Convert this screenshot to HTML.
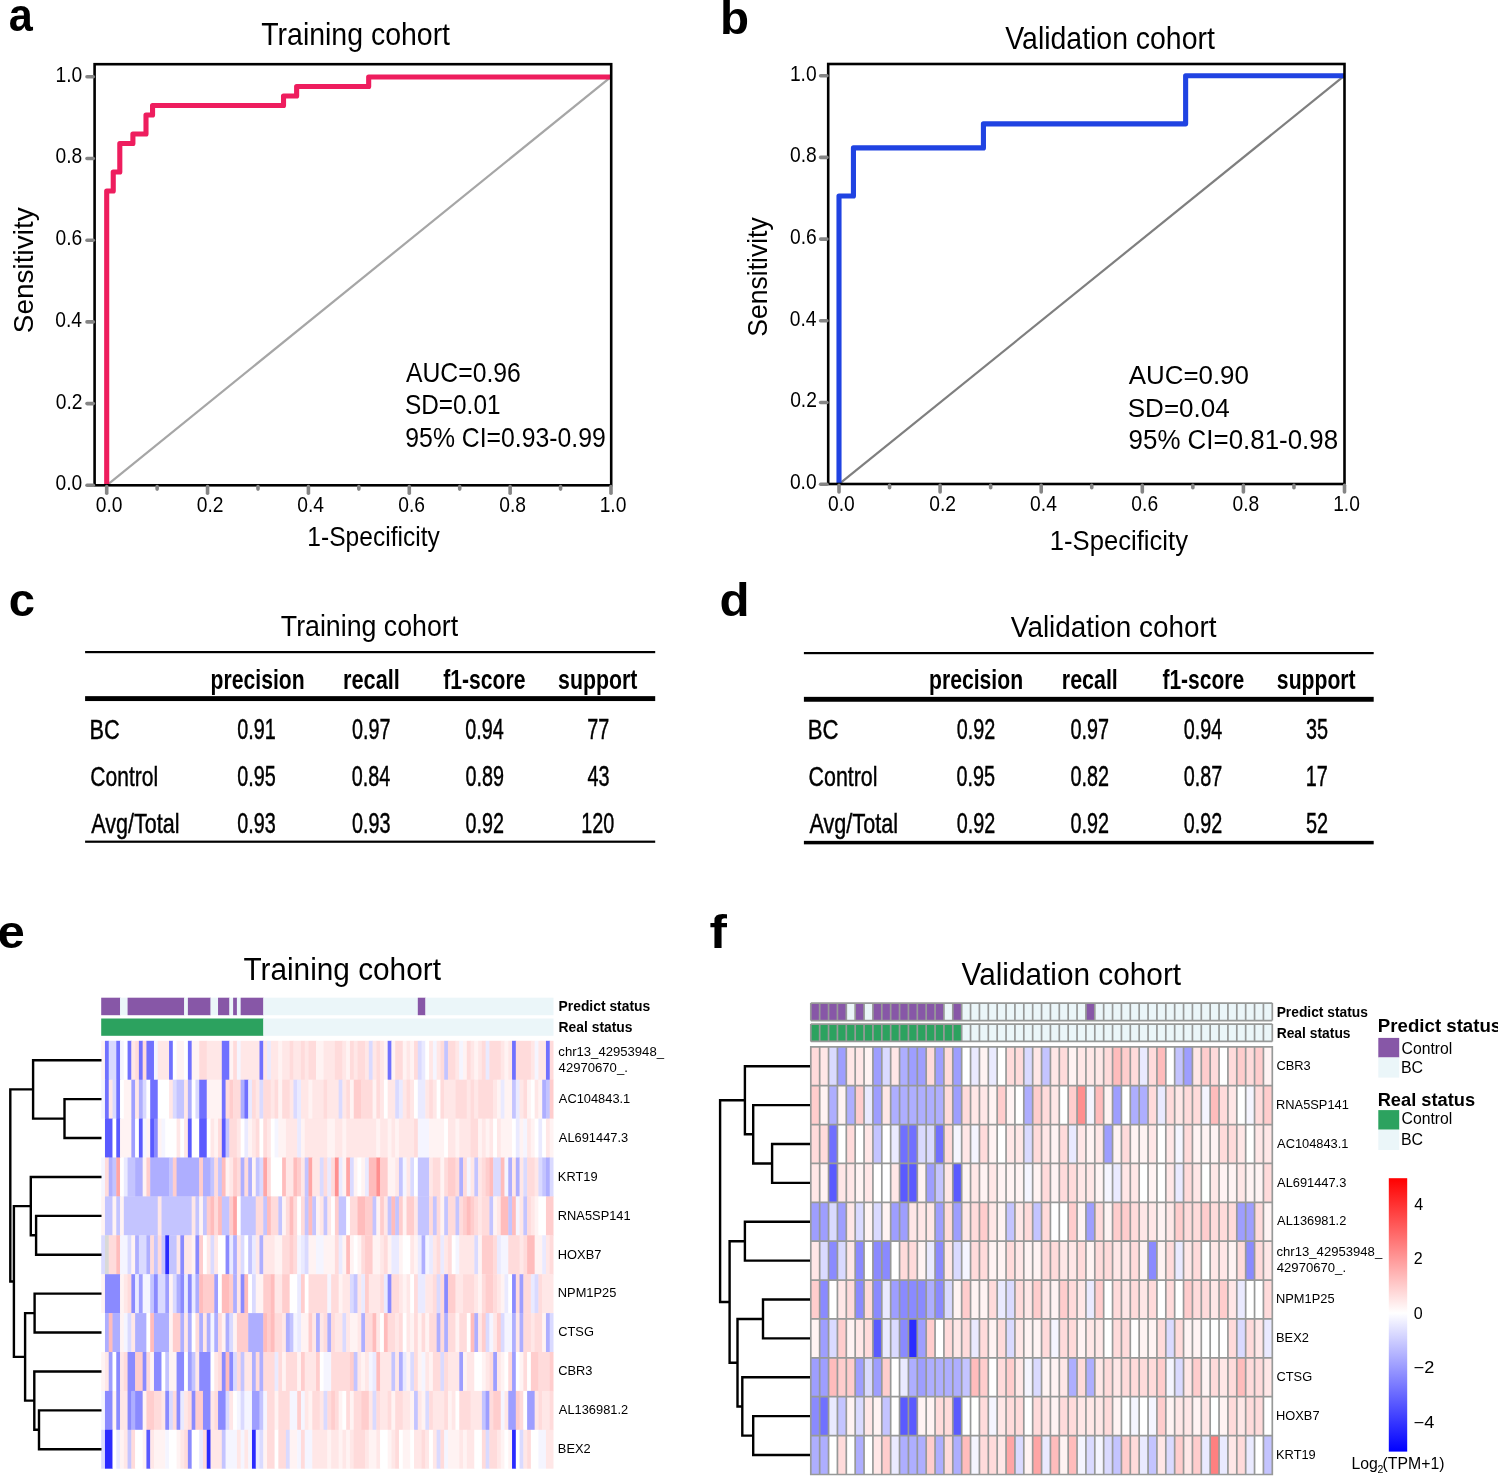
<!DOCTYPE html>
<html><head><meta charset="utf-8"><title>Figure</title>
<style>
html,body{margin:0;padding:0;background:#fff;}
body{width:1498px;height:1476px;overflow:hidden;}
svg{display:block;will-change:transform;}
text{font-family:"Liberation Sans",sans-serif;}
</style></head><body>
<svg width="1498" height="1476" viewBox="0 0 1498 1476">
<rect width="1498" height="1476" fill="#fff"/>
<text x="8.70" y="31.30" style="font-size:46.70px;font-weight:bold;" textLength="24.02" lengthAdjust="spacingAndGlyphs" fill="#000" >a</text>
<text x="719.91" y="33.60" style="font-size:45.79px;font-weight:bold;" textLength="29.03" lengthAdjust="spacingAndGlyphs" fill="#000" >b</text>
<text x="8.71" y="615.70" style="font-size:46.33px;font-weight:bold;" textLength="26.24" lengthAdjust="spacingAndGlyphs" fill="#000" >c</text>
<text x="719.63" y="615.90" style="font-size:46.34px;font-weight:bold;" textLength="30.12" lengthAdjust="spacingAndGlyphs" fill="#000" >d</text>
<text x="-2.46" y="947.50" style="font-size:46.51px;font-weight:bold;" textLength="27.32" lengthAdjust="spacingAndGlyphs" fill="#000" >e</text>
<text x="709.49" y="947.70" style="font-size:46.90px;font-weight:bold;" textLength="17.41" lengthAdjust="spacingAndGlyphs" fill="#000" >f</text>
<text x="261.26" y="44.60" style="font-size:31.56px;" textLength="188.77" lengthAdjust="spacingAndGlyphs" fill="#000" >Training cohort</text>
<line x1="106.70" y1="485.30" x2="611.00" y2="76.80" stroke="#A6A6A6" stroke-width="2.2" />
<polyline points="106.70,485.50 106.70,485.50 106.70,191.00 113.25,191.00 113.25,172.00 119.80,172.00 119.80,143.50 132.90,143.50 132.90,134.00 146.00,134.00 146.00,115.00 152.55,115.00 152.55,105.50 283.53,105.50 283.53,96.00 296.63,96.00 296.63,86.50 368.67,86.50 368.67,77.00 611.00,77.00" fill="none" stroke="#EE1D5E" stroke-width="5.1" stroke-linejoin="round" stroke-linecap="butt"/>
<rect x="94.60" y="64.20" width="516.60" height="421.10" fill="none" stroke="#000" stroke-width="2.6"/>
<line x1="87.00" y1="485.30" x2="93.30" y2="485.30" stroke="#858585" stroke-width="3.6" stroke-linecap="round"/>
<text x="55.50" y="490.20" style="font-size:21.36px;" textLength="26.73" lengthAdjust="spacingAndGlyphs" fill="#000" >0.0</text>
<line x1="87.00" y1="403.60" x2="93.30" y2="403.60" stroke="#858585" stroke-width="3.6" stroke-linecap="round"/>
<text x="55.74" y="408.50" style="font-size:21.36px;" textLength="26.73" lengthAdjust="spacingAndGlyphs" fill="#000" >0.2</text>
<line x1="87.00" y1="321.90" x2="93.30" y2="321.90" stroke="#858585" stroke-width="3.6" stroke-linecap="round"/>
<text x="55.30" y="326.80" style="font-size:21.36px;" textLength="26.73" lengthAdjust="spacingAndGlyphs" fill="#000" >0.4</text>
<line x1="87.00" y1="240.20" x2="93.30" y2="240.20" stroke="#858585" stroke-width="3.6" stroke-linecap="round"/>
<text x="55.59" y="245.10" style="font-size:21.36px;" textLength="26.73" lengthAdjust="spacingAndGlyphs" fill="#000" >0.6</text>
<line x1="87.00" y1="158.50" x2="93.30" y2="158.50" stroke="#858585" stroke-width="3.6" stroke-linecap="round"/>
<text x="55.59" y="163.40" style="font-size:21.36px;" textLength="26.73" lengthAdjust="spacingAndGlyphs" fill="#000" >0.8</text>
<line x1="87.00" y1="76.80" x2="93.30" y2="76.80" stroke="#858585" stroke-width="3.6" stroke-linecap="round"/>
<text x="55.50" y="81.70" style="font-size:21.36px;" textLength="26.73" lengthAdjust="spacingAndGlyphs" fill="#000" >1.0</text>
<line x1="106.70" y1="486.60" x2="106.70" y2="493.20" stroke="#858585" stroke-width="3.6" stroke-linecap="round"/>
<text x="95.71" y="512.20" style="font-size:21.36px;" textLength="26.73" lengthAdjust="spacingAndGlyphs" fill="#000" >0.0</text>
<line x1="157.13" y1="486.60" x2="157.13" y2="489.10" stroke="#858585" stroke-width="3.6" stroke-linecap="round"/>
<line x1="207.56" y1="486.60" x2="207.56" y2="493.20" stroke="#858585" stroke-width="3.6" stroke-linecap="round"/>
<text x="196.69" y="512.20" style="font-size:21.36px;" textLength="26.73" lengthAdjust="spacingAndGlyphs" fill="#000" >0.2</text>
<line x1="257.99" y1="486.60" x2="257.99" y2="489.10" stroke="#858585" stroke-width="3.6" stroke-linecap="round"/>
<line x1="308.42" y1="486.60" x2="308.42" y2="493.20" stroke="#858585" stroke-width="3.6" stroke-linecap="round"/>
<text x="297.34" y="512.20" style="font-size:21.36px;" textLength="26.73" lengthAdjust="spacingAndGlyphs" fill="#000" >0.4</text>
<line x1="358.85" y1="486.60" x2="358.85" y2="489.10" stroke="#858585" stroke-width="3.6" stroke-linecap="round"/>
<line x1="409.28" y1="486.60" x2="409.28" y2="493.20" stroke="#858585" stroke-width="3.6" stroke-linecap="round"/>
<text x="398.34" y="512.20" style="font-size:21.36px;" textLength="26.73" lengthAdjust="spacingAndGlyphs" fill="#000" >0.6</text>
<line x1="459.71" y1="486.60" x2="459.71" y2="489.10" stroke="#858585" stroke-width="3.6" stroke-linecap="round"/>
<line x1="510.14" y1="486.60" x2="510.14" y2="493.20" stroke="#858585" stroke-width="3.6" stroke-linecap="round"/>
<text x="499.20" y="512.20" style="font-size:21.36px;" textLength="26.73" lengthAdjust="spacingAndGlyphs" fill="#000" >0.8</text>
<line x1="560.57" y1="486.60" x2="560.57" y2="489.10" stroke="#858585" stroke-width="3.6" stroke-linecap="round"/>
<line x1="611.00" y1="486.60" x2="611.00" y2="493.20" stroke="#858585" stroke-width="3.6" stroke-linecap="round"/>
<text x="599.68" y="512.20" style="font-size:21.36px;" textLength="26.73" lengthAdjust="spacingAndGlyphs" fill="#000" >1.0</text>
<text x="-1.26" y="0.00" style="font-size:27.20px;" textLength="125.80" lengthAdjust="spacingAndGlyphs" fill="#000" transform="translate(33.20,331.90) rotate(-90)">Sensitivity</text>
<text x="307.36" y="545.50" style="font-size:28.07px;" textLength="132.42" lengthAdjust="spacingAndGlyphs" fill="#000" >1-Specificity</text>
<text x="406.04" y="381.80" style="font-size:26.95px;" textLength="114.76" lengthAdjust="spacingAndGlyphs" fill="#000" >AUC=0.96</text>
<text x="405.00" y="413.70" style="font-size:26.95px;" textLength="95.50" lengthAdjust="spacingAndGlyphs" fill="#000" >SD=0.01</text>
<text x="405.32" y="446.70" style="font-size:27.81px;" textLength="200.53" lengthAdjust="spacingAndGlyphs" fill="#000" >95% CI=0.93-0.99</text>
<text x="1005.26" y="48.60" style="font-size:31.13px;" textLength="209.56" lengthAdjust="spacingAndGlyphs" fill="#000" >Validation cohort</text>
<line x1="839.00" y1="484.20" x2="1344.50" y2="75.70" stroke="#7F7F7F" stroke-width="2.2" />
<polyline points="839.00,484.30 839.00,484.30 839.00,195.95 853.44,195.95 853.44,147.89 983.43,147.89 983.43,123.86 1185.63,123.86 1185.63,75.80 1344.50,75.80" fill="none" stroke="#2043E2" stroke-width="5.1" stroke-linejoin="round" stroke-linecap="butt"/>
<rect x="828.20" y="64.00" width="516.30" height="420.00" fill="none" stroke="#000" stroke-width="2.6"/>
<line x1="820.60" y1="484.20" x2="826.90" y2="484.20" stroke="#858585" stroke-width="3.6" stroke-linecap="round"/>
<text x="789.90" y="489.10" style="font-size:21.36px;" textLength="26.73" lengthAdjust="spacingAndGlyphs" fill="#000" >0.0</text>
<line x1="820.60" y1="402.50" x2="826.90" y2="402.50" stroke="#858585" stroke-width="3.6" stroke-linecap="round"/>
<text x="790.14" y="407.40" style="font-size:21.36px;" textLength="26.73" lengthAdjust="spacingAndGlyphs" fill="#000" >0.2</text>
<line x1="820.60" y1="320.80" x2="826.90" y2="320.80" stroke="#858585" stroke-width="3.6" stroke-linecap="round"/>
<text x="789.70" y="325.70" style="font-size:21.36px;" textLength="26.73" lengthAdjust="spacingAndGlyphs" fill="#000" >0.4</text>
<line x1="820.60" y1="239.10" x2="826.90" y2="239.10" stroke="#858585" stroke-width="3.6" stroke-linecap="round"/>
<text x="789.99" y="244.00" style="font-size:21.36px;" textLength="26.73" lengthAdjust="spacingAndGlyphs" fill="#000" >0.6</text>
<line x1="820.60" y1="157.40" x2="826.90" y2="157.40" stroke="#858585" stroke-width="3.6" stroke-linecap="round"/>
<text x="789.99" y="162.30" style="font-size:21.36px;" textLength="26.73" lengthAdjust="spacingAndGlyphs" fill="#000" >0.8</text>
<line x1="820.60" y1="75.70" x2="826.90" y2="75.70" stroke="#858585" stroke-width="3.6" stroke-linecap="round"/>
<text x="789.90" y="80.60" style="font-size:21.36px;" textLength="26.73" lengthAdjust="spacingAndGlyphs" fill="#000" >1.0</text>
<line x1="839.00" y1="485.30" x2="839.00" y2="491.90" stroke="#858585" stroke-width="3.6" stroke-linecap="round"/>
<text x="828.01" y="510.70" style="font-size:21.36px;" textLength="26.73" lengthAdjust="spacingAndGlyphs" fill="#000" >0.0</text>
<line x1="889.55" y1="485.30" x2="889.55" y2="487.80" stroke="#858585" stroke-width="3.6" stroke-linecap="round"/>
<line x1="940.10" y1="485.30" x2="940.10" y2="491.90" stroke="#858585" stroke-width="3.6" stroke-linecap="round"/>
<text x="929.23" y="510.70" style="font-size:21.36px;" textLength="26.73" lengthAdjust="spacingAndGlyphs" fill="#000" >0.2</text>
<line x1="990.65" y1="485.30" x2="990.65" y2="487.80" stroke="#858585" stroke-width="3.6" stroke-linecap="round"/>
<line x1="1041.20" y1="485.30" x2="1041.20" y2="491.90" stroke="#858585" stroke-width="3.6" stroke-linecap="round"/>
<text x="1030.12" y="510.70" style="font-size:21.36px;" textLength="26.73" lengthAdjust="spacingAndGlyphs" fill="#000" >0.4</text>
<line x1="1091.75" y1="485.30" x2="1091.75" y2="487.80" stroke="#858585" stroke-width="3.6" stroke-linecap="round"/>
<line x1="1142.30" y1="485.30" x2="1142.30" y2="491.90" stroke="#858585" stroke-width="3.6" stroke-linecap="round"/>
<text x="1131.36" y="510.70" style="font-size:21.36px;" textLength="26.73" lengthAdjust="spacingAndGlyphs" fill="#000" >0.6</text>
<line x1="1192.85" y1="485.30" x2="1192.85" y2="487.80" stroke="#858585" stroke-width="3.6" stroke-linecap="round"/>
<line x1="1243.40" y1="485.30" x2="1243.40" y2="491.90" stroke="#858585" stroke-width="3.6" stroke-linecap="round"/>
<text x="1232.46" y="510.70" style="font-size:21.36px;" textLength="26.73" lengthAdjust="spacingAndGlyphs" fill="#000" >0.8</text>
<line x1="1293.95" y1="485.30" x2="1293.95" y2="487.80" stroke="#858585" stroke-width="3.6" stroke-linecap="round"/>
<line x1="1344.50" y1="485.30" x2="1344.50" y2="491.90" stroke="#858585" stroke-width="3.6" stroke-linecap="round"/>
<text x="1333.18" y="510.70" style="font-size:21.36px;" textLength="26.73" lengthAdjust="spacingAndGlyphs" fill="#000" >1.0</text>
<text x="-1.19" y="0.00" style="font-size:27.64px;" textLength="119.44" lengthAdjust="spacingAndGlyphs" fill="#000" transform="translate(766.60,335.50) rotate(-90)">Sensitivity</text>
<text x="1049.78" y="549.50" style="font-size:27.93px;" textLength="138.21" lengthAdjust="spacingAndGlyphs" fill="#000" >1-Specificity</text>
<text x="1128.84" y="384.20" style="font-size:26.24px;" textLength="120.08" lengthAdjust="spacingAndGlyphs" fill="#000" >AUC=0.90</text>
<text x="1127.73" y="416.70" style="font-size:26.24px;" textLength="102.04" lengthAdjust="spacingAndGlyphs" fill="#000" >SD=0.04</text>
<text x="1128.57" y="449.30" style="font-size:27.38px;" textLength="209.57" lengthAdjust="spacingAndGlyphs" fill="#000" >95% CI=0.81-0.98</text>
<text x="280.80" y="635.60" style="font-size:29.67px;" textLength="177.42" lengthAdjust="spacingAndGlyphs" fill="#000" >Training cohort</text>
<rect x="85.10" y="651.00" width="570.10" height="2.20" fill="#000" />
<rect x="85.10" y="696.15" width="570.10" height="4.90" fill="#000" />
<rect x="85.10" y="840.60" width="570.10" height="2.20" fill="#000" />
<text x="210.62" y="688.80" style="font-size:28.06px;font-weight:bold;" textLength="94.07" lengthAdjust="spacingAndGlyphs" fill="#000" >precision</text>
<text x="343.09" y="688.80" style="font-size:28.06px;font-weight:bold;" textLength="56.75" lengthAdjust="spacingAndGlyphs" fill="#000" >recall</text>
<text x="443.33" y="688.80" style="font-size:28.06px;font-weight:bold;" textLength="82.07" lengthAdjust="spacingAndGlyphs" fill="#000" >f1-score</text>
<text x="558.05" y="688.80" style="font-size:28.06px;font-weight:bold;" textLength="79.30" lengthAdjust="spacingAndGlyphs" fill="#000" >support</text>
<text x="89.61" y="739.00" style="font-size:28.51px;" textLength="30.19" lengthAdjust="spacingAndGlyphs" fill="#000" stroke="#000" stroke-width="0.45">BC</text>
<text x="90.35" y="786.00" style="font-size:28.51px;" textLength="67.74" lengthAdjust="spacingAndGlyphs" fill="#000" stroke="#000" stroke-width="0.45">Control</text>
<text x="91.35" y="833.00" style="font-size:28.51px;" textLength="88.22" lengthAdjust="spacingAndGlyphs" fill="#000" stroke="#000" stroke-width="0.45">Avg/Total</text>
<text x="237.33" y="739.00" style="font-size:28.67px;" textLength="38.51" lengthAdjust="spacingAndGlyphs" fill="#000" stroke="#000" stroke-width="0.45">0.91</text>
<text x="352.06" y="739.00" style="font-size:28.67px;" textLength="38.51" lengthAdjust="spacingAndGlyphs" fill="#000" stroke="#000" stroke-width="0.45">0.97</text>
<text x="465.34" y="739.00" style="font-size:28.67px;" textLength="38.51" lengthAdjust="spacingAndGlyphs" fill="#000" stroke="#000" stroke-width="0.45">0.94</text>
<text x="587.22" y="739.00" style="font-size:28.67px;" textLength="22.01" lengthAdjust="spacingAndGlyphs" fill="#000" stroke="#000" stroke-width="0.45">77</text>
<text x="237.26" y="786.00" style="font-size:28.67px;" textLength="38.51" lengthAdjust="spacingAndGlyphs" fill="#000" stroke="#000" stroke-width="0.45">0.95</text>
<text x="351.84" y="786.00" style="font-size:28.67px;" textLength="38.51" lengthAdjust="spacingAndGlyphs" fill="#000" stroke="#000" stroke-width="0.45">0.84</text>
<text x="465.51" y="786.00" style="font-size:28.67px;" textLength="38.51" lengthAdjust="spacingAndGlyphs" fill="#000" stroke="#000" stroke-width="0.45">0.89</text>
<text x="587.42" y="786.00" style="font-size:28.67px;" textLength="22.01" lengthAdjust="spacingAndGlyphs" fill="#000" stroke="#000" stroke-width="0.45">43</text>
<text x="237.28" y="833.00" style="font-size:28.67px;" textLength="38.51" lengthAdjust="spacingAndGlyphs" fill="#000" stroke="#000" stroke-width="0.45">0.93</text>
<text x="351.98" y="833.00" style="font-size:28.67px;" textLength="38.51" lengthAdjust="spacingAndGlyphs" fill="#000" stroke="#000" stroke-width="0.45">0.93</text>
<text x="465.56" y="833.00" style="font-size:28.67px;" textLength="38.51" lengthAdjust="spacingAndGlyphs" fill="#000" stroke="#000" stroke-width="0.45">0.92</text>
<text x="581.33" y="833.00" style="font-size:28.67px;" textLength="33.01" lengthAdjust="spacingAndGlyphs" fill="#000" stroke="#000" stroke-width="0.45">120</text>
<text x="1010.86" y="636.70" style="font-size:29.67px;" textLength="205.66" lengthAdjust="spacingAndGlyphs" fill="#000" >Validation cohort</text>
<rect x="803.90" y="652.00" width="569.80" height="2.20" fill="#000" />
<rect x="803.90" y="696.85" width="569.80" height="4.90" fill="#000" />
<rect x="803.90" y="840.85" width="569.80" height="3.50" fill="#000" />
<text x="929.02" y="688.80" style="font-size:28.06px;font-weight:bold;" textLength="94.07" lengthAdjust="spacingAndGlyphs" fill="#000" >precision</text>
<text x="1061.81" y="688.80" style="font-size:28.06px;font-weight:bold;" textLength="56.01" lengthAdjust="spacingAndGlyphs" fill="#000" >recall</text>
<text x="1162.43" y="688.80" style="font-size:28.06px;font-weight:bold;" textLength="81.77" lengthAdjust="spacingAndGlyphs" fill="#000" >f1-score</text>
<text x="1276.86" y="688.80" style="font-size:28.06px;font-weight:bold;" textLength="78.79" lengthAdjust="spacingAndGlyphs" fill="#000" >support</text>
<text x="807.77" y="739.00" style="font-size:28.51px;" textLength="30.74" lengthAdjust="spacingAndGlyphs" fill="#000" stroke="#000" stroke-width="0.45">BC</text>
<text x="808.53" y="785.50" style="font-size:28.51px;" textLength="68.99" lengthAdjust="spacingAndGlyphs" fill="#000" stroke="#000" stroke-width="0.45">Control</text>
<text x="809.55" y="833.00" style="font-size:28.51px;" textLength="88.42" lengthAdjust="spacingAndGlyphs" fill="#000" stroke="#000" stroke-width="0.45">Avg/Total</text>
<text x="956.66" y="739.00" style="font-size:28.67px;" textLength="38.51" lengthAdjust="spacingAndGlyphs" fill="#000" stroke="#000" stroke-width="0.45">0.92</text>
<text x="1070.56" y="739.00" style="font-size:28.67px;" textLength="38.51" lengthAdjust="spacingAndGlyphs" fill="#000" stroke="#000" stroke-width="0.45">0.97</text>
<text x="1183.64" y="739.00" style="font-size:28.67px;" textLength="38.51" lengthAdjust="spacingAndGlyphs" fill="#000" stroke="#000" stroke-width="0.45">0.94</text>
<text x="1305.94" y="739.00" style="font-size:28.67px;" textLength="22.01" lengthAdjust="spacingAndGlyphs" fill="#000" stroke="#000" stroke-width="0.45">35</text>
<text x="956.56" y="785.50" style="font-size:28.67px;" textLength="38.51" lengthAdjust="spacingAndGlyphs" fill="#000" stroke="#000" stroke-width="0.45">0.95</text>
<text x="1070.56" y="785.50" style="font-size:28.67px;" textLength="38.51" lengthAdjust="spacingAndGlyphs" fill="#000" stroke="#000" stroke-width="0.45">0.82</text>
<text x="1183.86" y="785.50" style="font-size:28.67px;" textLength="38.51" lengthAdjust="spacingAndGlyphs" fill="#000" stroke="#000" stroke-width="0.45">0.87</text>
<text x="1305.67" y="785.50" style="font-size:28.67px;" textLength="22.01" lengthAdjust="spacingAndGlyphs" fill="#000" stroke="#000" stroke-width="0.45">17</text>
<text x="956.66" y="833.00" style="font-size:28.67px;" textLength="38.51" lengthAdjust="spacingAndGlyphs" fill="#000" stroke="#000" stroke-width="0.45">0.92</text>
<text x="1070.56" y="833.00" style="font-size:28.67px;" textLength="38.51" lengthAdjust="spacingAndGlyphs" fill="#000" stroke="#000" stroke-width="0.45">0.92</text>
<text x="1183.86" y="833.00" style="font-size:28.67px;" textLength="38.51" lengthAdjust="spacingAndGlyphs" fill="#000" stroke="#000" stroke-width="0.45">0.92</text>
<text x="1306.02" y="833.00" style="font-size:28.67px;" textLength="22.01" lengthAdjust="spacingAndGlyphs" fill="#000" stroke="#000" stroke-width="0.45">52</text>
<rect x="101.20" y="1040.80" width="4.17" height="39.30" fill="#fff3f3" />
<rect x="104.97" y="1040.80" width="4.17" height="39.30" fill="#7070ff" />
<rect x="108.74" y="1040.80" width="7.94" height="39.30" fill="#dadaff" />
<rect x="116.28" y="1040.80" width="4.17" height="39.30" fill="#7070ff" />
<rect x="120.05" y="1040.80" width="4.17" height="39.30" fill="#f5f5ff" />
<rect x="123.81" y="1040.80" width="4.17" height="39.30" fill="#ffffff" />
<rect x="127.58" y="1040.80" width="4.17" height="39.30" fill="#7070ff" />
<rect x="131.35" y="1040.80" width="4.17" height="39.30" fill="#ffe7e7" />
<rect x="135.12" y="1040.80" width="4.17" height="39.30" fill="#ffdbdb" />
<rect x="138.89" y="1040.80" width="4.17" height="39.30" fill="#7070ff" />
<rect x="142.66" y="1040.80" width="4.17" height="39.30" fill="#ffdbdb" />
<rect x="146.43" y="1040.80" width="7.94" height="39.30" fill="#7070ff" />
<rect x="153.97" y="1040.80" width="4.17" height="39.30" fill="#f5f5ff" />
<rect x="157.74" y="1040.80" width="11.71" height="39.30" fill="#ffe7e7" />
<rect x="169.05" y="1040.80" width="4.17" height="39.30" fill="#7070ff" />
<rect x="172.81" y="1040.80" width="4.17" height="39.30" fill="#ffffff" />
<rect x="176.58" y="1040.80" width="7.94" height="39.30" fill="#fff3f3" />
<rect x="184.12" y="1040.80" width="4.17" height="39.30" fill="#ffffff" />
<rect x="187.89" y="1040.80" width="4.17" height="39.30" fill="#7070ff" />
<rect x="191.66" y="1040.80" width="7.94" height="39.30" fill="#fff3f3" />
<rect x="199.20" y="1040.80" width="7.94" height="39.30" fill="#ffdbdb" />
<rect x="206.74" y="1040.80" width="15.48" height="39.30" fill="#ffe7e7" />
<rect x="221.81" y="1040.80" width="7.94" height="39.30" fill="#7070ff" />
<rect x="229.35" y="1040.80" width="4.17" height="39.30" fill="#fff3f3" />
<rect x="233.12" y="1040.80" width="4.17" height="39.30" fill="#ffdbdb" />
<rect x="236.89" y="1040.80" width="4.17" height="39.30" fill="#f5f5ff" />
<rect x="240.66" y="1040.80" width="19.25" height="39.30" fill="#ffe7e7" />
<rect x="259.50" y="1040.80" width="4.17" height="39.30" fill="#7070ff" />
<rect x="263.27" y="1040.80" width="4.17" height="39.30" fill="#ffe7e7" />
<rect x="267.04" y="1040.80" width="4.17" height="39.30" fill="#eaeaff" />
<rect x="270.81" y="1040.80" width="7.94" height="39.30" fill="#ffe7e7" />
<rect x="278.35" y="1040.80" width="4.17" height="39.30" fill="#fff3f3" />
<rect x="282.12" y="1040.80" width="7.94" height="39.30" fill="#ffe7e7" />
<rect x="289.66" y="1040.80" width="4.17" height="39.30" fill="#ffdbdb" />
<rect x="293.43" y="1040.80" width="7.94" height="39.30" fill="#ffe7e7" />
<rect x="300.97" y="1040.80" width="4.17" height="39.30" fill="#ffdbdb" />
<rect x="304.74" y="1040.80" width="4.17" height="39.30" fill="#ffe7e7" />
<rect x="308.50" y="1040.80" width="7.94" height="39.30" fill="#ffdbdb" />
<rect x="316.04" y="1040.80" width="7.94" height="39.30" fill="#fff3f3" />
<rect x="323.58" y="1040.80" width="11.71" height="39.30" fill="#ffe7e7" />
<rect x="334.89" y="1040.80" width="7.94" height="39.30" fill="#ffdbdb" />
<rect x="342.43" y="1040.80" width="4.17" height="39.30" fill="#ffe7e7" />
<rect x="346.20" y="1040.80" width="4.17" height="39.30" fill="#fff3f3" />
<rect x="349.96" y="1040.80" width="4.17" height="39.30" fill="#ffdbdb" />
<rect x="353.73" y="1040.80" width="4.17" height="39.30" fill="#ffe7e7" />
<rect x="357.50" y="1040.80" width="7.94" height="39.30" fill="#ffdbdb" />
<rect x="365.04" y="1040.80" width="4.17" height="39.30" fill="#ffe7e7" />
<rect x="368.81" y="1040.80" width="4.17" height="39.30" fill="#dadaff" />
<rect x="372.58" y="1040.80" width="4.17" height="39.30" fill="#ffe7e7" />
<rect x="376.35" y="1040.80" width="4.17" height="39.30" fill="#ffdbdb" />
<rect x="380.12" y="1040.80" width="4.17" height="39.30" fill="#ffe7e7" />
<rect x="383.89" y="1040.80" width="4.17" height="39.30" fill="#fff3f3" />
<rect x="387.66" y="1040.80" width="4.17" height="39.30" fill="#7070ff" />
<rect x="391.43" y="1040.80" width="4.17" height="39.30" fill="#fff3f3" />
<rect x="395.19" y="1040.80" width="7.94" height="39.30" fill="#ffdbdb" />
<rect x="402.73" y="1040.80" width="4.17" height="39.30" fill="#fff3f3" />
<rect x="406.50" y="1040.80" width="4.17" height="39.30" fill="#ffe7e7" />
<rect x="410.27" y="1040.80" width="4.17" height="39.30" fill="#fff3f3" />
<rect x="414.04" y="1040.80" width="4.17" height="39.30" fill="#ffdbdb" />
<rect x="417.81" y="1040.80" width="4.17" height="39.30" fill="#dadaff" />
<rect x="421.58" y="1040.80" width="4.17" height="39.30" fill="#eaeaff" />
<rect x="425.35" y="1040.80" width="4.17" height="39.30" fill="#ffffff" />
<rect x="429.12" y="1040.80" width="4.17" height="39.30" fill="#ffe7e7" />
<rect x="432.89" y="1040.80" width="4.17" height="39.30" fill="#f5f5ff" />
<rect x="436.66" y="1040.80" width="4.17" height="39.30" fill="#ffe7e7" />
<rect x="440.42" y="1040.80" width="4.17" height="39.30" fill="#ffdbdb" />
<rect x="444.19" y="1040.80" width="4.17" height="39.30" fill="#c4c4ff" />
<rect x="447.96" y="1040.80" width="7.94" height="39.30" fill="#ffdbdb" />
<rect x="455.50" y="1040.80" width="4.17" height="39.30" fill="#ffe7e7" />
<rect x="459.27" y="1040.80" width="4.17" height="39.30" fill="#f5f5ff" />
<rect x="463.04" y="1040.80" width="4.17" height="39.30" fill="#fff3f3" />
<rect x="466.81" y="1040.80" width="4.17" height="39.30" fill="#ffdbdb" />
<rect x="470.58" y="1040.80" width="4.17" height="39.30" fill="#ffe7e7" />
<rect x="474.35" y="1040.80" width="4.17" height="39.30" fill="#fff3f3" />
<rect x="478.12" y="1040.80" width="4.17" height="39.30" fill="#ffe7e7" />
<rect x="481.89" y="1040.80" width="4.17" height="39.30" fill="#ffdbdb" />
<rect x="485.65" y="1040.80" width="4.17" height="39.30" fill="#eaeaff" />
<rect x="489.42" y="1040.80" width="11.71" height="39.30" fill="#ffdbdb" />
<rect x="500.73" y="1040.80" width="4.17" height="39.30" fill="#ffe7e7" />
<rect x="504.50" y="1040.80" width="4.17" height="39.30" fill="#fff3f3" />
<rect x="508.27" y="1040.80" width="4.17" height="39.30" fill="#ffe7e7" />
<rect x="512.04" y="1040.80" width="4.17" height="39.30" fill="#7070ff" />
<rect x="515.81" y="1040.80" width="15.48" height="39.30" fill="#ffdbdb" />
<rect x="530.88" y="1040.80" width="4.17" height="39.30" fill="#ffe7e7" />
<rect x="534.65" y="1040.80" width="4.17" height="39.30" fill="#f5f5ff" />
<rect x="538.42" y="1040.80" width="7.94" height="39.30" fill="#ffe7e7" />
<rect x="545.96" y="1040.80" width="4.17" height="39.30" fill="#7070ff" />
<rect x="549.73" y="1040.80" width="3.77" height="39.30" fill="#ffdbdb" />
<rect x="101.20" y="1079.70" width="4.17" height="39.30" fill="#f5f5ff" />
<rect x="104.97" y="1079.70" width="4.17" height="39.30" fill="#7070ff" />
<rect x="108.74" y="1079.70" width="4.17" height="39.30" fill="#ffe7e7" />
<rect x="112.51" y="1079.70" width="4.17" height="39.30" fill="#dadaff" />
<rect x="116.28" y="1079.70" width="4.17" height="39.30" fill="#7070ff" />
<rect x="120.05" y="1079.70" width="4.17" height="39.30" fill="#ffffff" />
<rect x="123.81" y="1079.70" width="7.94" height="39.30" fill="#fff3f3" />
<rect x="131.35" y="1079.70" width="4.17" height="39.30" fill="#9e9eff" />
<rect x="135.12" y="1079.70" width="4.17" height="39.30" fill="#ffe7e7" />
<rect x="138.89" y="1079.70" width="4.17" height="39.30" fill="#aeaeff" />
<rect x="142.66" y="1079.70" width="4.17" height="39.30" fill="#dadaff" />
<rect x="146.43" y="1079.70" width="4.17" height="39.30" fill="#ffffff" />
<rect x="150.20" y="1079.70" width="7.94" height="39.30" fill="#7070ff" />
<rect x="157.74" y="1079.70" width="11.71" height="39.30" fill="#ffffff" />
<rect x="169.05" y="1079.70" width="4.17" height="39.30" fill="#ffe7e7" />
<rect x="172.81" y="1079.70" width="4.17" height="39.30" fill="#dadaff" />
<rect x="176.58" y="1079.70" width="7.94" height="39.30" fill="#c4c4ff" />
<rect x="184.12" y="1079.70" width="4.17" height="39.30" fill="#ffe7e7" />
<rect x="187.89" y="1079.70" width="4.17" height="39.30" fill="#aeaeff" />
<rect x="191.66" y="1079.70" width="4.17" height="39.30" fill="#ffffff" />
<rect x="195.43" y="1079.70" width="4.17" height="39.30" fill="#dadaff" />
<rect x="199.20" y="1079.70" width="7.94" height="39.30" fill="#7070ff" />
<rect x="206.74" y="1079.70" width="15.48" height="39.30" fill="#fff3f3" />
<rect x="221.81" y="1079.70" width="4.17" height="39.30" fill="#7070ff" />
<rect x="225.58" y="1079.70" width="4.17" height="39.30" fill="#ffdbdb" />
<rect x="229.35" y="1079.70" width="4.17" height="39.30" fill="#ffcdcd" />
<rect x="233.12" y="1079.70" width="7.94" height="39.30" fill="#ffdbdb" />
<rect x="240.66" y="1079.70" width="4.17" height="39.30" fill="#aeaeff" />
<rect x="244.43" y="1079.70" width="4.17" height="39.30" fill="#7070ff" />
<rect x="248.20" y="1079.70" width="4.17" height="39.30" fill="#eaeaff" />
<rect x="251.97" y="1079.70" width="4.17" height="39.30" fill="#ffdbdb" />
<rect x="255.74" y="1079.70" width="4.17" height="39.30" fill="#ffe7e7" />
<rect x="259.50" y="1079.70" width="4.17" height="39.30" fill="#dadaff" />
<rect x="263.27" y="1079.70" width="7.94" height="39.30" fill="#ffdbdb" />
<rect x="270.81" y="1079.70" width="4.17" height="39.30" fill="#ffe7e7" />
<rect x="274.58" y="1079.70" width="4.17" height="39.30" fill="#ffdbdb" />
<rect x="278.35" y="1079.70" width="4.17" height="39.30" fill="#fff3f3" />
<rect x="282.12" y="1079.70" width="7.94" height="39.30" fill="#ffdbdb" />
<rect x="289.66" y="1079.70" width="4.17" height="39.30" fill="#ffe7e7" />
<rect x="293.43" y="1079.70" width="4.17" height="39.30" fill="#dadaff" />
<rect x="297.20" y="1079.70" width="4.17" height="39.30" fill="#eaeaff" />
<rect x="300.97" y="1079.70" width="7.94" height="39.30" fill="#ffe7e7" />
<rect x="308.50" y="1079.70" width="4.17" height="39.30" fill="#fff3f3" />
<rect x="312.27" y="1079.70" width="11.71" height="39.30" fill="#ffe7e7" />
<rect x="323.58" y="1079.70" width="4.17" height="39.30" fill="#ffdbdb" />
<rect x="327.35" y="1079.70" width="11.71" height="39.30" fill="#ffe7e7" />
<rect x="338.66" y="1079.70" width="4.17" height="39.30" fill="#dadaff" />
<rect x="342.43" y="1079.70" width="4.17" height="39.30" fill="#ffe7e7" />
<rect x="346.20" y="1079.70" width="4.17" height="39.30" fill="#ffdbdb" />
<rect x="349.96" y="1079.70" width="4.17" height="39.30" fill="#fff3f3" />
<rect x="353.73" y="1079.70" width="7.94" height="39.30" fill="#ffcdcd" />
<rect x="361.27" y="1079.70" width="11.71" height="39.30" fill="#ffdbdb" />
<rect x="372.58" y="1079.70" width="4.17" height="39.30" fill="#fff3f3" />
<rect x="376.35" y="1079.70" width="4.17" height="39.30" fill="#ffdbdb" />
<rect x="380.12" y="1079.70" width="4.17" height="39.30" fill="#ffe7e7" />
<rect x="383.89" y="1079.70" width="4.17" height="39.30" fill="#ffffff" />
<rect x="387.66" y="1079.70" width="7.94" height="39.30" fill="#ffe7e7" />
<rect x="395.19" y="1079.70" width="4.17" height="39.30" fill="#dadaff" />
<rect x="398.96" y="1079.70" width="4.17" height="39.30" fill="#eaeaff" />
<rect x="402.73" y="1079.70" width="4.17" height="39.30" fill="#ffe7e7" />
<rect x="406.50" y="1079.70" width="4.17" height="39.30" fill="#ffdbdb" />
<rect x="410.27" y="1079.70" width="4.17" height="39.30" fill="#ffe7e7" />
<rect x="414.04" y="1079.70" width="4.17" height="39.30" fill="#ffffff" />
<rect x="417.81" y="1079.70" width="7.94" height="39.30" fill="#eaeaff" />
<rect x="425.35" y="1079.70" width="4.17" height="39.30" fill="#ffe7e7" />
<rect x="429.12" y="1079.70" width="4.17" height="39.30" fill="#ffdbdb" />
<rect x="432.89" y="1079.70" width="4.17" height="39.30" fill="#ffe7e7" />
<rect x="436.66" y="1079.70" width="4.17" height="39.30" fill="#ffffff" />
<rect x="440.42" y="1079.70" width="4.17" height="39.30" fill="#ffdbdb" />
<rect x="444.19" y="1079.70" width="11.71" height="39.30" fill="#ffe7e7" />
<rect x="455.50" y="1079.70" width="11.71" height="39.30" fill="#ffdbdb" />
<rect x="466.81" y="1079.70" width="4.17" height="39.30" fill="#ffe7e7" />
<rect x="470.58" y="1079.70" width="4.17" height="39.30" fill="#ffdbdb" />
<rect x="474.35" y="1079.70" width="4.17" height="39.30" fill="#ffe7e7" />
<rect x="478.12" y="1079.70" width="15.48" height="39.30" fill="#ffdbdb" />
<rect x="493.19" y="1079.70" width="4.17" height="39.30" fill="#ffe7e7" />
<rect x="496.96" y="1079.70" width="4.17" height="39.30" fill="#fff3f3" />
<rect x="500.73" y="1079.70" width="4.17" height="39.30" fill="#eaeaff" />
<rect x="504.50" y="1079.70" width="7.94" height="39.30" fill="#fff3f3" />
<rect x="512.04" y="1079.70" width="4.17" height="39.30" fill="#c4c4ff" />
<rect x="515.81" y="1079.70" width="4.17" height="39.30" fill="#eaeaff" />
<rect x="519.58" y="1079.70" width="4.17" height="39.30" fill="#ffe7e7" />
<rect x="523.35" y="1079.70" width="4.17" height="39.30" fill="#ffdbdb" />
<rect x="527.12" y="1079.70" width="4.17" height="39.30" fill="#fff3f3" />
<rect x="530.88" y="1079.70" width="4.17" height="39.30" fill="#ffffff" />
<rect x="534.65" y="1079.70" width="4.17" height="39.30" fill="#ffe7e7" />
<rect x="538.42" y="1079.70" width="4.17" height="39.30" fill="#fff3f3" />
<rect x="542.19" y="1079.70" width="4.17" height="39.30" fill="#aeaeff" />
<rect x="545.96" y="1079.70" width="4.17" height="39.30" fill="#c4c4ff" />
<rect x="549.73" y="1079.70" width="3.77" height="39.30" fill="#ffcdcd" />
<rect x="101.20" y="1118.60" width="4.17" height="39.30" fill="#ffffff" />
<rect x="104.97" y="1118.60" width="7.94" height="39.30" fill="#5a5aff" />
<rect x="112.51" y="1118.60" width="4.17" height="39.30" fill="#ffffff" />
<rect x="116.28" y="1118.60" width="4.17" height="39.30" fill="#5a5aff" />
<rect x="120.05" y="1118.60" width="11.71" height="39.30" fill="#fff3f3" />
<rect x="131.35" y="1118.60" width="4.17" height="39.30" fill="#9e9eff" />
<rect x="135.12" y="1118.60" width="4.17" height="39.30" fill="#ffffff" />
<rect x="138.89" y="1118.60" width="4.17" height="39.30" fill="#5a5aff" />
<rect x="142.66" y="1118.60" width="4.17" height="39.30" fill="#f5f5ff" />
<rect x="146.43" y="1118.60" width="4.17" height="39.30" fill="#fff3f3" />
<rect x="150.20" y="1118.60" width="4.17" height="39.30" fill="#5a5aff" />
<rect x="153.97" y="1118.60" width="4.17" height="39.30" fill="#8a8aff" />
<rect x="157.74" y="1118.60" width="4.17" height="39.30" fill="#fff3f3" />
<rect x="161.51" y="1118.60" width="4.17" height="39.30" fill="#f5f5ff" />
<rect x="165.28" y="1118.60" width="11.71" height="39.30" fill="#ffffff" />
<rect x="176.58" y="1118.60" width="4.17" height="39.30" fill="#ffe7e7" />
<rect x="180.35" y="1118.60" width="4.17" height="39.30" fill="#ffffff" />
<rect x="184.12" y="1118.60" width="4.17" height="39.30" fill="#ffe7e7" />
<rect x="187.89" y="1118.60" width="4.17" height="39.30" fill="#5a5aff" />
<rect x="191.66" y="1118.60" width="7.94" height="39.30" fill="#ffffff" />
<rect x="199.20" y="1118.60" width="7.94" height="39.30" fill="#5a5aff" />
<rect x="206.74" y="1118.60" width="4.17" height="39.30" fill="#ffffff" />
<rect x="210.51" y="1118.60" width="4.17" height="39.30" fill="#ffe7e7" />
<rect x="214.28" y="1118.60" width="4.17" height="39.30" fill="#fff3f3" />
<rect x="218.04" y="1118.60" width="4.17" height="39.30" fill="#ffdbdb" />
<rect x="221.81" y="1118.60" width="4.17" height="39.30" fill="#5a5aff" />
<rect x="225.58" y="1118.60" width="4.17" height="39.30" fill="#c4c4ff" />
<rect x="229.35" y="1118.60" width="7.94" height="39.30" fill="#ffdbdb" />
<rect x="236.89" y="1118.60" width="4.17" height="39.30" fill="#ffe7e7" />
<rect x="240.66" y="1118.60" width="4.17" height="39.30" fill="#ffffff" />
<rect x="244.43" y="1118.60" width="4.17" height="39.30" fill="#eaeaff" />
<rect x="248.20" y="1118.60" width="4.17" height="39.30" fill="#fff3f3" />
<rect x="251.97" y="1118.60" width="4.17" height="39.30" fill="#ffe7e7" />
<rect x="255.74" y="1118.60" width="4.17" height="39.30" fill="#ffdbdb" />
<rect x="259.50" y="1118.60" width="4.17" height="39.30" fill="#ffffff" />
<rect x="263.27" y="1118.60" width="4.17" height="39.30" fill="#ffdbdb" />
<rect x="267.04" y="1118.60" width="4.17" height="39.30" fill="#ffe7e7" />
<rect x="270.81" y="1118.60" width="4.17" height="39.30" fill="#ffffff" />
<rect x="274.58" y="1118.60" width="4.17" height="39.30" fill="#f5f5ff" />
<rect x="278.35" y="1118.60" width="7.94" height="39.30" fill="#fff3f3" />
<rect x="285.89" y="1118.60" width="11.71" height="39.30" fill="#ffe7e7" />
<rect x="297.20" y="1118.60" width="4.17" height="39.30" fill="#eaeaff" />
<rect x="300.97" y="1118.60" width="4.17" height="39.30" fill="#fff3f3" />
<rect x="304.74" y="1118.60" width="23.01" height="39.30" fill="#ffe7e7" />
<rect x="327.35" y="1118.60" width="7.94" height="39.30" fill="#fff3f3" />
<rect x="334.89" y="1118.60" width="7.94" height="39.30" fill="#ffe7e7" />
<rect x="342.43" y="1118.60" width="4.17" height="39.30" fill="#fff3f3" />
<rect x="346.20" y="1118.60" width="30.55" height="39.30" fill="#ffe7e7" />
<rect x="376.35" y="1118.60" width="4.17" height="39.30" fill="#fff3f3" />
<rect x="380.12" y="1118.60" width="7.94" height="39.30" fill="#ffe7e7" />
<rect x="387.66" y="1118.60" width="4.17" height="39.30" fill="#fff3f3" />
<rect x="391.43" y="1118.60" width="4.17" height="39.30" fill="#ffe7e7" />
<rect x="395.19" y="1118.60" width="4.17" height="39.30" fill="#fff3f3" />
<rect x="398.96" y="1118.60" width="15.48" height="39.30" fill="#ffe7e7" />
<rect x="414.04" y="1118.60" width="4.17" height="39.30" fill="#ffdbdb" />
<rect x="417.81" y="1118.60" width="11.71" height="39.30" fill="#f5f5ff" />
<rect x="429.12" y="1118.60" width="15.48" height="39.30" fill="#fff3f3" />
<rect x="444.19" y="1118.60" width="4.17" height="39.30" fill="#ffffff" />
<rect x="447.96" y="1118.60" width="7.94" height="39.30" fill="#ffe7e7" />
<rect x="455.50" y="1118.60" width="4.17" height="39.30" fill="#fff3f3" />
<rect x="459.27" y="1118.60" width="11.71" height="39.30" fill="#ffe7e7" />
<rect x="470.58" y="1118.60" width="7.94" height="39.30" fill="#ffdbdb" />
<rect x="478.12" y="1118.60" width="4.17" height="39.30" fill="#fff3f3" />
<rect x="481.89" y="1118.60" width="4.17" height="39.30" fill="#ffe7e7" />
<rect x="485.65" y="1118.60" width="4.17" height="39.30" fill="#fff3f3" />
<rect x="489.42" y="1118.60" width="4.17" height="39.30" fill="#ffe7e7" />
<rect x="493.19" y="1118.60" width="4.17" height="39.30" fill="#ffffff" />
<rect x="496.96" y="1118.60" width="4.17" height="39.30" fill="#ffe7e7" />
<rect x="500.73" y="1118.60" width="11.71" height="39.30" fill="#fff3f3" />
<rect x="512.04" y="1118.60" width="4.17" height="39.30" fill="#ffffff" />
<rect x="515.81" y="1118.60" width="4.17" height="39.30" fill="#eaeaff" />
<rect x="519.58" y="1118.60" width="4.17" height="39.30" fill="#fff3f3" />
<rect x="523.35" y="1118.60" width="4.17" height="39.30" fill="#f5f5ff" />
<rect x="527.12" y="1118.60" width="4.17" height="39.30" fill="#ffe7e7" />
<rect x="530.88" y="1118.60" width="4.17" height="39.30" fill="#fff3f3" />
<rect x="534.65" y="1118.60" width="4.17" height="39.30" fill="#ffffff" />
<rect x="538.42" y="1118.60" width="4.17" height="39.30" fill="#eaeaff" />
<rect x="542.19" y="1118.60" width="4.17" height="39.30" fill="#ffffff" />
<rect x="545.96" y="1118.60" width="4.17" height="39.30" fill="#ffe7e7" />
<rect x="549.73" y="1118.60" width="3.77" height="39.30" fill="#fff3f3" />
<rect x="101.20" y="1157.50" width="4.17" height="39.30" fill="#f5f5ff" />
<rect x="104.97" y="1157.50" width="4.17" height="39.30" fill="#ffdbdb" />
<rect x="108.74" y="1157.50" width="4.17" height="39.30" fill="#aeaeff" />
<rect x="112.51" y="1157.50" width="4.17" height="39.30" fill="#c4c4ff" />
<rect x="116.28" y="1157.50" width="4.17" height="39.30" fill="#ffa5a5" />
<rect x="120.05" y="1157.50" width="4.17" height="39.30" fill="#ffffff" />
<rect x="123.81" y="1157.50" width="4.17" height="39.30" fill="#eaeaff" />
<rect x="127.58" y="1157.50" width="7.94" height="39.30" fill="#c4c4ff" />
<rect x="135.12" y="1157.50" width="7.94" height="39.30" fill="#aeaeff" />
<rect x="142.66" y="1157.50" width="4.17" height="39.30" fill="#fff3f3" />
<rect x="146.43" y="1157.50" width="4.17" height="39.30" fill="#ffcdcd" />
<rect x="150.20" y="1157.50" width="19.25" height="39.30" fill="#aeaeff" />
<rect x="169.05" y="1157.50" width="4.17" height="39.30" fill="#c4c4ff" />
<rect x="172.81" y="1157.50" width="4.17" height="39.30" fill="#ffcdcd" />
<rect x="176.58" y="1157.50" width="23.01" height="39.30" fill="#aeaeff" />
<rect x="199.20" y="1157.50" width="4.17" height="39.30" fill="#ffcdcd" />
<rect x="202.97" y="1157.50" width="7.94" height="39.30" fill="#aeaeff" />
<rect x="210.51" y="1157.50" width="4.17" height="39.30" fill="#c4c4ff" />
<rect x="214.28" y="1157.50" width="4.17" height="39.30" fill="#ffdbdb" />
<rect x="218.04" y="1157.50" width="4.17" height="39.30" fill="#c4c4ff" />
<rect x="221.81" y="1157.50" width="4.17" height="39.30" fill="#ffbcbc" />
<rect x="225.58" y="1157.50" width="4.17" height="39.30" fill="#fff3f3" />
<rect x="229.35" y="1157.50" width="4.17" height="39.30" fill="#ffe7e7" />
<rect x="233.12" y="1157.50" width="4.17" height="39.30" fill="#ffcdcd" />
<rect x="236.89" y="1157.50" width="4.17" height="39.30" fill="#ffdbdb" />
<rect x="240.66" y="1157.50" width="4.17" height="39.30" fill="#aeaeff" />
<rect x="244.43" y="1157.50" width="4.17" height="39.30" fill="#ffdbdb" />
<rect x="248.20" y="1157.50" width="4.17" height="39.30" fill="#aeaeff" />
<rect x="251.97" y="1157.50" width="4.17" height="39.30" fill="#fff3f3" />
<rect x="255.74" y="1157.50" width="4.17" height="39.30" fill="#c4c4ff" />
<rect x="259.50" y="1157.50" width="4.17" height="39.30" fill="#dadaff" />
<rect x="263.27" y="1157.50" width="4.17" height="39.30" fill="#ffa5a5" />
<rect x="267.04" y="1157.50" width="4.17" height="39.30" fill="#ffdbdb" />
<rect x="270.81" y="1157.50" width="11.71" height="39.30" fill="#ffffff" />
<rect x="282.12" y="1157.50" width="4.17" height="39.30" fill="#ffbcbc" />
<rect x="285.89" y="1157.50" width="7.94" height="39.30" fill="#ffe7e7" />
<rect x="293.43" y="1157.50" width="4.17" height="39.30" fill="#ffbcbc" />
<rect x="297.20" y="1157.50" width="4.17" height="39.30" fill="#ffcdcd" />
<rect x="300.97" y="1157.50" width="4.17" height="39.30" fill="#ffe7e7" />
<rect x="304.74" y="1157.50" width="4.17" height="39.30" fill="#c4c4ff" />
<rect x="308.50" y="1157.50" width="4.17" height="39.30" fill="#ffa5a5" />
<rect x="312.27" y="1157.50" width="7.94" height="39.30" fill="#ffe7e7" />
<rect x="319.81" y="1157.50" width="4.17" height="39.30" fill="#dadaff" />
<rect x="323.58" y="1157.50" width="4.17" height="39.30" fill="#ffdbdb" />
<rect x="327.35" y="1157.50" width="4.17" height="39.30" fill="#eaeaff" />
<rect x="331.12" y="1157.50" width="4.17" height="39.30" fill="#ffdbdb" />
<rect x="334.89" y="1157.50" width="4.17" height="39.30" fill="#ff8f8f" />
<rect x="338.66" y="1157.50" width="4.17" height="39.30" fill="#eaeaff" />
<rect x="342.43" y="1157.50" width="4.17" height="39.30" fill="#fff3f3" />
<rect x="346.20" y="1157.50" width="4.17" height="39.30" fill="#ffa5a5" />
<rect x="349.96" y="1157.50" width="4.17" height="39.30" fill="#dadaff" />
<rect x="353.73" y="1157.50" width="4.17" height="39.30" fill="#fff3f3" />
<rect x="357.50" y="1157.50" width="4.17" height="39.30" fill="#ffffff" />
<rect x="361.27" y="1157.50" width="4.17" height="39.30" fill="#fff3f3" />
<rect x="365.04" y="1157.50" width="4.17" height="39.30" fill="#eaeaff" />
<rect x="368.81" y="1157.50" width="7.94" height="39.30" fill="#ffbcbc" />
<rect x="376.35" y="1157.50" width="4.17" height="39.30" fill="#ff8f8f" />
<rect x="380.12" y="1157.50" width="7.94" height="39.30" fill="#ffcdcd" />
<rect x="387.66" y="1157.50" width="7.94" height="39.30" fill="#fff3f3" />
<rect x="395.19" y="1157.50" width="4.17" height="39.30" fill="#ffe7e7" />
<rect x="398.96" y="1157.50" width="4.17" height="39.30" fill="#c4c4ff" />
<rect x="402.73" y="1157.50" width="4.17" height="39.30" fill="#f5f5ff" />
<rect x="406.50" y="1157.50" width="4.17" height="39.30" fill="#ffe7e7" />
<rect x="410.27" y="1157.50" width="4.17" height="39.30" fill="#dadaff" />
<rect x="414.04" y="1157.50" width="4.17" height="39.30" fill="#ffffff" />
<rect x="417.81" y="1157.50" width="11.71" height="39.30" fill="#c4c4ff" />
<rect x="429.12" y="1157.50" width="4.17" height="39.30" fill="#ffe7e7" />
<rect x="432.89" y="1157.50" width="7.94" height="39.30" fill="#ffdbdb" />
<rect x="440.42" y="1157.50" width="4.17" height="39.30" fill="#fff3f3" />
<rect x="444.19" y="1157.50" width="4.17" height="39.30" fill="#ffdbdb" />
<rect x="447.96" y="1157.50" width="7.94" height="39.30" fill="#ffcdcd" />
<rect x="455.50" y="1157.50" width="4.17" height="39.30" fill="#ffdbdb" />
<rect x="459.27" y="1157.50" width="4.17" height="39.30" fill="#aeaeff" />
<rect x="463.04" y="1157.50" width="4.17" height="39.30" fill="#ffdbdb" />
<rect x="466.81" y="1157.50" width="4.17" height="39.30" fill="#f5f5ff" />
<rect x="470.58" y="1157.50" width="4.17" height="39.30" fill="#ffe7e7" />
<rect x="474.35" y="1157.50" width="4.17" height="39.30" fill="#c4c4ff" />
<rect x="478.12" y="1157.50" width="4.17" height="39.30" fill="#ffe7e7" />
<rect x="481.89" y="1157.50" width="4.17" height="39.30" fill="#ffdbdb" />
<rect x="485.65" y="1157.50" width="4.17" height="39.30" fill="#ffcdcd" />
<rect x="489.42" y="1157.50" width="4.17" height="39.30" fill="#ffbcbc" />
<rect x="493.19" y="1157.50" width="7.94" height="39.30" fill="#dadaff" />
<rect x="500.73" y="1157.50" width="4.17" height="39.30" fill="#ffbcbc" />
<rect x="504.50" y="1157.50" width="4.17" height="39.30" fill="#f5f5ff" />
<rect x="508.27" y="1157.50" width="4.17" height="39.30" fill="#aeaeff" />
<rect x="512.04" y="1157.50" width="4.17" height="39.30" fill="#ffe7e7" />
<rect x="515.81" y="1157.50" width="4.17" height="39.30" fill="#aeaeff" />
<rect x="519.58" y="1157.50" width="4.17" height="39.30" fill="#ffe7e7" />
<rect x="523.35" y="1157.50" width="4.17" height="39.30" fill="#dadaff" />
<rect x="527.12" y="1157.50" width="7.94" height="39.30" fill="#ffdbdb" />
<rect x="534.65" y="1157.50" width="4.17" height="39.30" fill="#ffe7e7" />
<rect x="538.42" y="1157.50" width="4.17" height="39.30" fill="#dadaff" />
<rect x="542.19" y="1157.50" width="4.17" height="39.30" fill="#c4c4ff" />
<rect x="545.96" y="1157.50" width="4.17" height="39.30" fill="#aeaeff" />
<rect x="549.73" y="1157.50" width="3.77" height="39.30" fill="#dadaff" />
<rect x="101.20" y="1196.40" width="4.17" height="39.30" fill="#fff3f3" />
<rect x="104.97" y="1196.40" width="7.94" height="39.30" fill="#c4c4ff" />
<rect x="112.51" y="1196.40" width="4.17" height="39.30" fill="#fff3f3" />
<rect x="116.28" y="1196.40" width="4.17" height="39.30" fill="#c4c4ff" />
<rect x="120.05" y="1196.40" width="4.17" height="39.30" fill="#fff3f3" />
<rect x="123.81" y="1196.40" width="34.32" height="39.30" fill="#c4c4ff" />
<rect x="157.74" y="1196.40" width="4.17" height="39.30" fill="#ffe7e7" />
<rect x="161.51" y="1196.40" width="30.55" height="39.30" fill="#c4c4ff" />
<rect x="191.66" y="1196.40" width="4.17" height="39.30" fill="#ffe7e7" />
<rect x="195.43" y="1196.40" width="4.17" height="39.30" fill="#c4c4ff" />
<rect x="199.20" y="1196.40" width="4.17" height="39.30" fill="#fff3f3" />
<rect x="202.97" y="1196.40" width="4.17" height="39.30" fill="#c4c4ff" />
<rect x="206.74" y="1196.40" width="4.17" height="39.30" fill="#ffcdcd" />
<rect x="210.51" y="1196.40" width="4.17" height="39.30" fill="#ffbcbc" />
<rect x="214.28" y="1196.40" width="4.17" height="39.30" fill="#ffdbdb" />
<rect x="218.04" y="1196.40" width="4.17" height="39.30" fill="#ffbcbc" />
<rect x="221.81" y="1196.40" width="7.94" height="39.30" fill="#c4c4ff" />
<rect x="229.35" y="1196.40" width="4.17" height="39.30" fill="#ffcdcd" />
<rect x="233.12" y="1196.40" width="4.17" height="39.30" fill="#ffa5a5" />
<rect x="236.89" y="1196.40" width="4.17" height="39.30" fill="#ffffff" />
<rect x="240.66" y="1196.40" width="15.48" height="39.30" fill="#c4c4ff" />
<rect x="255.74" y="1196.40" width="7.94" height="39.30" fill="#ffdbdb" />
<rect x="263.27" y="1196.40" width="4.17" height="39.30" fill="#c4c4ff" />
<rect x="267.04" y="1196.40" width="4.17" height="39.30" fill="#ffbcbc" />
<rect x="270.81" y="1196.40" width="7.94" height="39.30" fill="#ffdbdb" />
<rect x="278.35" y="1196.40" width="4.17" height="39.30" fill="#c4c4ff" />
<rect x="282.12" y="1196.40" width="4.17" height="39.30" fill="#fff3f3" />
<rect x="285.89" y="1196.40" width="4.17" height="39.30" fill="#ffdbdb" />
<rect x="289.66" y="1196.40" width="4.17" height="39.30" fill="#ffbcbc" />
<rect x="293.43" y="1196.40" width="4.17" height="39.30" fill="#ffdbdb" />
<rect x="297.20" y="1196.40" width="4.17" height="39.30" fill="#ffffff" />
<rect x="300.97" y="1196.40" width="4.17" height="39.30" fill="#ffdbdb" />
<rect x="304.74" y="1196.40" width="4.17" height="39.30" fill="#c4c4ff" />
<rect x="308.50" y="1196.40" width="4.17" height="39.30" fill="#ffbcbc" />
<rect x="312.27" y="1196.40" width="4.17" height="39.30" fill="#c4c4ff" />
<rect x="316.04" y="1196.40" width="4.17" height="39.30" fill="#fff3f3" />
<rect x="319.81" y="1196.40" width="4.17" height="39.30" fill="#ffe7e7" />
<rect x="323.58" y="1196.40" width="4.17" height="39.30" fill="#c4c4ff" />
<rect x="327.35" y="1196.40" width="4.17" height="39.30" fill="#ffe7e7" />
<rect x="331.12" y="1196.40" width="4.17" height="39.30" fill="#ffffff" />
<rect x="334.89" y="1196.40" width="4.17" height="39.30" fill="#ffcdcd" />
<rect x="338.66" y="1196.40" width="7.94" height="39.30" fill="#c4c4ff" />
<rect x="346.20" y="1196.40" width="4.17" height="39.30" fill="#ffffff" />
<rect x="349.96" y="1196.40" width="7.94" height="39.30" fill="#ffdbdb" />
<rect x="357.50" y="1196.40" width="7.94" height="39.30" fill="#ffbcbc" />
<rect x="365.04" y="1196.40" width="7.94" height="39.30" fill="#ffcdcd" />
<rect x="372.58" y="1196.40" width="4.17" height="39.30" fill="#c4c4ff" />
<rect x="376.35" y="1196.40" width="4.17" height="39.30" fill="#fff3f3" />
<rect x="380.12" y="1196.40" width="4.17" height="39.30" fill="#ffcdcd" />
<rect x="383.89" y="1196.40" width="4.17" height="39.30" fill="#ffe7e7" />
<rect x="387.66" y="1196.40" width="4.17" height="39.30" fill="#c4c4ff" />
<rect x="391.43" y="1196.40" width="4.17" height="39.30" fill="#ffbcbc" />
<rect x="395.19" y="1196.40" width="4.17" height="39.30" fill="#c4c4ff" />
<rect x="398.96" y="1196.40" width="4.17" height="39.30" fill="#ffcdcd" />
<rect x="402.73" y="1196.40" width="4.17" height="39.30" fill="#fff3f3" />
<rect x="406.50" y="1196.40" width="7.94" height="39.30" fill="#ffcdcd" />
<rect x="414.04" y="1196.40" width="4.17" height="39.30" fill="#ffe7e7" />
<rect x="417.81" y="1196.40" width="11.71" height="39.30" fill="#c4c4ff" />
<rect x="429.12" y="1196.40" width="4.17" height="39.30" fill="#ffdbdb" />
<rect x="432.89" y="1196.40" width="4.17" height="39.30" fill="#c4c4ff" />
<rect x="436.66" y="1196.40" width="4.17" height="39.30" fill="#ffdbdb" />
<rect x="440.42" y="1196.40" width="4.17" height="39.30" fill="#fff3f3" />
<rect x="444.19" y="1196.40" width="4.17" height="39.30" fill="#c4c4ff" />
<rect x="447.96" y="1196.40" width="7.94" height="39.30" fill="#ffdbdb" />
<rect x="455.50" y="1196.40" width="4.17" height="39.30" fill="#c4c4ff" />
<rect x="459.27" y="1196.40" width="4.17" height="39.30" fill="#ffdbdb" />
<rect x="463.04" y="1196.40" width="4.17" height="39.30" fill="#ffcdcd" />
<rect x="466.81" y="1196.40" width="4.17" height="39.30" fill="#ffbcbc" />
<rect x="470.58" y="1196.40" width="4.17" height="39.30" fill="#ffcdcd" />
<rect x="474.35" y="1196.40" width="4.17" height="39.30" fill="#ffdbdb" />
<rect x="478.12" y="1196.40" width="4.17" height="39.30" fill="#ffe7e7" />
<rect x="481.89" y="1196.40" width="7.94" height="39.30" fill="#ffdbdb" />
<rect x="489.42" y="1196.40" width="4.17" height="39.30" fill="#c4c4ff" />
<rect x="493.19" y="1196.40" width="4.17" height="39.30" fill="#fff3f3" />
<rect x="496.96" y="1196.40" width="4.17" height="39.30" fill="#ffe7e7" />
<rect x="500.73" y="1196.40" width="7.94" height="39.30" fill="#ffbcbc" />
<rect x="508.27" y="1196.40" width="4.17" height="39.30" fill="#c4c4ff" />
<rect x="512.04" y="1196.40" width="4.17" height="39.30" fill="#ffbcbc" />
<rect x="515.81" y="1196.40" width="4.17" height="39.30" fill="#f5f5ff" />
<rect x="519.58" y="1196.40" width="4.17" height="39.30" fill="#ffe7e7" />
<rect x="523.35" y="1196.40" width="4.17" height="39.30" fill="#c4c4ff" />
<rect x="527.12" y="1196.40" width="4.17" height="39.30" fill="#ffdbdb" />
<rect x="530.88" y="1196.40" width="4.17" height="39.30" fill="#ffe7e7" />
<rect x="534.65" y="1196.40" width="4.17" height="39.30" fill="#fff3f3" />
<rect x="538.42" y="1196.40" width="7.94" height="39.30" fill="#ffffff" />
<rect x="545.96" y="1196.40" width="7.54" height="39.30" fill="#ffcdcd" />
<rect x="101.20" y="1235.30" width="4.17" height="39.30" fill="#dadaff" />
<rect x="104.97" y="1235.30" width="4.17" height="39.30" fill="#d9d9d9" />
<rect x="108.74" y="1235.30" width="7.94" height="39.30" fill="#ffdbdb" />
<rect x="116.28" y="1235.30" width="4.17" height="39.30" fill="#ffbcbc" />
<rect x="120.05" y="1235.30" width="7.94" height="39.30" fill="#f5f5ff" />
<rect x="127.58" y="1235.30" width="4.17" height="39.30" fill="#dadaff" />
<rect x="131.35" y="1235.30" width="4.17" height="39.30" fill="#fff3f3" />
<rect x="135.12" y="1235.30" width="4.17" height="39.30" fill="#aeaeff" />
<rect x="138.89" y="1235.30" width="7.94" height="39.30" fill="#dadaff" />
<rect x="146.43" y="1235.30" width="4.17" height="39.30" fill="#aeaeff" />
<rect x="150.20" y="1235.30" width="4.17" height="39.30" fill="#ffdbdb" />
<rect x="153.97" y="1235.30" width="4.17" height="39.30" fill="#c4c4ff" />
<rect x="157.74" y="1235.30" width="4.17" height="39.30" fill="#ffdbdb" />
<rect x="161.51" y="1235.30" width="4.17" height="39.30" fill="#c4c4ff" />
<rect x="165.28" y="1235.30" width="4.17" height="39.30" fill="#2a2aff" />
<rect x="169.05" y="1235.30" width="7.94" height="39.30" fill="#c4c4ff" />
<rect x="176.58" y="1235.30" width="4.17" height="39.30" fill="#ffe7e7" />
<rect x="180.35" y="1235.30" width="4.17" height="39.30" fill="#8a8aff" />
<rect x="184.12" y="1235.30" width="7.94" height="39.30" fill="#ffe7e7" />
<rect x="191.66" y="1235.30" width="4.17" height="39.30" fill="#fff3f3" />
<rect x="195.43" y="1235.30" width="4.17" height="39.30" fill="#8a8aff" />
<rect x="199.20" y="1235.30" width="4.17" height="39.30" fill="#ffcdcd" />
<rect x="202.97" y="1235.30" width="4.17" height="39.30" fill="#ffffff" />
<rect x="206.74" y="1235.30" width="4.17" height="39.30" fill="#ffe7e7" />
<rect x="210.51" y="1235.30" width="4.17" height="39.30" fill="#dadaff" />
<rect x="214.28" y="1235.30" width="4.17" height="39.30" fill="#ffe7e7" />
<rect x="218.04" y="1235.30" width="7.94" height="39.30" fill="#ffffff" />
<rect x="225.58" y="1235.30" width="4.17" height="39.30" fill="#8a8aff" />
<rect x="229.35" y="1235.30" width="4.17" height="39.30" fill="#eaeaff" />
<rect x="233.12" y="1235.30" width="4.17" height="39.30" fill="#aeaeff" />
<rect x="236.89" y="1235.30" width="4.17" height="39.30" fill="#ffe7e7" />
<rect x="240.66" y="1235.30" width="4.17" height="39.30" fill="#dadaff" />
<rect x="244.43" y="1235.30" width="4.17" height="39.30" fill="#ffffff" />
<rect x="248.20" y="1235.30" width="4.17" height="39.30" fill="#c4c4ff" />
<rect x="251.97" y="1235.30" width="4.17" height="39.30" fill="#eaeaff" />
<rect x="255.74" y="1235.30" width="4.17" height="39.30" fill="#ffe7e7" />
<rect x="259.50" y="1235.30" width="4.17" height="39.30" fill="#aeaeff" />
<rect x="263.27" y="1235.30" width="11.71" height="39.30" fill="#ffe7e7" />
<rect x="274.58" y="1235.30" width="7.94" height="39.30" fill="#fff3f3" />
<rect x="282.12" y="1235.30" width="7.94" height="39.30" fill="#ffdbdb" />
<rect x="289.66" y="1235.30" width="4.17" height="39.30" fill="#ffcdcd" />
<rect x="293.43" y="1235.30" width="4.17" height="39.30" fill="#ffdbdb" />
<rect x="297.20" y="1235.30" width="4.17" height="39.30" fill="#f5f5ff" />
<rect x="300.97" y="1235.30" width="4.17" height="39.30" fill="#eaeaff" />
<rect x="304.74" y="1235.30" width="4.17" height="39.30" fill="#dadaff" />
<rect x="308.50" y="1235.30" width="7.94" height="39.30" fill="#fff3f3" />
<rect x="316.04" y="1235.30" width="7.94" height="39.30" fill="#f5f5ff" />
<rect x="323.58" y="1235.30" width="11.71" height="39.30" fill="#fff3f3" />
<rect x="334.89" y="1235.30" width="4.17" height="39.30" fill="#ffdbdb" />
<rect x="338.66" y="1235.30" width="4.17" height="39.30" fill="#eaeaff" />
<rect x="342.43" y="1235.30" width="4.17" height="39.30" fill="#fff3f3" />
<rect x="346.20" y="1235.30" width="4.17" height="39.30" fill="#ffbcbc" />
<rect x="349.96" y="1235.30" width="4.17" height="39.30" fill="#fff3f3" />
<rect x="353.73" y="1235.30" width="4.17" height="39.30" fill="#ffffff" />
<rect x="357.50" y="1235.30" width="4.17" height="39.30" fill="#fff3f3" />
<rect x="361.27" y="1235.30" width="4.17" height="39.30" fill="#ffdbdb" />
<rect x="365.04" y="1235.30" width="7.94" height="39.30" fill="#ffcdcd" />
<rect x="372.58" y="1235.30" width="7.94" height="39.30" fill="#fff3f3" />
<rect x="380.12" y="1235.30" width="4.17" height="39.30" fill="#ffe7e7" />
<rect x="383.89" y="1235.30" width="4.17" height="39.30" fill="#ffdbdb" />
<rect x="387.66" y="1235.30" width="4.17" height="39.30" fill="#fff3f3" />
<rect x="391.43" y="1235.30" width="7.94" height="39.30" fill="#eaeaff" />
<rect x="398.96" y="1235.30" width="4.17" height="39.30" fill="#fff3f3" />
<rect x="402.73" y="1235.30" width="7.94" height="39.30" fill="#ffffff" />
<rect x="410.27" y="1235.30" width="4.17" height="39.30" fill="#ffe7e7" />
<rect x="414.04" y="1235.30" width="4.17" height="39.30" fill="#fff3f3" />
<rect x="417.81" y="1235.30" width="4.17" height="39.30" fill="#eaeaff" />
<rect x="421.58" y="1235.30" width="4.17" height="39.30" fill="#aeaeff" />
<rect x="425.35" y="1235.30" width="4.17" height="39.30" fill="#f5f5ff" />
<rect x="429.12" y="1235.30" width="4.17" height="39.30" fill="#eaeaff" />
<rect x="432.89" y="1235.30" width="4.17" height="39.30" fill="#ffe7e7" />
<rect x="436.66" y="1235.30" width="4.17" height="39.30" fill="#ffdbdb" />
<rect x="440.42" y="1235.30" width="4.17" height="39.30" fill="#eaeaff" />
<rect x="444.19" y="1235.30" width="4.17" height="39.30" fill="#ffe7e7" />
<rect x="447.96" y="1235.30" width="4.17" height="39.30" fill="#ffdbdb" />
<rect x="451.73" y="1235.30" width="4.17" height="39.30" fill="#ffffff" />
<rect x="455.50" y="1235.30" width="4.17" height="39.30" fill="#f5f5ff" />
<rect x="459.27" y="1235.30" width="15.48" height="39.30" fill="#ffe7e7" />
<rect x="474.35" y="1235.30" width="4.17" height="39.30" fill="#dadaff" />
<rect x="478.12" y="1235.30" width="4.17" height="39.30" fill="#fff3f3" />
<rect x="481.89" y="1235.30" width="11.71" height="39.30" fill="#ffcdcd" />
<rect x="493.19" y="1235.30" width="4.17" height="39.30" fill="#ffdbdb" />
<rect x="496.96" y="1235.30" width="4.17" height="39.30" fill="#eaeaff" />
<rect x="500.73" y="1235.30" width="7.94" height="39.30" fill="#f5f5ff" />
<rect x="508.27" y="1235.30" width="11.71" height="39.30" fill="#ffdbdb" />
<rect x="519.58" y="1235.30" width="4.17" height="39.30" fill="#ffe7e7" />
<rect x="523.35" y="1235.30" width="4.17" height="39.30" fill="#ffdbdb" />
<rect x="527.12" y="1235.30" width="7.94" height="39.30" fill="#ffbcbc" />
<rect x="534.65" y="1235.30" width="7.94" height="39.30" fill="#fff3f3" />
<rect x="542.19" y="1235.30" width="4.17" height="39.30" fill="#eaeaff" />
<rect x="545.96" y="1235.30" width="4.17" height="39.30" fill="#ffe7e7" />
<rect x="549.73" y="1235.30" width="3.77" height="39.30" fill="#ffdbdb" />
<rect x="101.20" y="1274.20" width="4.17" height="39.30" fill="#fff3f3" />
<rect x="104.97" y="1274.20" width="15.48" height="39.30" fill="#8a8aff" />
<rect x="120.05" y="1274.20" width="4.17" height="39.30" fill="#fff3f3" />
<rect x="123.81" y="1274.20" width="4.17" height="39.30" fill="#ffe7e7" />
<rect x="127.58" y="1274.20" width="4.17" height="39.30" fill="#ffdbdb" />
<rect x="131.35" y="1274.20" width="4.17" height="39.30" fill="#8a8aff" />
<rect x="135.12" y="1274.20" width="4.17" height="39.30" fill="#eaeaff" />
<rect x="138.89" y="1274.20" width="4.17" height="39.30" fill="#9e9eff" />
<rect x="142.66" y="1274.20" width="7.94" height="39.30" fill="#f5f5ff" />
<rect x="150.20" y="1274.20" width="4.17" height="39.30" fill="#c4c4ff" />
<rect x="153.97" y="1274.20" width="4.17" height="39.30" fill="#8a8aff" />
<rect x="157.74" y="1274.20" width="7.94" height="39.30" fill="#dadaff" />
<rect x="165.28" y="1274.20" width="4.17" height="39.30" fill="#9e9eff" />
<rect x="169.05" y="1274.20" width="4.17" height="39.30" fill="#fff3f3" />
<rect x="172.81" y="1274.20" width="4.17" height="39.30" fill="#dadaff" />
<rect x="176.58" y="1274.20" width="4.17" height="39.30" fill="#aeaeff" />
<rect x="180.35" y="1274.20" width="4.17" height="39.30" fill="#8a8aff" />
<rect x="184.12" y="1274.20" width="4.17" height="39.30" fill="#eaeaff" />
<rect x="187.89" y="1274.20" width="4.17" height="39.30" fill="#8a8aff" />
<rect x="191.66" y="1274.20" width="4.17" height="39.30" fill="#eaeaff" />
<rect x="195.43" y="1274.20" width="4.17" height="39.30" fill="#aeaeff" />
<rect x="199.20" y="1274.20" width="4.17" height="39.30" fill="#ffbcbc" />
<rect x="202.97" y="1274.20" width="11.71" height="39.30" fill="#ffcdcd" />
<rect x="214.28" y="1274.20" width="4.17" height="39.30" fill="#9e9eff" />
<rect x="218.04" y="1274.20" width="4.17" height="39.30" fill="#ffffff" />
<rect x="221.81" y="1274.20" width="7.94" height="39.30" fill="#ffbcbc" />
<rect x="229.35" y="1274.20" width="4.17" height="39.30" fill="#ffcdcd" />
<rect x="233.12" y="1274.20" width="4.17" height="39.30" fill="#aeaeff" />
<rect x="236.89" y="1274.20" width="4.17" height="39.30" fill="#ffe7e7" />
<rect x="240.66" y="1274.20" width="4.17" height="39.30" fill="#8a8aff" />
<rect x="244.43" y="1274.20" width="4.17" height="39.30" fill="#ffbcbc" />
<rect x="248.20" y="1274.20" width="4.17" height="39.30" fill="#ffffff" />
<rect x="251.97" y="1274.20" width="4.17" height="39.30" fill="#dadaff" />
<rect x="255.74" y="1274.20" width="7.94" height="39.30" fill="#fff3f3" />
<rect x="263.27" y="1274.20" width="7.94" height="39.30" fill="#ffcdcd" />
<rect x="270.81" y="1274.20" width="4.17" height="39.30" fill="#ffbcbc" />
<rect x="274.58" y="1274.20" width="7.94" height="39.30" fill="#ffe7e7" />
<rect x="282.12" y="1274.20" width="7.94" height="39.30" fill="#ffcdcd" />
<rect x="289.66" y="1274.20" width="7.94" height="39.30" fill="#ffffff" />
<rect x="297.20" y="1274.20" width="4.17" height="39.30" fill="#eaeaff" />
<rect x="300.97" y="1274.20" width="4.17" height="39.30" fill="#ffcdcd" />
<rect x="304.74" y="1274.20" width="4.17" height="39.30" fill="#ffffff" />
<rect x="308.50" y="1274.20" width="19.25" height="39.30" fill="#ffdbdb" />
<rect x="327.35" y="1274.20" width="4.17" height="39.30" fill="#f5f5ff" />
<rect x="331.12" y="1274.20" width="7.94" height="39.30" fill="#ffdbdb" />
<rect x="338.66" y="1274.20" width="4.17" height="39.30" fill="#fff3f3" />
<rect x="342.43" y="1274.20" width="7.94" height="39.30" fill="#ffe7e7" />
<rect x="349.96" y="1274.20" width="4.17" height="39.30" fill="#dadaff" />
<rect x="353.73" y="1274.20" width="4.17" height="39.30" fill="#c4c4ff" />
<rect x="357.50" y="1274.20" width="4.17" height="39.30" fill="#ffe7e7" />
<rect x="361.27" y="1274.20" width="4.17" height="39.30" fill="#eaeaff" />
<rect x="365.04" y="1274.20" width="4.17" height="39.30" fill="#ffcdcd" />
<rect x="368.81" y="1274.20" width="11.71" height="39.30" fill="#ffe7e7" />
<rect x="380.12" y="1274.20" width="4.17" height="39.30" fill="#ffdbdb" />
<rect x="383.89" y="1274.20" width="4.17" height="39.30" fill="#eaeaff" />
<rect x="387.66" y="1274.20" width="4.17" height="39.30" fill="#8a8aff" />
<rect x="391.43" y="1274.20" width="7.94" height="39.30" fill="#ffdbdb" />
<rect x="398.96" y="1274.20" width="4.17" height="39.30" fill="#ffe7e7" />
<rect x="402.73" y="1274.20" width="4.17" height="39.30" fill="#fff3f3" />
<rect x="406.50" y="1274.20" width="4.17" height="39.30" fill="#ffe7e7" />
<rect x="410.27" y="1274.20" width="4.17" height="39.30" fill="#ffffff" />
<rect x="414.04" y="1274.20" width="4.17" height="39.30" fill="#ffdbdb" />
<rect x="417.81" y="1274.20" width="7.94" height="39.30" fill="#eaeaff" />
<rect x="425.35" y="1274.20" width="7.94" height="39.30" fill="#ffe7e7" />
<rect x="432.89" y="1274.20" width="4.17" height="39.30" fill="#ffdbdb" />
<rect x="436.66" y="1274.20" width="4.17" height="39.30" fill="#dadaff" />
<rect x="440.42" y="1274.20" width="4.17" height="39.30" fill="#ffdbdb" />
<rect x="444.19" y="1274.20" width="4.17" height="39.30" fill="#8a8aff" />
<rect x="447.96" y="1274.20" width="7.94" height="39.30" fill="#ffcdcd" />
<rect x="455.50" y="1274.20" width="7.94" height="39.30" fill="#ffe7e7" />
<rect x="463.04" y="1274.20" width="11.71" height="39.30" fill="#ffdbdb" />
<rect x="474.35" y="1274.20" width="4.17" height="39.30" fill="#ffe7e7" />
<rect x="478.12" y="1274.20" width="4.17" height="39.30" fill="#fff3f3" />
<rect x="481.89" y="1274.20" width="4.17" height="39.30" fill="#ffdbdb" />
<rect x="485.65" y="1274.20" width="7.94" height="39.30" fill="#ffcdcd" />
<rect x="493.19" y="1274.20" width="4.17" height="39.30" fill="#ffdbdb" />
<rect x="496.96" y="1274.20" width="4.17" height="39.30" fill="#ffe7e7" />
<rect x="500.73" y="1274.20" width="4.17" height="39.30" fill="#fff3f3" />
<rect x="504.50" y="1274.20" width="4.17" height="39.30" fill="#eaeaff" />
<rect x="508.27" y="1274.20" width="4.17" height="39.30" fill="#ffffff" />
<rect x="512.04" y="1274.20" width="4.17" height="39.30" fill="#8a8aff" />
<rect x="515.81" y="1274.20" width="4.17" height="39.30" fill="#ffdbdb" />
<rect x="519.58" y="1274.20" width="4.17" height="39.30" fill="#9e9eff" />
<rect x="523.35" y="1274.20" width="7.94" height="39.30" fill="#ffdbdb" />
<rect x="530.88" y="1274.20" width="4.17" height="39.30" fill="#eaeaff" />
<rect x="534.65" y="1274.20" width="4.17" height="39.30" fill="#dadaff" />
<rect x="538.42" y="1274.20" width="4.17" height="39.30" fill="#ffdbdb" />
<rect x="542.19" y="1274.20" width="11.31" height="39.30" fill="#ffe7e7" />
<rect x="101.20" y="1313.10" width="4.17" height="39.30" fill="#ffffff" />
<rect x="104.97" y="1313.10" width="4.17" height="39.30" fill="#aeaeff" />
<rect x="108.74" y="1313.10" width="4.17" height="39.30" fill="#ffbcbc" />
<rect x="112.51" y="1313.10" width="7.94" height="39.30" fill="#aeaeff" />
<rect x="120.05" y="1313.10" width="4.17" height="39.30" fill="#fff3f3" />
<rect x="123.81" y="1313.10" width="4.17" height="39.30" fill="#f5f5ff" />
<rect x="127.58" y="1313.10" width="4.17" height="39.30" fill="#dadaff" />
<rect x="131.35" y="1313.10" width="4.17" height="39.30" fill="#ffe7e7" />
<rect x="135.12" y="1313.10" width="11.71" height="39.30" fill="#aeaeff" />
<rect x="146.43" y="1313.10" width="4.17" height="39.30" fill="#ffffff" />
<rect x="150.20" y="1313.10" width="4.17" height="39.30" fill="#ffbcbc" />
<rect x="153.97" y="1313.10" width="15.48" height="39.30" fill="#aeaeff" />
<rect x="169.05" y="1313.10" width="4.17" height="39.30" fill="#fff3f3" />
<rect x="172.81" y="1313.10" width="7.94" height="39.30" fill="#ffcdcd" />
<rect x="180.35" y="1313.10" width="4.17" height="39.30" fill="#aeaeff" />
<rect x="184.12" y="1313.10" width="4.17" height="39.30" fill="#ffe7e7" />
<rect x="187.89" y="1313.10" width="4.17" height="39.30" fill="#aeaeff" />
<rect x="191.66" y="1313.10" width="4.17" height="39.30" fill="#ffffff" />
<rect x="195.43" y="1313.10" width="4.17" height="39.30" fill="#ffdbdb" />
<rect x="199.20" y="1313.10" width="4.17" height="39.30" fill="#aeaeff" />
<rect x="202.97" y="1313.10" width="4.17" height="39.30" fill="#ffe7e7" />
<rect x="206.74" y="1313.10" width="4.17" height="39.30" fill="#aeaeff" />
<rect x="210.51" y="1313.10" width="4.17" height="39.30" fill="#f5f5ff" />
<rect x="214.28" y="1313.10" width="4.17" height="39.30" fill="#aeaeff" />
<rect x="218.04" y="1313.10" width="4.17" height="39.30" fill="#ffdbdb" />
<rect x="221.81" y="1313.10" width="4.17" height="39.30" fill="#fff3f3" />
<rect x="225.58" y="1313.10" width="4.17" height="39.30" fill="#aeaeff" />
<rect x="229.35" y="1313.10" width="4.17" height="39.30" fill="#dadaff" />
<rect x="233.12" y="1313.10" width="4.17" height="39.30" fill="#fff3f3" />
<rect x="236.89" y="1313.10" width="11.71" height="39.30" fill="#ffcdcd" />
<rect x="248.20" y="1313.10" width="15.48" height="39.30" fill="#aeaeff" />
<rect x="263.27" y="1313.10" width="4.17" height="39.30" fill="#ffbcbc" />
<rect x="267.04" y="1313.10" width="4.17" height="39.30" fill="#ffcdcd" />
<rect x="270.81" y="1313.10" width="4.17" height="39.30" fill="#ffbcbc" />
<rect x="274.58" y="1313.10" width="7.94" height="39.30" fill="#ffdbdb" />
<rect x="282.12" y="1313.10" width="4.17" height="39.30" fill="#ffe7e7" />
<rect x="285.89" y="1313.10" width="4.17" height="39.30" fill="#aeaeff" />
<rect x="289.66" y="1313.10" width="4.17" height="39.30" fill="#c4c4ff" />
<rect x="293.43" y="1313.10" width="4.17" height="39.30" fill="#f5f5ff" />
<rect x="297.20" y="1313.10" width="4.17" height="39.30" fill="#eaeaff" />
<rect x="300.97" y="1313.10" width="7.94" height="39.30" fill="#fff3f3" />
<rect x="308.50" y="1313.10" width="4.17" height="39.30" fill="#ffcdcd" />
<rect x="312.27" y="1313.10" width="4.17" height="39.30" fill="#ffe7e7" />
<rect x="316.04" y="1313.10" width="4.17" height="39.30" fill="#aeaeff" />
<rect x="319.81" y="1313.10" width="4.17" height="39.30" fill="#ffe7e7" />
<rect x="323.58" y="1313.10" width="4.17" height="39.30" fill="#ffdbdb" />
<rect x="327.35" y="1313.10" width="4.17" height="39.30" fill="#aeaeff" />
<rect x="331.12" y="1313.10" width="4.17" height="39.30" fill="#ffdbdb" />
<rect x="334.89" y="1313.10" width="7.94" height="39.30" fill="#ffe7e7" />
<rect x="342.43" y="1313.10" width="4.17" height="39.30" fill="#dadaff" />
<rect x="346.20" y="1313.10" width="4.17" height="39.30" fill="#ffe7e7" />
<rect x="349.96" y="1313.10" width="7.94" height="39.30" fill="#fff3f3" />
<rect x="357.50" y="1313.10" width="4.17" height="39.30" fill="#ffe7e7" />
<rect x="361.27" y="1313.10" width="4.17" height="39.30" fill="#aeaeff" />
<rect x="365.04" y="1313.10" width="7.94" height="39.30" fill="#ffdbdb" />
<rect x="372.58" y="1313.10" width="4.17" height="39.30" fill="#ffbcbc" />
<rect x="376.35" y="1313.10" width="4.17" height="39.30" fill="#ffe7e7" />
<rect x="380.12" y="1313.10" width="4.17" height="39.30" fill="#ffffff" />
<rect x="383.89" y="1313.10" width="4.17" height="39.30" fill="#ffbcbc" />
<rect x="387.66" y="1313.10" width="7.94" height="39.30" fill="#ffdbdb" />
<rect x="395.19" y="1313.10" width="4.17" height="39.30" fill="#ffe7e7" />
<rect x="398.96" y="1313.10" width="4.17" height="39.30" fill="#ffdbdb" />
<rect x="402.73" y="1313.10" width="4.17" height="39.30" fill="#ffffff" />
<rect x="406.50" y="1313.10" width="4.17" height="39.30" fill="#ffe7e7" />
<rect x="410.27" y="1313.10" width="4.17" height="39.30" fill="#fff3f3" />
<rect x="414.04" y="1313.10" width="4.17" height="39.30" fill="#ffdbdb" />
<rect x="417.81" y="1313.10" width="4.17" height="39.30" fill="#fff3f3" />
<rect x="421.58" y="1313.10" width="4.17" height="39.30" fill="#ffdbdb" />
<rect x="425.35" y="1313.10" width="4.17" height="39.30" fill="#fff3f3" />
<rect x="429.12" y="1313.10" width="7.94" height="39.30" fill="#ffdbdb" />
<rect x="436.66" y="1313.10" width="4.17" height="39.30" fill="#aeaeff" />
<rect x="440.42" y="1313.10" width="4.17" height="39.30" fill="#ffdbdb" />
<rect x="444.19" y="1313.10" width="4.17" height="39.30" fill="#aeaeff" />
<rect x="447.96" y="1313.10" width="7.94" height="39.30" fill="#ffdbdb" />
<rect x="455.50" y="1313.10" width="4.17" height="39.30" fill="#fff3f3" />
<rect x="459.27" y="1313.10" width="7.94" height="39.30" fill="#ffdbdb" />
<rect x="466.81" y="1313.10" width="4.17" height="39.30" fill="#ffffff" />
<rect x="470.58" y="1313.10" width="4.17" height="39.30" fill="#ffbcbc" />
<rect x="474.35" y="1313.10" width="4.17" height="39.30" fill="#aeaeff" />
<rect x="478.12" y="1313.10" width="4.17" height="39.30" fill="#ffe7e7" />
<rect x="481.89" y="1313.10" width="4.17" height="39.30" fill="#ffcdcd" />
<rect x="485.65" y="1313.10" width="4.17" height="39.30" fill="#dadaff" />
<rect x="489.42" y="1313.10" width="4.17" height="39.30" fill="#f5f5ff" />
<rect x="493.19" y="1313.10" width="4.17" height="39.30" fill="#ffe7e7" />
<rect x="496.96" y="1313.10" width="4.17" height="39.30" fill="#ffcdcd" />
<rect x="500.73" y="1313.10" width="4.17" height="39.30" fill="#dadaff" />
<rect x="504.50" y="1313.10" width="7.94" height="39.30" fill="#f5f5ff" />
<rect x="512.04" y="1313.10" width="4.17" height="39.30" fill="#aeaeff" />
<rect x="515.81" y="1313.10" width="4.17" height="39.30" fill="#ffe7e7" />
<rect x="519.58" y="1313.10" width="4.17" height="39.30" fill="#aeaeff" />
<rect x="523.35" y="1313.10" width="7.94" height="39.30" fill="#ffdbdb" />
<rect x="530.88" y="1313.10" width="4.17" height="39.30" fill="#ffe7e7" />
<rect x="534.65" y="1313.10" width="7.94" height="39.30" fill="#ffdbdb" />
<rect x="542.19" y="1313.10" width="4.17" height="39.30" fill="#fff3f3" />
<rect x="545.96" y="1313.10" width="4.17" height="39.30" fill="#aeaeff" />
<rect x="549.73" y="1313.10" width="3.77" height="39.30" fill="#dadaff" />
<rect x="101.20" y="1352.00" width="4.17" height="39.30" fill="#fff3f3" />
<rect x="104.97" y="1352.00" width="4.17" height="39.30" fill="#ffe7e7" />
<rect x="108.74" y="1352.00" width="4.17" height="39.30" fill="#9e9eff" />
<rect x="112.51" y="1352.00" width="4.17" height="39.30" fill="#ffffff" />
<rect x="116.28" y="1352.00" width="4.17" height="39.30" fill="#8a8aff" />
<rect x="120.05" y="1352.00" width="4.17" height="39.30" fill="#ffe7e7" />
<rect x="123.81" y="1352.00" width="4.17" height="39.30" fill="#ffdbdb" />
<rect x="127.58" y="1352.00" width="7.94" height="39.30" fill="#8a8aff" />
<rect x="135.12" y="1352.00" width="7.94" height="39.30" fill="#ffcdcd" />
<rect x="142.66" y="1352.00" width="4.17" height="39.30" fill="#8a8aff" />
<rect x="146.43" y="1352.00" width="4.17" height="39.30" fill="#ffdbdb" />
<rect x="150.20" y="1352.00" width="4.17" height="39.30" fill="#fff3f3" />
<rect x="153.97" y="1352.00" width="7.94" height="39.30" fill="#8a8aff" />
<rect x="161.51" y="1352.00" width="4.17" height="39.30" fill="#ffffff" />
<rect x="165.28" y="1352.00" width="4.17" height="39.30" fill="#c4c4ff" />
<rect x="169.05" y="1352.00" width="7.94" height="39.30" fill="#fff3f3" />
<rect x="176.58" y="1352.00" width="7.94" height="39.30" fill="#8a8aff" />
<rect x="184.12" y="1352.00" width="4.17" height="39.30" fill="#ffffff" />
<rect x="187.89" y="1352.00" width="4.17" height="39.30" fill="#9e9eff" />
<rect x="191.66" y="1352.00" width="4.17" height="39.30" fill="#c4c4ff" />
<rect x="195.43" y="1352.00" width="4.17" height="39.30" fill="#ffe7e7" />
<rect x="199.20" y="1352.00" width="11.71" height="39.30" fill="#8a8aff" />
<rect x="210.51" y="1352.00" width="4.17" height="39.30" fill="#ffffff" />
<rect x="214.28" y="1352.00" width="4.17" height="39.30" fill="#ffe7e7" />
<rect x="218.04" y="1352.00" width="4.17" height="39.30" fill="#ffdbdb" />
<rect x="221.81" y="1352.00" width="4.17" height="39.30" fill="#8a8aff" />
<rect x="225.58" y="1352.00" width="4.17" height="39.30" fill="#ffbcbc" />
<rect x="229.35" y="1352.00" width="4.17" height="39.30" fill="#8a8aff" />
<rect x="233.12" y="1352.00" width="4.17" height="39.30" fill="#dadaff" />
<rect x="236.89" y="1352.00" width="4.17" height="39.30" fill="#ffdbdb" />
<rect x="240.66" y="1352.00" width="4.17" height="39.30" fill="#c4c4ff" />
<rect x="244.43" y="1352.00" width="7.94" height="39.30" fill="#ffe7e7" />
<rect x="251.97" y="1352.00" width="4.17" height="39.30" fill="#aeaeff" />
<rect x="255.74" y="1352.00" width="4.17" height="39.30" fill="#ffdbdb" />
<rect x="259.50" y="1352.00" width="4.17" height="39.30" fill="#aeaeff" />
<rect x="263.27" y="1352.00" width="11.71" height="39.30" fill="#ffdbdb" />
<rect x="274.58" y="1352.00" width="4.17" height="39.30" fill="#eaeaff" />
<rect x="278.35" y="1352.00" width="4.17" height="39.30" fill="#ffdbdb" />
<rect x="282.12" y="1352.00" width="4.17" height="39.30" fill="#fff3f3" />
<rect x="285.89" y="1352.00" width="11.71" height="39.30" fill="#ffdbdb" />
<rect x="297.20" y="1352.00" width="4.17" height="39.30" fill="#fff3f3" />
<rect x="300.97" y="1352.00" width="4.17" height="39.30" fill="#ffcdcd" />
<rect x="304.74" y="1352.00" width="11.71" height="39.30" fill="#ffe7e7" />
<rect x="316.04" y="1352.00" width="4.17" height="39.30" fill="#ffcdcd" />
<rect x="319.81" y="1352.00" width="4.17" height="39.30" fill="#ffffff" />
<rect x="323.58" y="1352.00" width="7.94" height="39.30" fill="#f5f5ff" />
<rect x="331.12" y="1352.00" width="19.25" height="39.30" fill="#ffdbdb" />
<rect x="349.96" y="1352.00" width="4.17" height="39.30" fill="#ffcdcd" />
<rect x="353.73" y="1352.00" width="4.17" height="39.30" fill="#c4c4ff" />
<rect x="357.50" y="1352.00" width="4.17" height="39.30" fill="#ffe7e7" />
<rect x="361.27" y="1352.00" width="4.17" height="39.30" fill="#fff3f3" />
<rect x="365.04" y="1352.00" width="4.17" height="39.30" fill="#ffe7e7" />
<rect x="368.81" y="1352.00" width="4.17" height="39.30" fill="#f5f5ff" />
<rect x="372.58" y="1352.00" width="4.17" height="39.30" fill="#eaeaff" />
<rect x="376.35" y="1352.00" width="4.17" height="39.30" fill="#ffbcbc" />
<rect x="380.12" y="1352.00" width="11.71" height="39.30" fill="#ffe7e7" />
<rect x="391.43" y="1352.00" width="4.17" height="39.30" fill="#c4c4ff" />
<rect x="395.19" y="1352.00" width="4.17" height="39.30" fill="#ffe7e7" />
<rect x="398.96" y="1352.00" width="4.17" height="39.30" fill="#aeaeff" />
<rect x="402.73" y="1352.00" width="4.17" height="39.30" fill="#eaeaff" />
<rect x="406.50" y="1352.00" width="4.17" height="39.30" fill="#fff3f3" />
<rect x="410.27" y="1352.00" width="4.17" height="39.30" fill="#dadaff" />
<rect x="414.04" y="1352.00" width="4.17" height="39.30" fill="#ffdbdb" />
<rect x="417.81" y="1352.00" width="4.17" height="39.30" fill="#fff3f3" />
<rect x="421.58" y="1352.00" width="4.17" height="39.30" fill="#f5f5ff" />
<rect x="425.35" y="1352.00" width="4.17" height="39.30" fill="#ffe7e7" />
<rect x="429.12" y="1352.00" width="4.17" height="39.30" fill="#fff3f3" />
<rect x="432.89" y="1352.00" width="7.94" height="39.30" fill="#ffdbdb" />
<rect x="440.42" y="1352.00" width="4.17" height="39.30" fill="#dadaff" />
<rect x="444.19" y="1352.00" width="4.17" height="39.30" fill="#ffdbdb" />
<rect x="447.96" y="1352.00" width="11.71" height="39.30" fill="#ffe7e7" />
<rect x="459.27" y="1352.00" width="4.17" height="39.30" fill="#9e9eff" />
<rect x="463.04" y="1352.00" width="4.17" height="39.30" fill="#fff3f3" />
<rect x="466.81" y="1352.00" width="7.94" height="39.30" fill="#ffe7e7" />
<rect x="474.35" y="1352.00" width="7.94" height="39.30" fill="#ffffff" />
<rect x="481.89" y="1352.00" width="4.17" height="39.30" fill="#fff3f3" />
<rect x="485.65" y="1352.00" width="4.17" height="39.30" fill="#ffe7e7" />
<rect x="489.42" y="1352.00" width="4.17" height="39.30" fill="#ffdbdb" />
<rect x="493.19" y="1352.00" width="4.17" height="39.30" fill="#9e9eff" />
<rect x="496.96" y="1352.00" width="4.17" height="39.30" fill="#ffe7e7" />
<rect x="500.73" y="1352.00" width="4.17" height="39.30" fill="#fff3f3" />
<rect x="504.50" y="1352.00" width="4.17" height="39.30" fill="#ffffff" />
<rect x="508.27" y="1352.00" width="4.17" height="39.30" fill="#ffdbdb" />
<rect x="512.04" y="1352.00" width="4.17" height="39.30" fill="#9e9eff" />
<rect x="515.81" y="1352.00" width="4.17" height="39.30" fill="#ffffff" />
<rect x="519.58" y="1352.00" width="4.17" height="39.30" fill="#fff3f3" />
<rect x="523.35" y="1352.00" width="4.17" height="39.30" fill="#ffdbdb" />
<rect x="527.12" y="1352.00" width="4.17" height="39.30" fill="#ffffff" />
<rect x="530.88" y="1352.00" width="7.94" height="39.30" fill="#ffcdcd" />
<rect x="538.42" y="1352.00" width="11.71" height="39.30" fill="#ffdbdb" />
<rect x="549.73" y="1352.00" width="3.77" height="39.30" fill="#ffcdcd" />
<rect x="101.20" y="1390.90" width="4.17" height="39.30" fill="#f5f5ff" />
<rect x="104.97" y="1390.90" width="7.94" height="39.30" fill="#8a8aff" />
<rect x="112.51" y="1390.90" width="4.17" height="39.30" fill="#fff3f3" />
<rect x="116.28" y="1390.90" width="4.17" height="39.30" fill="#8a8aff" />
<rect x="120.05" y="1390.90" width="7.94" height="39.30" fill="#ffe7e7" />
<rect x="127.58" y="1390.90" width="4.17" height="39.30" fill="#8a8aff" />
<rect x="131.35" y="1390.90" width="4.17" height="39.30" fill="#aeaeff" />
<rect x="135.12" y="1390.90" width="7.94" height="39.30" fill="#8a8aff" />
<rect x="142.66" y="1390.90" width="4.17" height="39.30" fill="#fff3f3" />
<rect x="146.43" y="1390.90" width="7.94" height="39.30" fill="#ffcdcd" />
<rect x="153.97" y="1390.90" width="7.94" height="39.30" fill="#ffdbdb" />
<rect x="161.51" y="1390.90" width="4.17" height="39.30" fill="#ffe7e7" />
<rect x="165.28" y="1390.90" width="4.17" height="39.30" fill="#8a8aff" />
<rect x="169.05" y="1390.90" width="4.17" height="39.30" fill="#dadaff" />
<rect x="172.81" y="1390.90" width="4.17" height="39.30" fill="#ffdbdb" />
<rect x="176.58" y="1390.90" width="4.17" height="39.30" fill="#8a8aff" />
<rect x="180.35" y="1390.90" width="4.17" height="39.30" fill="#eaeaff" />
<rect x="184.12" y="1390.90" width="4.17" height="39.30" fill="#ffe7e7" />
<rect x="187.89" y="1390.90" width="4.17" height="39.30" fill="#ffdbdb" />
<rect x="191.66" y="1390.90" width="4.17" height="39.30" fill="#8a8aff" />
<rect x="195.43" y="1390.90" width="7.94" height="39.30" fill="#ffcdcd" />
<rect x="202.97" y="1390.90" width="7.94" height="39.30" fill="#8a8aff" />
<rect x="210.51" y="1390.90" width="4.17" height="39.30" fill="#ffe7e7" />
<rect x="214.28" y="1390.90" width="4.17" height="39.30" fill="#ffdbdb" />
<rect x="218.04" y="1390.90" width="7.94" height="39.30" fill="#8a8aff" />
<rect x="225.58" y="1390.90" width="4.17" height="39.30" fill="#dadaff" />
<rect x="229.35" y="1390.90" width="4.17" height="39.30" fill="#ffe7e7" />
<rect x="233.12" y="1390.90" width="4.17" height="39.30" fill="#ffffff" />
<rect x="236.89" y="1390.90" width="4.17" height="39.30" fill="#f5f5ff" />
<rect x="240.66" y="1390.90" width="4.17" height="39.30" fill="#dadaff" />
<rect x="244.43" y="1390.90" width="7.94" height="39.30" fill="#f5f5ff" />
<rect x="251.97" y="1390.90" width="7.94" height="39.30" fill="#9e9eff" />
<rect x="259.50" y="1390.90" width="4.17" height="39.30" fill="#c4c4ff" />
<rect x="263.27" y="1390.90" width="4.17" height="39.30" fill="#f5f5ff" />
<rect x="267.04" y="1390.90" width="7.94" height="39.30" fill="#ffdbdb" />
<rect x="274.58" y="1390.90" width="4.17" height="39.30" fill="#fff3f3" />
<rect x="278.35" y="1390.90" width="11.71" height="39.30" fill="#ffdbdb" />
<rect x="289.66" y="1390.90" width="7.94" height="39.30" fill="#f5f5ff" />
<rect x="297.20" y="1390.90" width="4.17" height="39.30" fill="#ffcdcd" />
<rect x="300.97" y="1390.90" width="4.17" height="39.30" fill="#f5f5ff" />
<rect x="304.74" y="1390.90" width="4.17" height="39.30" fill="#ffe7e7" />
<rect x="308.50" y="1390.90" width="4.17" height="39.30" fill="#fff3f3" />
<rect x="312.27" y="1390.90" width="7.94" height="39.30" fill="#ffdbdb" />
<rect x="319.81" y="1390.90" width="4.17" height="39.30" fill="#ffe7e7" />
<rect x="323.58" y="1390.90" width="4.17" height="39.30" fill="#dadaff" />
<rect x="327.35" y="1390.90" width="4.17" height="39.30" fill="#ffdbdb" />
<rect x="331.12" y="1390.90" width="4.17" height="39.30" fill="#ffcdcd" />
<rect x="334.89" y="1390.90" width="4.17" height="39.30" fill="#ffdbdb" />
<rect x="338.66" y="1390.90" width="4.17" height="39.30" fill="#fff3f3" />
<rect x="342.43" y="1390.90" width="4.17" height="39.30" fill="#ffffff" />
<rect x="346.20" y="1390.90" width="4.17" height="39.30" fill="#ffdbdb" />
<rect x="349.96" y="1390.90" width="4.17" height="39.30" fill="#fff3f3" />
<rect x="353.73" y="1390.90" width="7.94" height="39.30" fill="#ffdbdb" />
<rect x="361.27" y="1390.90" width="7.94" height="39.30" fill="#ffcdcd" />
<rect x="368.81" y="1390.90" width="4.17" height="39.30" fill="#ffe7e7" />
<rect x="372.58" y="1390.90" width="4.17" height="39.30" fill="#dadaff" />
<rect x="376.35" y="1390.90" width="4.17" height="39.30" fill="#ffdbdb" />
<rect x="380.12" y="1390.90" width="7.94" height="39.30" fill="#ffe7e7" />
<rect x="387.66" y="1390.90" width="4.17" height="39.30" fill="#ffdbdb" />
<rect x="391.43" y="1390.90" width="4.17" height="39.30" fill="#fff3f3" />
<rect x="395.19" y="1390.90" width="7.94" height="39.30" fill="#ffdbdb" />
<rect x="402.73" y="1390.90" width="7.94" height="39.30" fill="#ffe7e7" />
<rect x="410.27" y="1390.90" width="4.17" height="39.30" fill="#fff3f3" />
<rect x="414.04" y="1390.90" width="4.17" height="39.30" fill="#c4c4ff" />
<rect x="417.81" y="1390.90" width="4.17" height="39.30" fill="#ffe7e7" />
<rect x="421.58" y="1390.90" width="4.17" height="39.30" fill="#fff3f3" />
<rect x="425.35" y="1390.90" width="4.17" height="39.30" fill="#dadaff" />
<rect x="429.12" y="1390.90" width="4.17" height="39.30" fill="#ffdbdb" />
<rect x="432.89" y="1390.90" width="11.71" height="39.30" fill="#ffe7e7" />
<rect x="444.19" y="1390.90" width="4.17" height="39.30" fill="#ffdbdb" />
<rect x="447.96" y="1390.90" width="4.17" height="39.30" fill="#fff3f3" />
<rect x="451.73" y="1390.90" width="4.17" height="39.30" fill="#ffe7e7" />
<rect x="455.50" y="1390.90" width="4.17" height="39.30" fill="#ffffff" />
<rect x="459.27" y="1390.90" width="11.71" height="39.30" fill="#ffdbdb" />
<rect x="470.58" y="1390.90" width="11.71" height="39.30" fill="#ffe7e7" />
<rect x="481.89" y="1390.90" width="4.17" height="39.30" fill="#c4c4ff" />
<rect x="485.65" y="1390.90" width="4.17" height="39.30" fill="#9e9eff" />
<rect x="489.42" y="1390.90" width="4.17" height="39.30" fill="#ffdbdb" />
<rect x="493.19" y="1390.90" width="7.94" height="39.30" fill="#ffcdcd" />
<rect x="500.73" y="1390.90" width="4.17" height="39.30" fill="#f5f5ff" />
<rect x="504.50" y="1390.90" width="4.17" height="39.30" fill="#ffe7e7" />
<rect x="508.27" y="1390.90" width="7.94" height="39.30" fill="#9e9eff" />
<rect x="515.81" y="1390.90" width="4.17" height="39.30" fill="#ffcdcd" />
<rect x="519.58" y="1390.90" width="4.17" height="39.30" fill="#ffdbdb" />
<rect x="523.35" y="1390.90" width="4.17" height="39.30" fill="#ffffff" />
<rect x="527.12" y="1390.90" width="7.94" height="39.30" fill="#9e9eff" />
<rect x="534.65" y="1390.90" width="4.17" height="39.30" fill="#ffe7e7" />
<rect x="538.42" y="1390.90" width="4.17" height="39.30" fill="#ffdbdb" />
<rect x="542.19" y="1390.90" width="7.94" height="39.30" fill="#ffe7e7" />
<rect x="549.73" y="1390.90" width="3.77" height="39.30" fill="#ffdbdb" />
<rect x="101.20" y="1429.80" width="4.17" height="38.90" fill="#dadaff" />
<rect x="104.97" y="1429.80" width="7.94" height="38.90" fill="#2a2aff" />
<rect x="112.51" y="1429.80" width="4.17" height="38.90" fill="#ffffff" />
<rect x="116.28" y="1429.80" width="4.17" height="38.90" fill="#eaeaff" />
<rect x="120.05" y="1429.80" width="4.17" height="38.90" fill="#fff3f3" />
<rect x="123.81" y="1429.80" width="4.17" height="38.90" fill="#ffe7e7" />
<rect x="127.58" y="1429.80" width="4.17" height="38.90" fill="#c4c4ff" />
<rect x="131.35" y="1429.80" width="4.17" height="38.90" fill="#ffdbdb" />
<rect x="135.12" y="1429.80" width="7.94" height="38.90" fill="#ffffff" />
<rect x="142.66" y="1429.80" width="4.17" height="38.90" fill="#fff3f3" />
<rect x="146.43" y="1429.80" width="4.17" height="38.90" fill="#5a5aff" />
<rect x="150.20" y="1429.80" width="4.17" height="38.90" fill="#ffe7e7" />
<rect x="153.97" y="1429.80" width="11.71" height="38.90" fill="#fff3f3" />
<rect x="165.28" y="1429.80" width="4.17" height="38.90" fill="#f5f5ff" />
<rect x="169.05" y="1429.80" width="7.94" height="38.90" fill="#ffffff" />
<rect x="176.58" y="1429.80" width="4.17" height="38.90" fill="#fff3f3" />
<rect x="180.35" y="1429.80" width="4.17" height="38.90" fill="#ffe7e7" />
<rect x="184.12" y="1429.80" width="4.17" height="38.90" fill="#ffdbdb" />
<rect x="187.89" y="1429.80" width="4.17" height="38.90" fill="#8a8aff" />
<rect x="191.66" y="1429.80" width="7.94" height="38.90" fill="#ffffff" />
<rect x="199.20" y="1429.80" width="4.17" height="38.90" fill="#eaeaff" />
<rect x="202.97" y="1429.80" width="4.17" height="38.90" fill="#ffdbdb" />
<rect x="206.74" y="1429.80" width="4.17" height="38.90" fill="#2a2aff" />
<rect x="210.51" y="1429.80" width="11.71" height="38.90" fill="#ffe7e7" />
<rect x="221.81" y="1429.80" width="4.17" height="38.90" fill="#c4c4ff" />
<rect x="225.58" y="1429.80" width="11.71" height="38.90" fill="#f5f5ff" />
<rect x="236.89" y="1429.80" width="4.17" height="38.90" fill="#ffe7e7" />
<rect x="240.66" y="1429.80" width="4.17" height="38.90" fill="#f5f5ff" />
<rect x="244.43" y="1429.80" width="4.17" height="38.90" fill="#ffe7e7" />
<rect x="248.20" y="1429.80" width="4.17" height="38.90" fill="#f5f5ff" />
<rect x="251.97" y="1429.80" width="4.17" height="38.90" fill="#2a2aff" />
<rect x="255.74" y="1429.80" width="4.17" height="38.90" fill="#eaeaff" />
<rect x="259.50" y="1429.80" width="4.17" height="38.90" fill="#dadaff" />
<rect x="263.27" y="1429.80" width="4.17" height="38.90" fill="#fff3f3" />
<rect x="267.04" y="1429.80" width="7.94" height="38.90" fill="#ffdbdb" />
<rect x="274.58" y="1429.80" width="4.17" height="38.90" fill="#ffffff" />
<rect x="278.35" y="1429.80" width="7.94" height="38.90" fill="#ffdbdb" />
<rect x="285.89" y="1429.80" width="4.17" height="38.90" fill="#dadaff" />
<rect x="289.66" y="1429.80" width="7.94" height="38.90" fill="#fff3f3" />
<rect x="297.20" y="1429.80" width="4.17" height="38.90" fill="#f5f5ff" />
<rect x="300.97" y="1429.80" width="4.17" height="38.90" fill="#ffdbdb" />
<rect x="304.74" y="1429.80" width="7.94" height="38.90" fill="#f5f5ff" />
<rect x="312.27" y="1429.80" width="15.48" height="38.90" fill="#ffe7e7" />
<rect x="327.35" y="1429.80" width="4.17" height="38.90" fill="#fff3f3" />
<rect x="331.12" y="1429.80" width="7.94" height="38.90" fill="#ffe7e7" />
<rect x="338.66" y="1429.80" width="4.17" height="38.90" fill="#fff3f3" />
<rect x="342.43" y="1429.80" width="4.17" height="38.90" fill="#ffe7e7" />
<rect x="346.20" y="1429.80" width="4.17" height="38.90" fill="#fff3f3" />
<rect x="349.96" y="1429.80" width="4.17" height="38.90" fill="#ffe7e7" />
<rect x="353.73" y="1429.80" width="11.71" height="38.90" fill="#ffdbdb" />
<rect x="365.04" y="1429.80" width="4.17" height="38.90" fill="#ffe7e7" />
<rect x="368.81" y="1429.80" width="7.94" height="38.90" fill="#fff3f3" />
<rect x="376.35" y="1429.80" width="4.17" height="38.90" fill="#ffe7e7" />
<rect x="380.12" y="1429.80" width="7.94" height="38.90" fill="#ffffff" />
<rect x="387.66" y="1429.80" width="4.17" height="38.90" fill="#fff3f3" />
<rect x="391.43" y="1429.80" width="4.17" height="38.90" fill="#ffe7e7" />
<rect x="395.19" y="1429.80" width="4.17" height="38.90" fill="#ffdbdb" />
<rect x="398.96" y="1429.80" width="4.17" height="38.90" fill="#ffffff" />
<rect x="402.73" y="1429.80" width="7.94" height="38.90" fill="#fff3f3" />
<rect x="410.27" y="1429.80" width="4.17" height="38.90" fill="#ffffff" />
<rect x="414.04" y="1429.80" width="7.94" height="38.90" fill="#ffe7e7" />
<rect x="421.58" y="1429.80" width="4.17" height="38.90" fill="#ffdbdb" />
<rect x="425.35" y="1429.80" width="4.17" height="38.90" fill="#ffe7e7" />
<rect x="429.12" y="1429.80" width="4.17" height="38.90" fill="#ffffff" />
<rect x="432.89" y="1429.80" width="4.17" height="38.90" fill="#ffe7e7" />
<rect x="436.66" y="1429.80" width="4.17" height="38.90" fill="#dadaff" />
<rect x="440.42" y="1429.80" width="4.17" height="38.90" fill="#ffdbdb" />
<rect x="444.19" y="1429.80" width="4.17" height="38.90" fill="#f5f5ff" />
<rect x="447.96" y="1429.80" width="11.71" height="38.90" fill="#fff3f3" />
<rect x="459.27" y="1429.80" width="4.17" height="38.90" fill="#ffe7e7" />
<rect x="463.04" y="1429.80" width="4.17" height="38.90" fill="#fff3f3" />
<rect x="466.81" y="1429.80" width="7.94" height="38.90" fill="#ffe7e7" />
<rect x="474.35" y="1429.80" width="7.94" height="38.90" fill="#ffffff" />
<rect x="481.89" y="1429.80" width="4.17" height="38.90" fill="#ffdbdb" />
<rect x="485.65" y="1429.80" width="4.17" height="38.90" fill="#dadaff" />
<rect x="489.42" y="1429.80" width="7.94" height="38.90" fill="#ffdbdb" />
<rect x="496.96" y="1429.80" width="4.17" height="38.90" fill="#ffe7e7" />
<rect x="500.73" y="1429.80" width="4.17" height="38.90" fill="#fff3f3" />
<rect x="504.50" y="1429.80" width="4.17" height="38.90" fill="#ffffff" />
<rect x="508.27" y="1429.80" width="4.17" height="38.90" fill="#fff3f3" />
<rect x="512.04" y="1429.80" width="4.17" height="38.90" fill="#2a2aff" />
<rect x="515.81" y="1429.80" width="4.17" height="38.90" fill="#ffffff" />
<rect x="519.58" y="1429.80" width="4.17" height="38.90" fill="#dadaff" />
<rect x="523.35" y="1429.80" width="4.17" height="38.90" fill="#ffe7e7" />
<rect x="527.12" y="1429.80" width="4.17" height="38.90" fill="#ffdbdb" />
<rect x="530.88" y="1429.80" width="7.94" height="38.90" fill="#ffffff" />
<rect x="538.42" y="1429.80" width="7.94" height="38.90" fill="#f5f5ff" />
<rect x="545.96" y="1429.80" width="7.54" height="38.90" fill="#ffe7e7" />
<rect x="101.20" y="997.70" width="19.15" height="17.50" fill="#8757A7" />
<rect x="120.05" y="997.70" width="7.84" height="17.50" fill="#EBF6F9" />
<rect x="127.58" y="997.70" width="56.84" height="17.50" fill="#8757A7" />
<rect x="184.12" y="997.70" width="4.07" height="17.50" fill="#EBF6F9" />
<rect x="187.89" y="997.70" width="22.91" height="17.50" fill="#8757A7" />
<rect x="210.51" y="997.70" width="7.84" height="17.50" fill="#EBF6F9" />
<rect x="218.04" y="997.70" width="11.61" height="17.50" fill="#8757A7" />
<rect x="229.35" y="997.70" width="4.07" height="17.50" fill="#EBF6F9" />
<rect x="233.12" y="997.70" width="4.07" height="17.50" fill="#8757A7" />
<rect x="236.89" y="997.70" width="4.07" height="17.50" fill="#EBF6F9" />
<rect x="240.66" y="997.70" width="22.91" height="17.50" fill="#8757A7" />
<rect x="263.27" y="997.70" width="154.84" height="17.50" fill="#EBF6F9" />
<rect x="417.81" y="997.70" width="7.84" height="17.50" fill="#8757A7" />
<rect x="425.35" y="997.70" width="128.15" height="17.50" fill="#EBF6F9" />
<rect x="101.20" y="1018.50" width="162.37" height="17.30" fill="#2CA25F" />
<rect x="263.27" y="1018.50" width="290.23" height="17.30" fill="#EBF6F9" />
<polyline points="101.50,1099.15 64.50,1099.15 64.50,1138.05 101.50,1138.05" fill="none" stroke="#000" stroke-width="2.4" stroke-linejoin="miter" stroke-linecap="butt"/>
<polyline points="101.50,1060.25 33.10,1060.25 33.10,1118.60 64.50,1118.60" fill="none" stroke="#000" stroke-width="2.4" stroke-linejoin="miter" stroke-linecap="butt"/>
<polyline points="101.50,1215.85 36.10,1215.85 36.10,1254.75 101.50,1254.75" fill="none" stroke="#000" stroke-width="2.4" stroke-linejoin="miter" stroke-linecap="butt"/>
<polyline points="101.50,1176.95 30.80,1176.95 30.80,1235.30 36.10,1235.30" fill="none" stroke="#000" stroke-width="2.4" stroke-linejoin="miter" stroke-linecap="butt"/>
<polyline points="101.50,1293.65 34.60,1293.65 34.60,1332.55 101.50,1332.55" fill="none" stroke="#000" stroke-width="2.4" stroke-linejoin="miter" stroke-linecap="butt"/>
<polyline points="101.50,1410.35 39.00,1410.35 39.00,1449.25 101.50,1449.25" fill="none" stroke="#000" stroke-width="2.4" stroke-linejoin="miter" stroke-linecap="butt"/>
<polyline points="101.50,1371.45 34.30,1371.45 34.30,1429.80 39.00,1429.80" fill="none" stroke="#000" stroke-width="2.4" stroke-linejoin="miter" stroke-linecap="butt"/>
<polyline points="34.60,1313.10 25.10,1313.10 25.10,1400.62 34.30,1400.62" fill="none" stroke="#000" stroke-width="2.4" stroke-linejoin="miter" stroke-linecap="butt"/>
<polyline points="30.80,1206.12 13.90,1206.12 13.90,1356.86 25.10,1356.86" fill="none" stroke="#000" stroke-width="2.4" stroke-linejoin="miter" stroke-linecap="butt"/>
<polyline points="33.10,1089.42 10.30,1089.42 10.30,1281.49 13.90,1281.49" fill="none" stroke="#000" stroke-width="2.4" stroke-linejoin="miter" stroke-linecap="butt"/>
<text x="243.43" y="979.60" style="font-size:31.27px;" textLength="197.51" lengthAdjust="spacingAndGlyphs" fill="#000" >Training cohort</text>
<text x="558.56" y="1011.20" style="font-size:14.11px;font-weight:bold;" textLength="91.70" lengthAdjust="spacingAndGlyphs" fill="#000" >Predict status</text>
<text x="558.56" y="1031.50" style="font-size:14.11px;font-weight:bold;" textLength="74.00" lengthAdjust="spacingAndGlyphs" fill="#000" >Real status</text>
<text x="558.34" y="1056.15" style="font-size:13.24px;" textLength="105.66" lengthAdjust="spacingAndGlyphs" fill="#000" >chr13_42953948_</text>
<text x="558.61" y="1071.85" style="font-size:13.24px;" textLength="69.23" lengthAdjust="spacingAndGlyphs" fill="#000" >42970670_.</text>
<text x="558.87" y="1102.95" style="font-size:13.24px;" textLength="71.39" lengthAdjust="spacingAndGlyphs" fill="#000" >AC104843.1</text>
<text x="558.87" y="1141.85" style="font-size:13.24px;" textLength="69.26" lengthAdjust="spacingAndGlyphs" fill="#000" >AL691447.3</text>
<text x="557.84" y="1180.75" style="font-size:13.24px;" textLength="39.73" lengthAdjust="spacingAndGlyphs" fill="#000" >KRT19</text>
<text x="557.84" y="1219.65" style="font-size:13.24px;" textLength="72.80" lengthAdjust="spacingAndGlyphs" fill="#000" >RNA5SP141</text>
<text x="557.84" y="1258.55" style="font-size:13.24px;" textLength="43.53" lengthAdjust="spacingAndGlyphs" fill="#000" >HOXB7</text>
<text x="557.84" y="1297.45" style="font-size:13.24px;" textLength="58.52" lengthAdjust="spacingAndGlyphs" fill="#000" >NPM1P25</text>
<text x="558.26" y="1336.35" style="font-size:13.24px;" textLength="35.67" lengthAdjust="spacingAndGlyphs" fill="#000" >CTSG</text>
<text x="558.26" y="1375.25" style="font-size:13.24px;" textLength="34.25" lengthAdjust="spacingAndGlyphs" fill="#000" >CBR3</text>
<text x="558.87" y="1414.15" style="font-size:13.24px;" textLength="69.26" lengthAdjust="spacingAndGlyphs" fill="#000" >AL136981.2</text>
<text x="557.84" y="1453.05" style="font-size:13.24px;" textLength="32.83" lengthAdjust="spacingAndGlyphs" fill="#000" >BEX2</text>
<rect x="810.80" y="1046.80" width="8.88" height="38.88" fill="#ffdbdb" />
<rect x="819.67" y="1046.80" width="8.88" height="38.88" fill="#ffe7e7" />
<rect x="828.55" y="1046.80" width="8.88" height="38.88" fill="#dadaff" />
<rect x="837.42" y="1046.80" width="8.88" height="38.88" fill="#9e9eff" />
<rect x="846.30" y="1046.80" width="8.88" height="38.88" fill="#ffe7e7" />
<rect x="855.17" y="1046.80" width="8.88" height="38.88" fill="#ffe7e7" />
<rect x="864.05" y="1046.80" width="8.88" height="38.88" fill="#fff3f3" />
<rect x="872.92" y="1046.80" width="8.88" height="38.88" fill="#9e9eff" />
<rect x="881.80" y="1046.80" width="8.88" height="38.88" fill="#dadaff" />
<rect x="890.67" y="1046.80" width="8.88" height="38.88" fill="#ffe7e7" />
<rect x="899.55" y="1046.80" width="8.88" height="38.88" fill="#aeaeff" />
<rect x="908.42" y="1046.80" width="8.88" height="38.88" fill="#9e9eff" />
<rect x="917.30" y="1046.80" width="8.88" height="38.88" fill="#9e9eff" />
<rect x="926.17" y="1046.80" width="8.88" height="38.88" fill="#ffdbdb" />
<rect x="935.05" y="1046.80" width="8.88" height="38.88" fill="#9e9eff" />
<rect x="943.92" y="1046.80" width="8.88" height="38.88" fill="#ffdbdb" />
<rect x="952.80" y="1046.80" width="8.88" height="38.88" fill="#9e9eff" />
<rect x="961.67" y="1046.80" width="8.88" height="38.88" fill="#ffffff" />
<rect x="970.55" y="1046.80" width="8.88" height="38.88" fill="#eaeaff" />
<rect x="979.42" y="1046.80" width="8.88" height="38.88" fill="#fff3f3" />
<rect x="988.30" y="1046.80" width="8.88" height="38.88" fill="#eaeaff" />
<rect x="997.17" y="1046.80" width="8.88" height="38.88" fill="#ffffff" />
<rect x="1006.05" y="1046.80" width="8.88" height="38.88" fill="#ffdbdb" />
<rect x="1014.92" y="1046.80" width="8.88" height="38.88" fill="#ffdbdb" />
<rect x="1023.80" y="1046.80" width="8.88" height="38.88" fill="#dadaff" />
<rect x="1032.67" y="1046.80" width="8.88" height="38.88" fill="#ffe7e7" />
<rect x="1041.55" y="1046.80" width="8.88" height="38.88" fill="#c4c4ff" />
<rect x="1050.42" y="1046.80" width="8.88" height="38.88" fill="#ffe7e7" />
<rect x="1059.30" y="1046.80" width="8.88" height="38.88" fill="#ffdbdb" />
<rect x="1068.17" y="1046.80" width="8.88" height="38.88" fill="#fff3f3" />
<rect x="1077.05" y="1046.80" width="8.88" height="38.88" fill="#ffe7e7" />
<rect x="1085.92" y="1046.80" width="8.88" height="38.88" fill="#ffe7e7" />
<rect x="1094.80" y="1046.80" width="8.88" height="38.88" fill="#ffe7e7" />
<rect x="1103.67" y="1046.80" width="8.88" height="38.88" fill="#ffdbdb" />
<rect x="1112.55" y="1046.80" width="8.88" height="38.88" fill="#ffbcbc" />
<rect x="1121.42" y="1046.80" width="8.88" height="38.88" fill="#ffcdcd" />
<rect x="1130.30" y="1046.80" width="8.88" height="38.88" fill="#ffdbdb" />
<rect x="1139.17" y="1046.80" width="8.88" height="38.88" fill="#eaeaff" />
<rect x="1148.05" y="1046.80" width="8.88" height="38.88" fill="#ffdbdb" />
<rect x="1156.92" y="1046.80" width="8.88" height="38.88" fill="#ffbcbc" />
<rect x="1165.80" y="1046.80" width="8.88" height="38.88" fill="#ffffff" />
<rect x="1174.67" y="1046.80" width="8.88" height="38.88" fill="#c4c4ff" />
<rect x="1183.55" y="1046.80" width="8.88" height="38.88" fill="#9e9eff" />
<rect x="1192.42" y="1046.80" width="8.88" height="38.88" fill="#ffe7e7" />
<rect x="1201.30" y="1046.80" width="8.88" height="38.88" fill="#ffcdcd" />
<rect x="1210.17" y="1046.80" width="8.88" height="38.88" fill="#ffdbdb" />
<rect x="1219.05" y="1046.80" width="8.88" height="38.88" fill="#ffffff" />
<rect x="1227.92" y="1046.80" width="8.88" height="38.88" fill="#ffdbdb" />
<rect x="1236.80" y="1046.80" width="8.88" height="38.88" fill="#ffcdcd" />
<rect x="1245.67" y="1046.80" width="8.88" height="38.88" fill="#ffdbdb" />
<rect x="1254.55" y="1046.80" width="8.88" height="38.88" fill="#ffcdcd" />
<rect x="1263.42" y="1046.80" width="8.88" height="38.88" fill="#fff3f3" />
<rect x="810.80" y="1085.68" width="8.88" height="38.88" fill="#ffcdcd" />
<rect x="819.67" y="1085.68" width="8.88" height="38.88" fill="#fff3f3" />
<rect x="828.55" y="1085.68" width="8.88" height="38.88" fill="#aeaeff" />
<rect x="837.42" y="1085.68" width="8.88" height="38.88" fill="#fff3f3" />
<rect x="846.30" y="1085.68" width="8.88" height="38.88" fill="#aeaeff" />
<rect x="855.17" y="1085.68" width="8.88" height="38.88" fill="#ffcdcd" />
<rect x="864.05" y="1085.68" width="8.88" height="38.88" fill="#eaeaff" />
<rect x="872.92" y="1085.68" width="8.88" height="38.88" fill="#9e9eff" />
<rect x="881.80" y="1085.68" width="8.88" height="38.88" fill="#ffe7e7" />
<rect x="890.67" y="1085.68" width="8.88" height="38.88" fill="#aeaeff" />
<rect x="899.55" y="1085.68" width="8.88" height="38.88" fill="#aeaeff" />
<rect x="908.42" y="1085.68" width="8.88" height="38.88" fill="#aeaeff" />
<rect x="917.30" y="1085.68" width="8.88" height="38.88" fill="#aeaeff" />
<rect x="926.17" y="1085.68" width="8.88" height="38.88" fill="#aeaeff" />
<rect x="935.05" y="1085.68" width="8.88" height="38.88" fill="#aeaeff" />
<rect x="943.92" y="1085.68" width="8.88" height="38.88" fill="#ffdbdb" />
<rect x="952.80" y="1085.68" width="8.88" height="38.88" fill="#9e9eff" />
<rect x="961.67" y="1085.68" width="8.88" height="38.88" fill="#ffdbdb" />
<rect x="970.55" y="1085.68" width="8.88" height="38.88" fill="#ffe7e7" />
<rect x="979.42" y="1085.68" width="8.88" height="38.88" fill="#ffe7e7" />
<rect x="988.30" y="1085.68" width="8.88" height="38.88" fill="#fff3f3" />
<rect x="997.17" y="1085.68" width="8.88" height="38.88" fill="#ffcdcd" />
<rect x="1006.05" y="1085.68" width="8.88" height="38.88" fill="#fff3f3" />
<rect x="1014.92" y="1085.68" width="8.88" height="38.88" fill="#ffffff" />
<rect x="1023.80" y="1085.68" width="8.88" height="38.88" fill="#aeaeff" />
<rect x="1032.67" y="1085.68" width="8.88" height="38.88" fill="#ffcdcd" />
<rect x="1041.55" y="1085.68" width="8.88" height="38.88" fill="#ffdbdb" />
<rect x="1050.42" y="1085.68" width="8.88" height="38.88" fill="#ffe7e7" />
<rect x="1059.30" y="1085.68" width="8.88" height="38.88" fill="#ffffff" />
<rect x="1068.17" y="1085.68" width="8.88" height="38.88" fill="#ffcdcd" />
<rect x="1077.05" y="1085.68" width="8.88" height="38.88" fill="#ff8f8f" />
<rect x="1085.92" y="1085.68" width="8.88" height="38.88" fill="#f5f5ff" />
<rect x="1094.80" y="1085.68" width="8.88" height="38.88" fill="#ffbcbc" />
<rect x="1103.67" y="1085.68" width="8.88" height="38.88" fill="#fff3f3" />
<rect x="1112.55" y="1085.68" width="8.88" height="38.88" fill="#9e9eff" />
<rect x="1121.42" y="1085.68" width="8.88" height="38.88" fill="#ffffff" />
<rect x="1130.30" y="1085.68" width="8.88" height="38.88" fill="#aeaeff" />
<rect x="1139.17" y="1085.68" width="8.88" height="38.88" fill="#aeaeff" />
<rect x="1148.05" y="1085.68" width="8.88" height="38.88" fill="#ffdbdb" />
<rect x="1156.92" y="1085.68" width="8.88" height="38.88" fill="#eaeaff" />
<rect x="1165.80" y="1085.68" width="8.88" height="38.88" fill="#ffdbdb" />
<rect x="1174.67" y="1085.68" width="8.88" height="38.88" fill="#ffe7e7" />
<rect x="1183.55" y="1085.68" width="8.88" height="38.88" fill="#ffdbdb" />
<rect x="1192.42" y="1085.68" width="8.88" height="38.88" fill="#ffdbdb" />
<rect x="1201.30" y="1085.68" width="8.88" height="38.88" fill="#f5f5ff" />
<rect x="1210.17" y="1085.68" width="8.88" height="38.88" fill="#ffbcbc" />
<rect x="1219.05" y="1085.68" width="8.88" height="38.88" fill="#ffdbdb" />
<rect x="1227.92" y="1085.68" width="8.88" height="38.88" fill="#ffe7e7" />
<rect x="1236.80" y="1085.68" width="8.88" height="38.88" fill="#ffffff" />
<rect x="1245.67" y="1085.68" width="8.88" height="38.88" fill="#f5f5ff" />
<rect x="1254.55" y="1085.68" width="8.88" height="38.88" fill="#ffdbdb" />
<rect x="1263.42" y="1085.68" width="8.88" height="38.88" fill="#ffcdcd" />
<rect x="810.80" y="1124.56" width="8.88" height="38.88" fill="#ffdbdb" />
<rect x="819.67" y="1124.56" width="8.88" height="38.88" fill="#ffdbdb" />
<rect x="828.55" y="1124.56" width="8.88" height="38.88" fill="#7070ff" />
<rect x="837.42" y="1124.56" width="8.88" height="38.88" fill="#ffffff" />
<rect x="846.30" y="1124.56" width="8.88" height="38.88" fill="#ffdbdb" />
<rect x="855.17" y="1124.56" width="8.88" height="38.88" fill="#ffffff" />
<rect x="864.05" y="1124.56" width="8.88" height="38.88" fill="#ffe7e7" />
<rect x="872.92" y="1124.56" width="8.88" height="38.88" fill="#c4c4ff" />
<rect x="881.80" y="1124.56" width="8.88" height="38.88" fill="#ffffff" />
<rect x="890.67" y="1124.56" width="8.88" height="38.88" fill="#eaeaff" />
<rect x="899.55" y="1124.56" width="8.88" height="38.88" fill="#7070ff" />
<rect x="908.42" y="1124.56" width="8.88" height="38.88" fill="#7070ff" />
<rect x="917.30" y="1124.56" width="8.88" height="38.88" fill="#dadaff" />
<rect x="926.17" y="1124.56" width="8.88" height="38.88" fill="#dadaff" />
<rect x="935.05" y="1124.56" width="8.88" height="38.88" fill="#7070ff" />
<rect x="943.92" y="1124.56" width="8.88" height="38.88" fill="#ffdbdb" />
<rect x="952.80" y="1124.56" width="8.88" height="38.88" fill="#f5f5ff" />
<rect x="961.67" y="1124.56" width="8.88" height="38.88" fill="#ffe7e7" />
<rect x="970.55" y="1124.56" width="8.88" height="38.88" fill="#f5f5ff" />
<rect x="979.42" y="1124.56" width="8.88" height="38.88" fill="#ffdbdb" />
<rect x="988.30" y="1124.56" width="8.88" height="38.88" fill="#fff3f3" />
<rect x="997.17" y="1124.56" width="8.88" height="38.88" fill="#ffffff" />
<rect x="1006.05" y="1124.56" width="8.88" height="38.88" fill="#ffe7e7" />
<rect x="1014.92" y="1124.56" width="8.88" height="38.88" fill="#ffe7e7" />
<rect x="1023.80" y="1124.56" width="8.88" height="38.88" fill="#dadaff" />
<rect x="1032.67" y="1124.56" width="8.88" height="38.88" fill="#ffdbdb" />
<rect x="1041.55" y="1124.56" width="8.88" height="38.88" fill="#ffe7e7" />
<rect x="1050.42" y="1124.56" width="8.88" height="38.88" fill="#fff3f3" />
<rect x="1059.30" y="1124.56" width="8.88" height="38.88" fill="#ffdbdb" />
<rect x="1068.17" y="1124.56" width="8.88" height="38.88" fill="#eaeaff" />
<rect x="1077.05" y="1124.56" width="8.88" height="38.88" fill="#ffe7e7" />
<rect x="1085.92" y="1124.56" width="8.88" height="38.88" fill="#fff3f3" />
<rect x="1094.80" y="1124.56" width="8.88" height="38.88" fill="#ffe7e7" />
<rect x="1103.67" y="1124.56" width="8.88" height="38.88" fill="#9e9eff" />
<rect x="1112.55" y="1124.56" width="8.88" height="38.88" fill="#fff3f3" />
<rect x="1121.42" y="1124.56" width="8.88" height="38.88" fill="#ffdbdb" />
<rect x="1130.30" y="1124.56" width="8.88" height="38.88" fill="#fff3f3" />
<rect x="1139.17" y="1124.56" width="8.88" height="38.88" fill="#fff3f3" />
<rect x="1148.05" y="1124.56" width="8.88" height="38.88" fill="#ffe7e7" />
<rect x="1156.92" y="1124.56" width="8.88" height="38.88" fill="#ffffff" />
<rect x="1165.80" y="1124.56" width="8.88" height="38.88" fill="#ffe7e7" />
<rect x="1174.67" y="1124.56" width="8.88" height="38.88" fill="#f5f5ff" />
<rect x="1183.55" y="1124.56" width="8.88" height="38.88" fill="#ffdbdb" />
<rect x="1192.42" y="1124.56" width="8.88" height="38.88" fill="#fff3f3" />
<rect x="1201.30" y="1124.56" width="8.88" height="38.88" fill="#fff3f3" />
<rect x="1210.17" y="1124.56" width="8.88" height="38.88" fill="#fff3f3" />
<rect x="1219.05" y="1124.56" width="8.88" height="38.88" fill="#ffdbdb" />
<rect x="1227.92" y="1124.56" width="8.88" height="38.88" fill="#ffdbdb" />
<rect x="1236.80" y="1124.56" width="8.88" height="38.88" fill="#ffe7e7" />
<rect x="1245.67" y="1124.56" width="8.88" height="38.88" fill="#ffffff" />
<rect x="1254.55" y="1124.56" width="8.88" height="38.88" fill="#ffe7e7" />
<rect x="1263.42" y="1124.56" width="8.88" height="38.88" fill="#ffe7e7" />
<rect x="810.80" y="1163.44" width="8.88" height="38.88" fill="#ffe7e7" />
<rect x="819.67" y="1163.44" width="8.88" height="38.88" fill="#fff3f3" />
<rect x="828.55" y="1163.44" width="8.88" height="38.88" fill="#5a5aff" />
<rect x="837.42" y="1163.44" width="8.88" height="38.88" fill="#ffe7e7" />
<rect x="846.30" y="1163.44" width="8.88" height="38.88" fill="#ffe7e7" />
<rect x="855.17" y="1163.44" width="8.88" height="38.88" fill="#fff3f3" />
<rect x="864.05" y="1163.44" width="8.88" height="38.88" fill="#ffe7e7" />
<rect x="872.92" y="1163.44" width="8.88" height="38.88" fill="#ffffff" />
<rect x="881.80" y="1163.44" width="8.88" height="38.88" fill="#ffffff" />
<rect x="890.67" y="1163.44" width="8.88" height="38.88" fill="#ffe7e7" />
<rect x="899.55" y="1163.44" width="8.88" height="38.88" fill="#5a5aff" />
<rect x="908.42" y="1163.44" width="8.88" height="38.88" fill="#5a5aff" />
<rect x="917.30" y="1163.44" width="8.88" height="38.88" fill="#fff3f3" />
<rect x="926.17" y="1163.44" width="8.88" height="38.88" fill="#9e9eff" />
<rect x="935.05" y="1163.44" width="8.88" height="38.88" fill="#c4c4ff" />
<rect x="943.92" y="1163.44" width="8.88" height="38.88" fill="#ffe7e7" />
<rect x="952.80" y="1163.44" width="8.88" height="38.88" fill="#5a5aff" />
<rect x="961.67" y="1163.44" width="8.88" height="38.88" fill="#fff3f3" />
<rect x="970.55" y="1163.44" width="8.88" height="38.88" fill="#ffe7e7" />
<rect x="979.42" y="1163.44" width="8.88" height="38.88" fill="#fff3f3" />
<rect x="988.30" y="1163.44" width="8.88" height="38.88" fill="#ffe7e7" />
<rect x="997.17" y="1163.44" width="8.88" height="38.88" fill="#fff3f3" />
<rect x="1006.05" y="1163.44" width="8.88" height="38.88" fill="#fff3f3" />
<rect x="1014.92" y="1163.44" width="8.88" height="38.88" fill="#fff3f3" />
<rect x="1023.80" y="1163.44" width="8.88" height="38.88" fill="#f5f5ff" />
<rect x="1032.67" y="1163.44" width="8.88" height="38.88" fill="#fff3f3" />
<rect x="1041.55" y="1163.44" width="8.88" height="38.88" fill="#ffdbdb" />
<rect x="1050.42" y="1163.44" width="8.88" height="38.88" fill="#fff3f3" />
<rect x="1059.30" y="1163.44" width="8.88" height="38.88" fill="#ffdbdb" />
<rect x="1068.17" y="1163.44" width="8.88" height="38.88" fill="#ffdbdb" />
<rect x="1077.05" y="1163.44" width="8.88" height="38.88" fill="#ffe7e7" />
<rect x="1085.92" y="1163.44" width="8.88" height="38.88" fill="#ffe7e7" />
<rect x="1094.80" y="1163.44" width="8.88" height="38.88" fill="#fff3f3" />
<rect x="1103.67" y="1163.44" width="8.88" height="38.88" fill="#f5f5ff" />
<rect x="1112.55" y="1163.44" width="8.88" height="38.88" fill="#eaeaff" />
<rect x="1121.42" y="1163.44" width="8.88" height="38.88" fill="#ffe7e7" />
<rect x="1130.30" y="1163.44" width="8.88" height="38.88" fill="#ffe7e7" />
<rect x="1139.17" y="1163.44" width="8.88" height="38.88" fill="#ffffff" />
<rect x="1148.05" y="1163.44" width="8.88" height="38.88" fill="#fff3f3" />
<rect x="1156.92" y="1163.44" width="8.88" height="38.88" fill="#ffffff" />
<rect x="1165.80" y="1163.44" width="8.88" height="38.88" fill="#ffe7e7" />
<rect x="1174.67" y="1163.44" width="8.88" height="38.88" fill="#eaeaff" />
<rect x="1183.55" y="1163.44" width="8.88" height="38.88" fill="#ffdbdb" />
<rect x="1192.42" y="1163.44" width="8.88" height="38.88" fill="#ffe7e7" />
<rect x="1201.30" y="1163.44" width="8.88" height="38.88" fill="#ffffff" />
<rect x="1210.17" y="1163.44" width="8.88" height="38.88" fill="#ffe7e7" />
<rect x="1219.05" y="1163.44" width="8.88" height="38.88" fill="#fff3f3" />
<rect x="1227.92" y="1163.44" width="8.88" height="38.88" fill="#fff3f3" />
<rect x="1236.80" y="1163.44" width="8.88" height="38.88" fill="#ffe7e7" />
<rect x="1245.67" y="1163.44" width="8.88" height="38.88" fill="#fff3f3" />
<rect x="1254.55" y="1163.44" width="8.88" height="38.88" fill="#fff3f3" />
<rect x="1263.42" y="1163.44" width="8.88" height="38.88" fill="#ffdbdb" />
<rect x="810.80" y="1202.32" width="8.88" height="38.88" fill="#9e9eff" />
<rect x="819.67" y="1202.32" width="8.88" height="38.88" fill="#9e9eff" />
<rect x="828.55" y="1202.32" width="8.88" height="38.88" fill="#dadaff" />
<rect x="837.42" y="1202.32" width="8.88" height="38.88" fill="#9e9eff" />
<rect x="846.30" y="1202.32" width="8.88" height="38.88" fill="#ffe7e7" />
<rect x="855.17" y="1202.32" width="8.88" height="38.88" fill="#dadaff" />
<rect x="864.05" y="1202.32" width="8.88" height="38.88" fill="#fff3f3" />
<rect x="872.92" y="1202.32" width="8.88" height="38.88" fill="#dadaff" />
<rect x="881.80" y="1202.32" width="8.88" height="38.88" fill="#fff3f3" />
<rect x="890.67" y="1202.32" width="8.88" height="38.88" fill="#9e9eff" />
<rect x="899.55" y="1202.32" width="8.88" height="38.88" fill="#9e9eff" />
<rect x="908.42" y="1202.32" width="8.88" height="38.88" fill="#ffe7e7" />
<rect x="917.30" y="1202.32" width="8.88" height="38.88" fill="#ffe7e7" />
<rect x="926.17" y="1202.32" width="8.88" height="38.88" fill="#ffe7e7" />
<rect x="935.05" y="1202.32" width="8.88" height="38.88" fill="#9e9eff" />
<rect x="943.92" y="1202.32" width="8.88" height="38.88" fill="#ffdbdb" />
<rect x="952.80" y="1202.32" width="8.88" height="38.88" fill="#9e9eff" />
<rect x="961.67" y="1202.32" width="8.88" height="38.88" fill="#ffe7e7" />
<rect x="970.55" y="1202.32" width="8.88" height="38.88" fill="#ffdbdb" />
<rect x="979.42" y="1202.32" width="8.88" height="38.88" fill="#ffcdcd" />
<rect x="988.30" y="1202.32" width="8.88" height="38.88" fill="#ffe7e7" />
<rect x="997.17" y="1202.32" width="8.88" height="38.88" fill="#fff3f3" />
<rect x="1006.05" y="1202.32" width="8.88" height="38.88" fill="#c4c4ff" />
<rect x="1014.92" y="1202.32" width="8.88" height="38.88" fill="#ffe7e7" />
<rect x="1023.80" y="1202.32" width="8.88" height="38.88" fill="#ffdbdb" />
<rect x="1032.67" y="1202.32" width="8.88" height="38.88" fill="#c4c4ff" />
<rect x="1041.55" y="1202.32" width="8.88" height="38.88" fill="#ffdbdb" />
<rect x="1050.42" y="1202.32" width="8.88" height="38.88" fill="#ffffff" />
<rect x="1059.30" y="1202.32" width="8.88" height="38.88" fill="#ffffff" />
<rect x="1068.17" y="1202.32" width="8.88" height="38.88" fill="#ffcdcd" />
<rect x="1077.05" y="1202.32" width="8.88" height="38.88" fill="#fff3f3" />
<rect x="1085.92" y="1202.32" width="8.88" height="38.88" fill="#9e9eff" />
<rect x="1094.80" y="1202.32" width="8.88" height="38.88" fill="#ffdbdb" />
<rect x="1103.67" y="1202.32" width="8.88" height="38.88" fill="#fff3f3" />
<rect x="1112.55" y="1202.32" width="8.88" height="38.88" fill="#ffcdcd" />
<rect x="1121.42" y="1202.32" width="8.88" height="38.88" fill="#ffcdcd" />
<rect x="1130.30" y="1202.32" width="8.88" height="38.88" fill="#ffdbdb" />
<rect x="1139.17" y="1202.32" width="8.88" height="38.88" fill="#ffe7e7" />
<rect x="1148.05" y="1202.32" width="8.88" height="38.88" fill="#ffe7e7" />
<rect x="1156.92" y="1202.32" width="8.88" height="38.88" fill="#fff3f3" />
<rect x="1165.80" y="1202.32" width="8.88" height="38.88" fill="#ffe7e7" />
<rect x="1174.67" y="1202.32" width="8.88" height="38.88" fill="#ffcdcd" />
<rect x="1183.55" y="1202.32" width="8.88" height="38.88" fill="#ffdbdb" />
<rect x="1192.42" y="1202.32" width="8.88" height="38.88" fill="#ffdbdb" />
<rect x="1201.30" y="1202.32" width="8.88" height="38.88" fill="#ffcdcd" />
<rect x="1210.17" y="1202.32" width="8.88" height="38.88" fill="#ffdbdb" />
<rect x="1219.05" y="1202.32" width="8.88" height="38.88" fill="#ffdbdb" />
<rect x="1227.92" y="1202.32" width="8.88" height="38.88" fill="#ffdbdb" />
<rect x="1236.80" y="1202.32" width="8.88" height="38.88" fill="#9e9eff" />
<rect x="1245.67" y="1202.32" width="8.88" height="38.88" fill="#9e9eff" />
<rect x="1254.55" y="1202.32" width="8.88" height="38.88" fill="#ffdbdb" />
<rect x="1263.42" y="1202.32" width="8.88" height="38.88" fill="#fff3f3" />
<rect x="810.80" y="1241.20" width="8.88" height="38.88" fill="#ffe7e7" />
<rect x="819.67" y="1241.20" width="8.88" height="38.88" fill="#dadaff" />
<rect x="828.55" y="1241.20" width="8.88" height="38.88" fill="#8a8aff" />
<rect x="837.42" y="1241.20" width="8.88" height="38.88" fill="#dadaff" />
<rect x="846.30" y="1241.20" width="8.88" height="38.88" fill="#ffe7e7" />
<rect x="855.17" y="1241.20" width="8.88" height="38.88" fill="#8a8aff" />
<rect x="864.05" y="1241.20" width="8.88" height="38.88" fill="#ffffff" />
<rect x="872.92" y="1241.20" width="8.88" height="38.88" fill="#8a8aff" />
<rect x="881.80" y="1241.20" width="8.88" height="38.88" fill="#8a8aff" />
<rect x="890.67" y="1241.20" width="8.88" height="38.88" fill="#ffffff" />
<rect x="899.55" y="1241.20" width="8.88" height="38.88" fill="#ffdbdb" />
<rect x="908.42" y="1241.20" width="8.88" height="38.88" fill="#ffdbdb" />
<rect x="917.30" y="1241.20" width="8.88" height="38.88" fill="#fff3f3" />
<rect x="926.17" y="1241.20" width="8.88" height="38.88" fill="#eaeaff" />
<rect x="935.05" y="1241.20" width="8.88" height="38.88" fill="#8a8aff" />
<rect x="943.92" y="1241.20" width="8.88" height="38.88" fill="#ffe7e7" />
<rect x="952.80" y="1241.20" width="8.88" height="38.88" fill="#dadaff" />
<rect x="961.67" y="1241.20" width="8.88" height="38.88" fill="#f5f5ff" />
<rect x="970.55" y="1241.20" width="8.88" height="38.88" fill="#ffdbdb" />
<rect x="979.42" y="1241.20" width="8.88" height="38.88" fill="#ffdbdb" />
<rect x="988.30" y="1241.20" width="8.88" height="38.88" fill="#fff3f3" />
<rect x="997.17" y="1241.20" width="8.88" height="38.88" fill="#fff3f3" />
<rect x="1006.05" y="1241.20" width="8.88" height="38.88" fill="#ffdbdb" />
<rect x="1014.92" y="1241.20" width="8.88" height="38.88" fill="#ffe7e7" />
<rect x="1023.80" y="1241.20" width="8.88" height="38.88" fill="#fff3f3" />
<rect x="1032.67" y="1241.20" width="8.88" height="38.88" fill="#fff3f3" />
<rect x="1041.55" y="1241.20" width="8.88" height="38.88" fill="#ffdbdb" />
<rect x="1050.42" y="1241.20" width="8.88" height="38.88" fill="#ffdbdb" />
<rect x="1059.30" y="1241.20" width="8.88" height="38.88" fill="#ffe7e7" />
<rect x="1068.17" y="1241.20" width="8.88" height="38.88" fill="#ffe7e7" />
<rect x="1077.05" y="1241.20" width="8.88" height="38.88" fill="#ffdbdb" />
<rect x="1085.92" y="1241.20" width="8.88" height="38.88" fill="#fff3f3" />
<rect x="1094.80" y="1241.20" width="8.88" height="38.88" fill="#ffdbdb" />
<rect x="1103.67" y="1241.20" width="8.88" height="38.88" fill="#ffdbdb" />
<rect x="1112.55" y="1241.20" width="8.88" height="38.88" fill="#ffe7e7" />
<rect x="1121.42" y="1241.20" width="8.88" height="38.88" fill="#ffe7e7" />
<rect x="1130.30" y="1241.20" width="8.88" height="38.88" fill="#ffdbdb" />
<rect x="1139.17" y="1241.20" width="8.88" height="38.88" fill="#fff3f3" />
<rect x="1148.05" y="1241.20" width="8.88" height="38.88" fill="#8a8aff" />
<rect x="1156.92" y="1241.20" width="8.88" height="38.88" fill="#fff3f3" />
<rect x="1165.80" y="1241.20" width="8.88" height="38.88" fill="#ffdbdb" />
<rect x="1174.67" y="1241.20" width="8.88" height="38.88" fill="#eaeaff" />
<rect x="1183.55" y="1241.20" width="8.88" height="38.88" fill="#ffe7e7" />
<rect x="1192.42" y="1241.20" width="8.88" height="38.88" fill="#ffdbdb" />
<rect x="1201.30" y="1241.20" width="8.88" height="38.88" fill="#ffffff" />
<rect x="1210.17" y="1241.20" width="8.88" height="38.88" fill="#ffe7e7" />
<rect x="1219.05" y="1241.20" width="8.88" height="38.88" fill="#ffe7e7" />
<rect x="1227.92" y="1241.20" width="8.88" height="38.88" fill="#fff3f3" />
<rect x="1236.80" y="1241.20" width="8.88" height="38.88" fill="#ffdbdb" />
<rect x="1245.67" y="1241.20" width="8.88" height="38.88" fill="#8a8aff" />
<rect x="1254.55" y="1241.20" width="8.88" height="38.88" fill="#ffdbdb" />
<rect x="1263.42" y="1241.20" width="8.88" height="38.88" fill="#ffe7e7" />
<rect x="810.80" y="1280.08" width="8.88" height="38.88" fill="#ffcdcd" />
<rect x="819.67" y="1280.08" width="8.88" height="38.88" fill="#8a8aff" />
<rect x="828.55" y="1280.08" width="8.88" height="38.88" fill="#ffffff" />
<rect x="837.42" y="1280.08" width="8.88" height="38.88" fill="#ffe7e7" />
<rect x="846.30" y="1280.08" width="8.88" height="38.88" fill="#ffdbdb" />
<rect x="855.17" y="1280.08" width="8.88" height="38.88" fill="#8a8aff" />
<rect x="864.05" y="1280.08" width="8.88" height="38.88" fill="#ffdbdb" />
<rect x="872.92" y="1280.08" width="8.88" height="38.88" fill="#8a8aff" />
<rect x="881.80" y="1280.08" width="8.88" height="38.88" fill="#eaeaff" />
<rect x="890.67" y="1280.08" width="8.88" height="38.88" fill="#9e9eff" />
<rect x="899.55" y="1280.08" width="8.88" height="38.88" fill="#8a8aff" />
<rect x="908.42" y="1280.08" width="8.88" height="38.88" fill="#8a8aff" />
<rect x="917.30" y="1280.08" width="8.88" height="38.88" fill="#8a8aff" />
<rect x="926.17" y="1280.08" width="8.88" height="38.88" fill="#aeaeff" />
<rect x="935.05" y="1280.08" width="8.88" height="38.88" fill="#8a8aff" />
<rect x="943.92" y="1280.08" width="8.88" height="38.88" fill="#dadaff" />
<rect x="952.80" y="1280.08" width="8.88" height="38.88" fill="#fff3f3" />
<rect x="961.67" y="1280.08" width="8.88" height="38.88" fill="#ffcdcd" />
<rect x="970.55" y="1280.08" width="8.88" height="38.88" fill="#fff3f3" />
<rect x="979.42" y="1280.08" width="8.88" height="38.88" fill="#fff3f3" />
<rect x="988.30" y="1280.08" width="8.88" height="38.88" fill="#ffdbdb" />
<rect x="997.17" y="1280.08" width="8.88" height="38.88" fill="#eaeaff" />
<rect x="1006.05" y="1280.08" width="8.88" height="38.88" fill="#dadaff" />
<rect x="1014.92" y="1280.08" width="8.88" height="38.88" fill="#ffdbdb" />
<rect x="1023.80" y="1280.08" width="8.88" height="38.88" fill="#ffe7e7" />
<rect x="1032.67" y="1280.08" width="8.88" height="38.88" fill="#ffcdcd" />
<rect x="1041.55" y="1280.08" width="8.88" height="38.88" fill="#ffe7e7" />
<rect x="1050.42" y="1280.08" width="8.88" height="38.88" fill="#fff3f3" />
<rect x="1059.30" y="1280.08" width="8.88" height="38.88" fill="#ffcdcd" />
<rect x="1068.17" y="1280.08" width="8.88" height="38.88" fill="#ffdbdb" />
<rect x="1077.05" y="1280.08" width="8.88" height="38.88" fill="#ffe7e7" />
<rect x="1085.92" y="1280.08" width="8.88" height="38.88" fill="#eaeaff" />
<rect x="1094.80" y="1280.08" width="8.88" height="38.88" fill="#ffcdcd" />
<rect x="1103.67" y="1280.08" width="8.88" height="38.88" fill="#ffffff" />
<rect x="1112.55" y="1280.08" width="8.88" height="38.88" fill="#ffdbdb" />
<rect x="1121.42" y="1280.08" width="8.88" height="38.88" fill="#ffe7e7" />
<rect x="1130.30" y="1280.08" width="8.88" height="38.88" fill="#ffdbdb" />
<rect x="1139.17" y="1280.08" width="8.88" height="38.88" fill="#ffe7e7" />
<rect x="1148.05" y="1280.08" width="8.88" height="38.88" fill="#ffdbdb" />
<rect x="1156.92" y="1280.08" width="8.88" height="38.88" fill="#ffffff" />
<rect x="1165.80" y="1280.08" width="8.88" height="38.88" fill="#ffdbdb" />
<rect x="1174.67" y="1280.08" width="8.88" height="38.88" fill="#ffffff" />
<rect x="1183.55" y="1280.08" width="8.88" height="38.88" fill="#ffcdcd" />
<rect x="1192.42" y="1280.08" width="8.88" height="38.88" fill="#ffdbdb" />
<rect x="1201.30" y="1280.08" width="8.88" height="38.88" fill="#ffdbdb" />
<rect x="1210.17" y="1280.08" width="8.88" height="38.88" fill="#ffe7e7" />
<rect x="1219.05" y="1280.08" width="8.88" height="38.88" fill="#ffcdcd" />
<rect x="1227.92" y="1280.08" width="8.88" height="38.88" fill="#ffe7e7" />
<rect x="1236.80" y="1280.08" width="8.88" height="38.88" fill="#eaeaff" />
<rect x="1245.67" y="1280.08" width="8.88" height="38.88" fill="#ffffff" />
<rect x="1254.55" y="1280.08" width="8.88" height="38.88" fill="#ffffff" />
<rect x="1263.42" y="1280.08" width="8.88" height="38.88" fill="#ffdbdb" />
<rect x="810.80" y="1318.96" width="8.88" height="38.88" fill="#fff3f3" />
<rect x="819.67" y="1318.96" width="8.88" height="38.88" fill="#9e9eff" />
<rect x="828.55" y="1318.96" width="8.88" height="38.88" fill="#dadaff" />
<rect x="837.42" y="1318.96" width="8.88" height="38.88" fill="#ffcdcd" />
<rect x="846.30" y="1318.96" width="8.88" height="38.88" fill="#fff3f3" />
<rect x="855.17" y="1318.96" width="8.88" height="38.88" fill="#ffe7e7" />
<rect x="864.05" y="1318.96" width="8.88" height="38.88" fill="#ffdbdb" />
<rect x="872.92" y="1318.96" width="8.88" height="38.88" fill="#5a5aff" />
<rect x="881.80" y="1318.96" width="8.88" height="38.88" fill="#eaeaff" />
<rect x="890.67" y="1318.96" width="8.88" height="38.88" fill="#dadaff" />
<rect x="899.55" y="1318.96" width="8.88" height="38.88" fill="#8a8aff" />
<rect x="908.42" y="1318.96" width="8.88" height="38.88" fill="#2a2aff" />
<rect x="917.30" y="1318.96" width="8.88" height="38.88" fill="#9e9eff" />
<rect x="926.17" y="1318.96" width="8.88" height="38.88" fill="#ffcdcd" />
<rect x="935.05" y="1318.96" width="8.88" height="38.88" fill="#ffffff" />
<rect x="943.92" y="1318.96" width="8.88" height="38.88" fill="#ffdbdb" />
<rect x="952.80" y="1318.96" width="8.88" height="38.88" fill="#ffe7e7" />
<rect x="961.67" y="1318.96" width="8.88" height="38.88" fill="#ffdbdb" />
<rect x="970.55" y="1318.96" width="8.88" height="38.88" fill="#eaeaff" />
<rect x="979.42" y="1318.96" width="8.88" height="38.88" fill="#ffdbdb" />
<rect x="988.30" y="1318.96" width="8.88" height="38.88" fill="#fff3f3" />
<rect x="997.17" y="1318.96" width="8.88" height="38.88" fill="#ffdbdb" />
<rect x="1006.05" y="1318.96" width="8.88" height="38.88" fill="#dadaff" />
<rect x="1014.92" y="1318.96" width="8.88" height="38.88" fill="#ffe7e7" />
<rect x="1023.80" y="1318.96" width="8.88" height="38.88" fill="#fff3f3" />
<rect x="1032.67" y="1318.96" width="8.88" height="38.88" fill="#fff3f3" />
<rect x="1041.55" y="1318.96" width="8.88" height="38.88" fill="#ffdbdb" />
<rect x="1050.42" y="1318.96" width="8.88" height="38.88" fill="#f5f5ff" />
<rect x="1059.30" y="1318.96" width="8.88" height="38.88" fill="#ffdbdb" />
<rect x="1068.17" y="1318.96" width="8.88" height="38.88" fill="#ffdbdb" />
<rect x="1077.05" y="1318.96" width="8.88" height="38.88" fill="#fff3f3" />
<rect x="1085.92" y="1318.96" width="8.88" height="38.88" fill="#ffe7e7" />
<rect x="1094.80" y="1318.96" width="8.88" height="38.88" fill="#ffe7e7" />
<rect x="1103.67" y="1318.96" width="8.88" height="38.88" fill="#ffffff" />
<rect x="1112.55" y="1318.96" width="8.88" height="38.88" fill="#ffdbdb" />
<rect x="1121.42" y="1318.96" width="8.88" height="38.88" fill="#ffdbdb" />
<rect x="1130.30" y="1318.96" width="8.88" height="38.88" fill="#ffffff" />
<rect x="1139.17" y="1318.96" width="8.88" height="38.88" fill="#fff3f3" />
<rect x="1148.05" y="1318.96" width="8.88" height="38.88" fill="#fff3f3" />
<rect x="1156.92" y="1318.96" width="8.88" height="38.88" fill="#ffdbdb" />
<rect x="1165.80" y="1318.96" width="8.88" height="38.88" fill="#dadaff" />
<rect x="1174.67" y="1318.96" width="8.88" height="38.88" fill="#ffdbdb" />
<rect x="1183.55" y="1318.96" width="8.88" height="38.88" fill="#fff3f3" />
<rect x="1192.42" y="1318.96" width="8.88" height="38.88" fill="#fff3f3" />
<rect x="1201.30" y="1318.96" width="8.88" height="38.88" fill="#ffffff" />
<rect x="1210.17" y="1318.96" width="8.88" height="38.88" fill="#ffffff" />
<rect x="1219.05" y="1318.96" width="8.88" height="38.88" fill="#ffffff" />
<rect x="1227.92" y="1318.96" width="8.88" height="38.88" fill="#ffdbdb" />
<rect x="1236.80" y="1318.96" width="8.88" height="38.88" fill="#dadaff" />
<rect x="1245.67" y="1318.96" width="8.88" height="38.88" fill="#ffdbdb" />
<rect x="1254.55" y="1318.96" width="8.88" height="38.88" fill="#ffe7e7" />
<rect x="1263.42" y="1318.96" width="8.88" height="38.88" fill="#eaeaff" />
<rect x="810.80" y="1357.84" width="8.88" height="38.88" fill="#9e9eff" />
<rect x="819.67" y="1357.84" width="8.88" height="38.88" fill="#9e9eff" />
<rect x="828.55" y="1357.84" width="8.88" height="38.88" fill="#ffbcbc" />
<rect x="837.42" y="1357.84" width="8.88" height="38.88" fill="#ffcdcd" />
<rect x="846.30" y="1357.84" width="8.88" height="38.88" fill="#ffcdcd" />
<rect x="855.17" y="1357.84" width="8.88" height="38.88" fill="#9e9eff" />
<rect x="864.05" y="1357.84" width="8.88" height="38.88" fill="#dadaff" />
<rect x="872.92" y="1357.84" width="8.88" height="38.88" fill="#9e9eff" />
<rect x="881.80" y="1357.84" width="8.88" height="38.88" fill="#ffcdcd" />
<rect x="890.67" y="1357.84" width="8.88" height="38.88" fill="#ffffff" />
<rect x="899.55" y="1357.84" width="8.88" height="38.88" fill="#eaeaff" />
<rect x="908.42" y="1357.84" width="8.88" height="38.88" fill="#aeaeff" />
<rect x="917.30" y="1357.84" width="8.88" height="38.88" fill="#9e9eff" />
<rect x="926.17" y="1357.84" width="8.88" height="38.88" fill="#aeaeff" />
<rect x="935.05" y="1357.84" width="8.88" height="38.88" fill="#aeaeff" />
<rect x="943.92" y="1357.84" width="8.88" height="38.88" fill="#aeaeff" />
<rect x="952.80" y="1357.84" width="8.88" height="38.88" fill="#aeaeff" />
<rect x="961.67" y="1357.84" width="8.88" height="38.88" fill="#c4c4ff" />
<rect x="970.55" y="1357.84" width="8.88" height="38.88" fill="#ffbcbc" />
<rect x="979.42" y="1357.84" width="8.88" height="38.88" fill="#ffcdcd" />
<rect x="988.30" y="1357.84" width="8.88" height="38.88" fill="#ffffff" />
<rect x="997.17" y="1357.84" width="8.88" height="38.88" fill="#ffdbdb" />
<rect x="1006.05" y="1357.84" width="8.88" height="38.88" fill="#ffcdcd" />
<rect x="1014.92" y="1357.84" width="8.88" height="38.88" fill="#ffe7e7" />
<rect x="1023.80" y="1357.84" width="8.88" height="38.88" fill="#f5f5ff" />
<rect x="1032.67" y="1357.84" width="8.88" height="38.88" fill="#dadaff" />
<rect x="1041.55" y="1357.84" width="8.88" height="38.88" fill="#fff3f3" />
<rect x="1050.42" y="1357.84" width="8.88" height="38.88" fill="#fff3f3" />
<rect x="1059.30" y="1357.84" width="8.88" height="38.88" fill="#ffe7e7" />
<rect x="1068.17" y="1357.84" width="8.88" height="38.88" fill="#aeaeff" />
<rect x="1077.05" y="1357.84" width="8.88" height="38.88" fill="#ffdbdb" />
<rect x="1085.92" y="1357.84" width="8.88" height="38.88" fill="#aeaeff" />
<rect x="1094.80" y="1357.84" width="8.88" height="38.88" fill="#ffe7e7" />
<rect x="1103.67" y="1357.84" width="8.88" height="38.88" fill="#ffdbdb" />
<rect x="1112.55" y="1357.84" width="8.88" height="38.88" fill="#ffe7e7" />
<rect x="1121.42" y="1357.84" width="8.88" height="38.88" fill="#ffdbdb" />
<rect x="1130.30" y="1357.84" width="8.88" height="38.88" fill="#ffdbdb" />
<rect x="1139.17" y="1357.84" width="8.88" height="38.88" fill="#ffdbdb" />
<rect x="1148.05" y="1357.84" width="8.88" height="38.88" fill="#ffdbdb" />
<rect x="1156.92" y="1357.84" width="8.88" height="38.88" fill="#ffcdcd" />
<rect x="1165.80" y="1357.84" width="8.88" height="38.88" fill="#f5f5ff" />
<rect x="1174.67" y="1357.84" width="8.88" height="38.88" fill="#dadaff" />
<rect x="1183.55" y="1357.84" width="8.88" height="38.88" fill="#ffe7e7" />
<rect x="1192.42" y="1357.84" width="8.88" height="38.88" fill="#ffcdcd" />
<rect x="1201.30" y="1357.84" width="8.88" height="38.88" fill="#fff3f3" />
<rect x="1210.17" y="1357.84" width="8.88" height="38.88" fill="#ffdbdb" />
<rect x="1219.05" y="1357.84" width="8.88" height="38.88" fill="#ffe7e7" />
<rect x="1227.92" y="1357.84" width="8.88" height="38.88" fill="#ffdbdb" />
<rect x="1236.80" y="1357.84" width="8.88" height="38.88" fill="#ffbcbc" />
<rect x="1245.67" y="1357.84" width="8.88" height="38.88" fill="#ffdbdb" />
<rect x="1254.55" y="1357.84" width="8.88" height="38.88" fill="#ffdbdb" />
<rect x="1263.42" y="1357.84" width="8.88" height="38.88" fill="#ffe7e7" />
<rect x="810.80" y="1396.72" width="8.88" height="38.88" fill="#8a8aff" />
<rect x="819.67" y="1396.72" width="8.88" height="38.88" fill="#7070ff" />
<rect x="828.55" y="1396.72" width="8.88" height="38.88" fill="#eaeaff" />
<rect x="837.42" y="1396.72" width="8.88" height="38.88" fill="#c4c4ff" />
<rect x="846.30" y="1396.72" width="8.88" height="38.88" fill="#fff3f3" />
<rect x="855.17" y="1396.72" width="8.88" height="38.88" fill="#dadaff" />
<rect x="864.05" y="1396.72" width="8.88" height="38.88" fill="#ffe7e7" />
<rect x="872.92" y="1396.72" width="8.88" height="38.88" fill="#fff3f3" />
<rect x="881.80" y="1396.72" width="8.88" height="38.88" fill="#c4c4ff" />
<rect x="890.67" y="1396.72" width="8.88" height="38.88" fill="#ffffff" />
<rect x="899.55" y="1396.72" width="8.88" height="38.88" fill="#5a5aff" />
<rect x="908.42" y="1396.72" width="8.88" height="38.88" fill="#5a5aff" />
<rect x="917.30" y="1396.72" width="8.88" height="38.88" fill="#fff3f3" />
<rect x="926.17" y="1396.72" width="8.88" height="38.88" fill="#fff3f3" />
<rect x="935.05" y="1396.72" width="8.88" height="38.88" fill="#ffdbdb" />
<rect x="943.92" y="1396.72" width="8.88" height="38.88" fill="#ffdbdb" />
<rect x="952.80" y="1396.72" width="8.88" height="38.88" fill="#5a5aff" />
<rect x="961.67" y="1396.72" width="8.88" height="38.88" fill="#ffffff" />
<rect x="970.55" y="1396.72" width="8.88" height="38.88" fill="#ffffff" />
<rect x="979.42" y="1396.72" width="8.88" height="38.88" fill="#ffdbdb" />
<rect x="988.30" y="1396.72" width="8.88" height="38.88" fill="#f5f5ff" />
<rect x="997.17" y="1396.72" width="8.88" height="38.88" fill="#ffe7e7" />
<rect x="1006.05" y="1396.72" width="8.88" height="38.88" fill="#ffdbdb" />
<rect x="1014.92" y="1396.72" width="8.88" height="38.88" fill="#ffdbdb" />
<rect x="1023.80" y="1396.72" width="8.88" height="38.88" fill="#ffffff" />
<rect x="1032.67" y="1396.72" width="8.88" height="38.88" fill="#ffdbdb" />
<rect x="1041.55" y="1396.72" width="8.88" height="38.88" fill="#ffe7e7" />
<rect x="1050.42" y="1396.72" width="8.88" height="38.88" fill="#fff3f3" />
<rect x="1059.30" y="1396.72" width="8.88" height="38.88" fill="#ffdbdb" />
<rect x="1068.17" y="1396.72" width="8.88" height="38.88" fill="#ffdbdb" />
<rect x="1077.05" y="1396.72" width="8.88" height="38.88" fill="#ffe7e7" />
<rect x="1085.92" y="1396.72" width="8.88" height="38.88" fill="#ffe7e7" />
<rect x="1094.80" y="1396.72" width="8.88" height="38.88" fill="#ffe7e7" />
<rect x="1103.67" y="1396.72" width="8.88" height="38.88" fill="#ffdbdb" />
<rect x="1112.55" y="1396.72" width="8.88" height="38.88" fill="#fff3f3" />
<rect x="1121.42" y="1396.72" width="8.88" height="38.88" fill="#ffffff" />
<rect x="1130.30" y="1396.72" width="8.88" height="38.88" fill="#f5f5ff" />
<rect x="1139.17" y="1396.72" width="8.88" height="38.88" fill="#ffffff" />
<rect x="1148.05" y="1396.72" width="8.88" height="38.88" fill="#f5f5ff" />
<rect x="1156.92" y="1396.72" width="8.88" height="38.88" fill="#ffcdcd" />
<rect x="1165.80" y="1396.72" width="8.88" height="38.88" fill="#fff3f3" />
<rect x="1174.67" y="1396.72" width="8.88" height="38.88" fill="#ffe7e7" />
<rect x="1183.55" y="1396.72" width="8.88" height="38.88" fill="#ffe7e7" />
<rect x="1192.42" y="1396.72" width="8.88" height="38.88" fill="#fff3f3" />
<rect x="1201.30" y="1396.72" width="8.88" height="38.88" fill="#ffe7e7" />
<rect x="1210.17" y="1396.72" width="8.88" height="38.88" fill="#ffffff" />
<rect x="1219.05" y="1396.72" width="8.88" height="38.88" fill="#fff3f3" />
<rect x="1227.92" y="1396.72" width="8.88" height="38.88" fill="#ffdbdb" />
<rect x="1236.80" y="1396.72" width="8.88" height="38.88" fill="#ffe7e7" />
<rect x="1245.67" y="1396.72" width="8.88" height="38.88" fill="#ffdbdb" />
<rect x="1254.55" y="1396.72" width="8.88" height="38.88" fill="#ffdbdb" />
<rect x="1263.42" y="1396.72" width="8.88" height="38.88" fill="#ffffff" />
<rect x="810.80" y="1435.60" width="8.88" height="38.88" fill="#aeaeff" />
<rect x="819.67" y="1435.60" width="8.88" height="38.88" fill="#aeaeff" />
<rect x="828.55" y="1435.60" width="8.88" height="38.88" fill="#ffffff" />
<rect x="837.42" y="1435.60" width="8.88" height="38.88" fill="#ffdbdb" />
<rect x="846.30" y="1435.60" width="8.88" height="38.88" fill="#ffffff" />
<rect x="855.17" y="1435.60" width="8.88" height="38.88" fill="#aeaeff" />
<rect x="864.05" y="1435.60" width="8.88" height="38.88" fill="#ffffff" />
<rect x="872.92" y="1435.60" width="8.88" height="38.88" fill="#ffe7e7" />
<rect x="881.80" y="1435.60" width="8.88" height="38.88" fill="#ffcdcd" />
<rect x="890.67" y="1435.60" width="8.88" height="38.88" fill="#eaeaff" />
<rect x="899.55" y="1435.60" width="8.88" height="38.88" fill="#aeaeff" />
<rect x="908.42" y="1435.60" width="8.88" height="38.88" fill="#aeaeff" />
<rect x="917.30" y="1435.60" width="8.88" height="38.88" fill="#aeaeff" />
<rect x="926.17" y="1435.60" width="8.88" height="38.88" fill="#ffcdcd" />
<rect x="935.05" y="1435.60" width="8.88" height="38.88" fill="#aeaeff" />
<rect x="943.92" y="1435.60" width="8.88" height="38.88" fill="#ffdbdb" />
<rect x="952.80" y="1435.60" width="8.88" height="38.88" fill="#aeaeff" />
<rect x="961.67" y="1435.60" width="8.88" height="38.88" fill="#ffbcbc" />
<rect x="970.55" y="1435.60" width="8.88" height="38.88" fill="#f5f5ff" />
<rect x="979.42" y="1435.60" width="8.88" height="38.88" fill="#ffdbdb" />
<rect x="988.30" y="1435.60" width="8.88" height="38.88" fill="#ffdbdb" />
<rect x="997.17" y="1435.60" width="8.88" height="38.88" fill="#ffe7e7" />
<rect x="1006.05" y="1435.60" width="8.88" height="38.88" fill="#ffa5a5" />
<rect x="1014.92" y="1435.60" width="8.88" height="38.88" fill="#dadaff" />
<rect x="1023.80" y="1435.60" width="8.88" height="38.88" fill="#fff3f3" />
<rect x="1032.67" y="1435.60" width="8.88" height="38.88" fill="#ffa5a5" />
<rect x="1041.55" y="1435.60" width="8.88" height="38.88" fill="#eaeaff" />
<rect x="1050.42" y="1435.60" width="8.88" height="38.88" fill="#ffbcbc" />
<rect x="1059.30" y="1435.60" width="8.88" height="38.88" fill="#fff3f3" />
<rect x="1068.17" y="1435.60" width="8.88" height="38.88" fill="#ffbcbc" />
<rect x="1077.05" y="1435.60" width="8.88" height="38.88" fill="#f5f5ff" />
<rect x="1085.92" y="1435.60" width="8.88" height="38.88" fill="#dadaff" />
<rect x="1094.80" y="1435.60" width="8.88" height="38.88" fill="#f5f5ff" />
<rect x="1103.67" y="1435.60" width="8.88" height="38.88" fill="#dadaff" />
<rect x="1112.55" y="1435.60" width="8.88" height="38.88" fill="#c4c4ff" />
<rect x="1121.42" y="1435.60" width="8.88" height="38.88" fill="#ffcdcd" />
<rect x="1130.30" y="1435.60" width="8.88" height="38.88" fill="#ffdbdb" />
<rect x="1139.17" y="1435.60" width="8.88" height="38.88" fill="#eaeaff" />
<rect x="1148.05" y="1435.60" width="8.88" height="38.88" fill="#c4c4ff" />
<rect x="1156.92" y="1435.60" width="8.88" height="38.88" fill="#ffe7e7" />
<rect x="1165.80" y="1435.60" width="8.88" height="38.88" fill="#dadaff" />
<rect x="1174.67" y="1435.60" width="8.88" height="38.88" fill="#ffcdcd" />
<rect x="1183.55" y="1435.60" width="8.88" height="38.88" fill="#ffe7e7" />
<rect x="1192.42" y="1435.60" width="8.88" height="38.88" fill="#ffcdcd" />
<rect x="1201.30" y="1435.60" width="8.88" height="38.88" fill="#eaeaff" />
<rect x="1210.17" y="1435.60" width="8.88" height="38.88" fill="#ff8080" />
<rect x="1219.05" y="1435.60" width="8.88" height="38.88" fill="#eaeaff" />
<rect x="1227.92" y="1435.60" width="8.88" height="38.88" fill="#ffe7e7" />
<rect x="1236.80" y="1435.60" width="8.88" height="38.88" fill="#ffdbdb" />
<rect x="1245.67" y="1435.60" width="8.88" height="38.88" fill="#eaeaff" />
<rect x="1254.55" y="1435.60" width="8.88" height="38.88" fill="#ffffff" />
<rect x="1263.42" y="1435.60" width="8.88" height="38.88" fill="#c4c4ff" />
<rect x="810.80" y="1003.10" width="8.88" height="17.50" fill="#8757A7" />
<rect x="819.67" y="1003.10" width="8.88" height="17.50" fill="#8757A7" />
<rect x="828.55" y="1003.10" width="8.88" height="17.50" fill="#8757A7" />
<rect x="837.42" y="1003.10" width="8.88" height="17.50" fill="#8757A7" />
<rect x="846.30" y="1003.10" width="8.88" height="17.50" fill="#EBF6F9" />
<rect x="855.17" y="1003.10" width="8.88" height="17.50" fill="#8757A7" />
<rect x="864.05" y="1003.10" width="8.88" height="17.50" fill="#EBF6F9" />
<rect x="872.92" y="1003.10" width="8.88" height="17.50" fill="#8757A7" />
<rect x="881.80" y="1003.10" width="8.88" height="17.50" fill="#8757A7" />
<rect x="890.67" y="1003.10" width="8.88" height="17.50" fill="#8757A7" />
<rect x="899.55" y="1003.10" width="8.88" height="17.50" fill="#8757A7" />
<rect x="908.42" y="1003.10" width="8.88" height="17.50" fill="#8757A7" />
<rect x="917.30" y="1003.10" width="8.88" height="17.50" fill="#8757A7" />
<rect x="926.17" y="1003.10" width="8.88" height="17.50" fill="#8757A7" />
<rect x="935.05" y="1003.10" width="8.88" height="17.50" fill="#8757A7" />
<rect x="943.92" y="1003.10" width="8.88" height="17.50" fill="#EBF6F9" />
<rect x="952.80" y="1003.10" width="8.88" height="17.50" fill="#8757A7" />
<rect x="961.67" y="1003.10" width="8.88" height="17.50" fill="#EBF6F9" />
<rect x="970.55" y="1003.10" width="8.88" height="17.50" fill="#EBF6F9" />
<rect x="979.42" y="1003.10" width="8.88" height="17.50" fill="#EBF6F9" />
<rect x="988.30" y="1003.10" width="8.88" height="17.50" fill="#EBF6F9" />
<rect x="997.17" y="1003.10" width="8.88" height="17.50" fill="#EBF6F9" />
<rect x="1006.05" y="1003.10" width="8.88" height="17.50" fill="#EBF6F9" />
<rect x="1014.92" y="1003.10" width="8.88" height="17.50" fill="#EBF6F9" />
<rect x="1023.80" y="1003.10" width="8.88" height="17.50" fill="#EBF6F9" />
<rect x="1032.67" y="1003.10" width="8.88" height="17.50" fill="#EBF6F9" />
<rect x="1041.55" y="1003.10" width="8.88" height="17.50" fill="#EBF6F9" />
<rect x="1050.42" y="1003.10" width="8.88" height="17.50" fill="#EBF6F9" />
<rect x="1059.30" y="1003.10" width="8.88" height="17.50" fill="#EBF6F9" />
<rect x="1068.17" y="1003.10" width="8.88" height="17.50" fill="#EBF6F9" />
<rect x="1077.05" y="1003.10" width="8.88" height="17.50" fill="#EBF6F9" />
<rect x="1085.92" y="1003.10" width="8.88" height="17.50" fill="#8757A7" />
<rect x="1094.80" y="1003.10" width="8.88" height="17.50" fill="#EBF6F9" />
<rect x="1103.67" y="1003.10" width="8.88" height="17.50" fill="#EBF6F9" />
<rect x="1112.55" y="1003.10" width="8.88" height="17.50" fill="#EBF6F9" />
<rect x="1121.42" y="1003.10" width="8.88" height="17.50" fill="#EBF6F9" />
<rect x="1130.30" y="1003.10" width="8.88" height="17.50" fill="#EBF6F9" />
<rect x="1139.17" y="1003.10" width="8.88" height="17.50" fill="#EBF6F9" />
<rect x="1148.05" y="1003.10" width="8.88" height="17.50" fill="#EBF6F9" />
<rect x="1156.92" y="1003.10" width="8.88" height="17.50" fill="#EBF6F9" />
<rect x="1165.80" y="1003.10" width="8.88" height="17.50" fill="#EBF6F9" />
<rect x="1174.67" y="1003.10" width="8.88" height="17.50" fill="#EBF6F9" />
<rect x="1183.55" y="1003.10" width="8.88" height="17.50" fill="#EBF6F9" />
<rect x="1192.42" y="1003.10" width="8.88" height="17.50" fill="#EBF6F9" />
<rect x="1201.30" y="1003.10" width="8.88" height="17.50" fill="#EBF6F9" />
<rect x="1210.17" y="1003.10" width="8.88" height="17.50" fill="#EBF6F9" />
<rect x="1219.05" y="1003.10" width="8.88" height="17.50" fill="#EBF6F9" />
<rect x="1227.92" y="1003.10" width="8.88" height="17.50" fill="#EBF6F9" />
<rect x="1236.80" y="1003.10" width="8.88" height="17.50" fill="#EBF6F9" />
<rect x="1245.67" y="1003.10" width="8.88" height="17.50" fill="#EBF6F9" />
<rect x="1254.55" y="1003.10" width="8.88" height="17.50" fill="#EBF6F9" />
<rect x="1263.42" y="1003.10" width="8.88" height="17.50" fill="#EBF6F9" />
<path d="M810.80,1003.10V1020.60M819.67,1003.10V1020.60M828.55,1003.10V1020.60M837.42,1003.10V1020.60M846.30,1003.10V1020.60M855.17,1003.10V1020.60M864.05,1003.10V1020.60M872.92,1003.10V1020.60M881.80,1003.10V1020.60M890.67,1003.10V1020.60M899.55,1003.10V1020.60M908.42,1003.10V1020.60M917.30,1003.10V1020.60M926.17,1003.10V1020.60M935.05,1003.10V1020.60M943.92,1003.10V1020.60M952.80,1003.10V1020.60M961.67,1003.10V1020.60M970.55,1003.10V1020.60M979.42,1003.10V1020.60M988.30,1003.10V1020.60M997.17,1003.10V1020.60M1006.05,1003.10V1020.60M1014.92,1003.10V1020.60M1023.80,1003.10V1020.60M1032.67,1003.10V1020.60M1041.55,1003.10V1020.60M1050.42,1003.10V1020.60M1059.30,1003.10V1020.60M1068.17,1003.10V1020.60M1077.05,1003.10V1020.60M1085.92,1003.10V1020.60M1094.80,1003.10V1020.60M1103.67,1003.10V1020.60M1112.55,1003.10V1020.60M1121.42,1003.10V1020.60M1130.30,1003.10V1020.60M1139.17,1003.10V1020.60M1148.05,1003.10V1020.60M1156.92,1003.10V1020.60M1165.80,1003.10V1020.60M1174.67,1003.10V1020.60M1183.55,1003.10V1020.60M1192.42,1003.10V1020.60M1201.30,1003.10V1020.60M1210.17,1003.10V1020.60M1219.05,1003.10V1020.60M1227.92,1003.10V1020.60M1236.80,1003.10V1020.60M1245.67,1003.10V1020.60M1254.55,1003.10V1020.60M1263.42,1003.10V1020.60M1272.30,1003.10V1020.60M810.80,1003.10H1272.30M810.80,1020.60H1272.30" stroke="#979998" stroke-width="1.7" fill="none"/>
<rect x="810.80" y="1024.10" width="8.88" height="17.30" fill="#2CA25F" />
<rect x="819.67" y="1024.10" width="8.88" height="17.30" fill="#2CA25F" />
<rect x="828.55" y="1024.10" width="8.88" height="17.30" fill="#2CA25F" />
<rect x="837.42" y="1024.10" width="8.88" height="17.30" fill="#2CA25F" />
<rect x="846.30" y="1024.10" width="8.88" height="17.30" fill="#2CA25F" />
<rect x="855.17" y="1024.10" width="8.88" height="17.30" fill="#2CA25F" />
<rect x="864.05" y="1024.10" width="8.88" height="17.30" fill="#2CA25F" />
<rect x="872.92" y="1024.10" width="8.88" height="17.30" fill="#2CA25F" />
<rect x="881.80" y="1024.10" width="8.88" height="17.30" fill="#2CA25F" />
<rect x="890.67" y="1024.10" width="8.88" height="17.30" fill="#2CA25F" />
<rect x="899.55" y="1024.10" width="8.88" height="17.30" fill="#2CA25F" />
<rect x="908.42" y="1024.10" width="8.88" height="17.30" fill="#2CA25F" />
<rect x="917.30" y="1024.10" width="8.88" height="17.30" fill="#2CA25F" />
<rect x="926.17" y="1024.10" width="8.88" height="17.30" fill="#2CA25F" />
<rect x="935.05" y="1024.10" width="8.88" height="17.30" fill="#2CA25F" />
<rect x="943.92" y="1024.10" width="8.88" height="17.30" fill="#2CA25F" />
<rect x="952.80" y="1024.10" width="8.88" height="17.30" fill="#2CA25F" />
<rect x="961.67" y="1024.10" width="8.88" height="17.30" fill="#EBF6F9" />
<rect x="970.55" y="1024.10" width="8.88" height="17.30" fill="#EBF6F9" />
<rect x="979.42" y="1024.10" width="8.88" height="17.30" fill="#EBF6F9" />
<rect x="988.30" y="1024.10" width="8.88" height="17.30" fill="#EBF6F9" />
<rect x="997.17" y="1024.10" width="8.88" height="17.30" fill="#EBF6F9" />
<rect x="1006.05" y="1024.10" width="8.88" height="17.30" fill="#EBF6F9" />
<rect x="1014.92" y="1024.10" width="8.88" height="17.30" fill="#EBF6F9" />
<rect x="1023.80" y="1024.10" width="8.88" height="17.30" fill="#EBF6F9" />
<rect x="1032.67" y="1024.10" width="8.88" height="17.30" fill="#EBF6F9" />
<rect x="1041.55" y="1024.10" width="8.88" height="17.30" fill="#EBF6F9" />
<rect x="1050.42" y="1024.10" width="8.88" height="17.30" fill="#EBF6F9" />
<rect x="1059.30" y="1024.10" width="8.88" height="17.30" fill="#EBF6F9" />
<rect x="1068.17" y="1024.10" width="8.88" height="17.30" fill="#EBF6F9" />
<rect x="1077.05" y="1024.10" width="8.88" height="17.30" fill="#EBF6F9" />
<rect x="1085.92" y="1024.10" width="8.88" height="17.30" fill="#EBF6F9" />
<rect x="1094.80" y="1024.10" width="8.88" height="17.30" fill="#EBF6F9" />
<rect x="1103.67" y="1024.10" width="8.88" height="17.30" fill="#EBF6F9" />
<rect x="1112.55" y="1024.10" width="8.88" height="17.30" fill="#EBF6F9" />
<rect x="1121.42" y="1024.10" width="8.88" height="17.30" fill="#EBF6F9" />
<rect x="1130.30" y="1024.10" width="8.88" height="17.30" fill="#EBF6F9" />
<rect x="1139.17" y="1024.10" width="8.88" height="17.30" fill="#EBF6F9" />
<rect x="1148.05" y="1024.10" width="8.88" height="17.30" fill="#EBF6F9" />
<rect x="1156.92" y="1024.10" width="8.88" height="17.30" fill="#EBF6F9" />
<rect x="1165.80" y="1024.10" width="8.88" height="17.30" fill="#EBF6F9" />
<rect x="1174.67" y="1024.10" width="8.88" height="17.30" fill="#EBF6F9" />
<rect x="1183.55" y="1024.10" width="8.88" height="17.30" fill="#EBF6F9" />
<rect x="1192.42" y="1024.10" width="8.88" height="17.30" fill="#EBF6F9" />
<rect x="1201.30" y="1024.10" width="8.88" height="17.30" fill="#EBF6F9" />
<rect x="1210.17" y="1024.10" width="8.88" height="17.30" fill="#EBF6F9" />
<rect x="1219.05" y="1024.10" width="8.88" height="17.30" fill="#EBF6F9" />
<rect x="1227.92" y="1024.10" width="8.88" height="17.30" fill="#EBF6F9" />
<rect x="1236.80" y="1024.10" width="8.88" height="17.30" fill="#EBF6F9" />
<rect x="1245.67" y="1024.10" width="8.88" height="17.30" fill="#EBF6F9" />
<rect x="1254.55" y="1024.10" width="8.88" height="17.30" fill="#EBF6F9" />
<rect x="1263.42" y="1024.10" width="8.88" height="17.30" fill="#EBF6F9" />
<path d="M810.80,1024.10V1041.40M819.67,1024.10V1041.40M828.55,1024.10V1041.40M837.42,1024.10V1041.40M846.30,1024.10V1041.40M855.17,1024.10V1041.40M864.05,1024.10V1041.40M872.92,1024.10V1041.40M881.80,1024.10V1041.40M890.67,1024.10V1041.40M899.55,1024.10V1041.40M908.42,1024.10V1041.40M917.30,1024.10V1041.40M926.17,1024.10V1041.40M935.05,1024.10V1041.40M943.92,1024.10V1041.40M952.80,1024.10V1041.40M961.67,1024.10V1041.40M970.55,1024.10V1041.40M979.42,1024.10V1041.40M988.30,1024.10V1041.40M997.17,1024.10V1041.40M1006.05,1024.10V1041.40M1014.92,1024.10V1041.40M1023.80,1024.10V1041.40M1032.67,1024.10V1041.40M1041.55,1024.10V1041.40M1050.42,1024.10V1041.40M1059.30,1024.10V1041.40M1068.17,1024.10V1041.40M1077.05,1024.10V1041.40M1085.92,1024.10V1041.40M1094.80,1024.10V1041.40M1103.67,1024.10V1041.40M1112.55,1024.10V1041.40M1121.42,1024.10V1041.40M1130.30,1024.10V1041.40M1139.17,1024.10V1041.40M1148.05,1024.10V1041.40M1156.92,1024.10V1041.40M1165.80,1024.10V1041.40M1174.67,1024.10V1041.40M1183.55,1024.10V1041.40M1192.42,1024.10V1041.40M1201.30,1024.10V1041.40M1210.17,1024.10V1041.40M1219.05,1024.10V1041.40M1227.92,1024.10V1041.40M1236.80,1024.10V1041.40M1245.67,1024.10V1041.40M1254.55,1024.10V1041.40M1263.42,1024.10V1041.40M1272.30,1024.10V1041.40M810.80,1024.10H1272.30M810.80,1041.40H1272.30" stroke="#979998" stroke-width="1.7" fill="none"/>
<path d="M810.80,1046.80V1474.48M819.67,1046.80V1474.48M828.55,1046.80V1474.48M837.42,1046.80V1474.48M846.30,1046.80V1474.48M855.17,1046.80V1474.48M864.05,1046.80V1474.48M872.92,1046.80V1474.48M881.80,1046.80V1474.48M890.67,1046.80V1474.48M899.55,1046.80V1474.48M908.42,1046.80V1474.48M917.30,1046.80V1474.48M926.17,1046.80V1474.48M935.05,1046.80V1474.48M943.92,1046.80V1474.48M952.80,1046.80V1474.48M961.67,1046.80V1474.48M970.55,1046.80V1474.48M979.42,1046.80V1474.48M988.30,1046.80V1474.48M997.17,1046.80V1474.48M1006.05,1046.80V1474.48M1014.92,1046.80V1474.48M1023.80,1046.80V1474.48M1032.67,1046.80V1474.48M1041.55,1046.80V1474.48M1050.42,1046.80V1474.48M1059.30,1046.80V1474.48M1068.17,1046.80V1474.48M1077.05,1046.80V1474.48M1085.92,1046.80V1474.48M1094.80,1046.80V1474.48M1103.67,1046.80V1474.48M1112.55,1046.80V1474.48M1121.42,1046.80V1474.48M1130.30,1046.80V1474.48M1139.17,1046.80V1474.48M1148.05,1046.80V1474.48M1156.92,1046.80V1474.48M1165.80,1046.80V1474.48M1174.67,1046.80V1474.48M1183.55,1046.80V1474.48M1192.42,1046.80V1474.48M1201.30,1046.80V1474.48M1210.17,1046.80V1474.48M1219.05,1046.80V1474.48M1227.92,1046.80V1474.48M1236.80,1046.80V1474.48M1245.67,1046.80V1474.48M1254.55,1046.80V1474.48M1263.42,1046.80V1474.48M1272.30,1046.80V1474.48M809.95,1046.80H1273.15M809.95,1085.68H1273.15M809.95,1124.56H1273.15M809.95,1163.44H1273.15M809.95,1202.32H1273.15M809.95,1241.20H1273.15M809.95,1280.08H1273.15M809.95,1318.96H1273.15M809.95,1357.84H1273.15M809.95,1396.72H1273.15M809.95,1435.60H1273.15M809.95,1474.48H1273.15" stroke="#979998" stroke-width="1.7" fill="none"/>
<polyline points="810.00,1144.00 772.10,1144.00 772.10,1182.88 810.00,1182.88" fill="none" stroke="#000" stroke-width="2.4" stroke-linejoin="miter" stroke-linecap="butt"/>
<polyline points="810.00,1105.12 753.20,1105.12 753.20,1163.44 772.10,1163.44" fill="none" stroke="#000" stroke-width="2.4" stroke-linejoin="miter" stroke-linecap="butt"/>
<polyline points="810.00,1066.24 744.90,1066.24 744.90,1134.28 753.20,1134.28" fill="none" stroke="#000" stroke-width="2.4" stroke-linejoin="miter" stroke-linecap="butt"/>
<polyline points="810.00,1221.76 744.90,1221.76 744.90,1260.64 810.00,1260.64" fill="none" stroke="#000" stroke-width="2.4" stroke-linejoin="miter" stroke-linecap="butt"/>
<polyline points="810.00,1299.52 763.00,1299.52 763.00,1338.40 810.00,1338.40" fill="none" stroke="#000" stroke-width="2.4" stroke-linejoin="miter" stroke-linecap="butt"/>
<polyline points="810.00,1416.16 753.20,1416.16 753.20,1455.04 810.00,1455.04" fill="none" stroke="#000" stroke-width="2.4" stroke-linejoin="miter" stroke-linecap="butt"/>
<polyline points="810.00,1377.28 742.30,1377.28 742.30,1435.60 753.20,1435.60" fill="none" stroke="#000" stroke-width="2.4" stroke-linejoin="miter" stroke-linecap="butt"/>
<polyline points="763.00,1318.96 737.50,1318.96 737.50,1406.44 742.30,1406.44" fill="none" stroke="#000" stroke-width="2.4" stroke-linejoin="miter" stroke-linecap="butt"/>
<polyline points="744.90,1241.20 729.60,1241.20 729.60,1362.70 737.50,1362.70" fill="none" stroke="#000" stroke-width="2.4" stroke-linejoin="miter" stroke-linecap="butt"/>
<polyline points="744.90,1100.26 720.10,1100.26 720.10,1301.95 729.60,1301.95" fill="none" stroke="#000" stroke-width="2.4" stroke-linejoin="miter" stroke-linecap="butt"/>
<text x="961.55" y="985.10" style="font-size:31.56px;" textLength="219.58" lengthAdjust="spacingAndGlyphs" fill="#000" >Validation cohort</text>
<text x="1276.67" y="1017.00" style="font-size:14.11px;font-weight:bold;" textLength="91.30" lengthAdjust="spacingAndGlyphs" fill="#000" >Predict status</text>
<text x="1276.67" y="1037.80" style="font-size:14.11px;font-weight:bold;" textLength="73.90" lengthAdjust="spacingAndGlyphs" fill="#000" >Real status</text>
<text x="1276.46" y="1069.94" style="font-size:13.24px;" textLength="34.25" lengthAdjust="spacingAndGlyphs" fill="#000" >CBR3</text>
<text x="1276.04" y="1108.82" style="font-size:13.24px;" textLength="72.80" lengthAdjust="spacingAndGlyphs" fill="#000" >RNA5SP141</text>
<text x="1277.07" y="1147.70" style="font-size:13.24px;" textLength="71.39" lengthAdjust="spacingAndGlyphs" fill="#000" >AC104843.1</text>
<text x="1277.07" y="1186.58" style="font-size:13.24px;" textLength="69.26" lengthAdjust="spacingAndGlyphs" fill="#000" >AL691447.3</text>
<text x="1277.07" y="1225.46" style="font-size:13.24px;" textLength="69.26" lengthAdjust="spacingAndGlyphs" fill="#000" >AL136981.2</text>
<text x="1276.54" y="1256.44" style="font-size:13.24px;" textLength="105.66" lengthAdjust="spacingAndGlyphs" fill="#000" >chr13_42953948_</text>
<text x="1276.81" y="1271.84" style="font-size:13.24px;" textLength="69.23" lengthAdjust="spacingAndGlyphs" fill="#000" >42970670_.</text>
<text x="1276.04" y="1303.22" style="font-size:13.24px;" textLength="58.52" lengthAdjust="spacingAndGlyphs" fill="#000" >NPM1P25</text>
<text x="1276.04" y="1342.10" style="font-size:13.24px;" textLength="32.83" lengthAdjust="spacingAndGlyphs" fill="#000" >BEX2</text>
<text x="1276.46" y="1380.98" style="font-size:13.24px;" textLength="35.67" lengthAdjust="spacingAndGlyphs" fill="#000" >CTSG</text>
<text x="1276.04" y="1419.86" style="font-size:13.24px;" textLength="43.53" lengthAdjust="spacingAndGlyphs" fill="#000" >HOXB7</text>
<text x="1276.04" y="1458.74" style="font-size:13.24px;" textLength="39.73" lengthAdjust="spacingAndGlyphs" fill="#000" >KRT19</text>
<text x="1377.84" y="1032.10" style="font-size:18.04px;font-weight:bold;" textLength="123.42" lengthAdjust="spacingAndGlyphs" fill="#000" >Predict status</text>
<rect x="1378.30" y="1037.90" width="20.90" height="19.60" fill="#8757A7" />
<rect x="1378.30" y="1057.50" width="20.90" height="20.10" fill="#EBF6F9" />
<text x="1401.51" y="1053.50" style="font-size:16.29px;" textLength="50.83" lengthAdjust="spacingAndGlyphs" fill="#000" >Control</text>
<text x="1400.98" y="1073.20" style="font-size:16.29px;" textLength="22.18" lengthAdjust="spacingAndGlyphs" fill="#000" >BC</text>
<text x="1377.67" y="1105.50" style="font-size:18.04px;font-weight:bold;" textLength="97.48" lengthAdjust="spacingAndGlyphs" fill="#000" >Real status</text>
<rect x="1378.30" y="1110.10" width="20.90" height="19.60" fill="#2CA25F" />
<rect x="1378.30" y="1129.70" width="20.90" height="20.30" fill="#EBF6F9" />
<text x="1401.51" y="1124.00" style="font-size:16.29px;" textLength="50.83" lengthAdjust="spacingAndGlyphs" fill="#000" >Control</text>
<text x="1400.98" y="1144.60" style="font-size:16.29px;" textLength="22.18" lengthAdjust="spacingAndGlyphs" fill="#000" >BC</text>
<defs><linearGradient id="cb" x1="0" y1="0" x2="0" y2="1"><stop offset="0" stop-color="#ff0000"/><stop offset="0.493" stop-color="#ffffff"/><stop offset="1" stop-color="#0000ff"/></linearGradient></defs>
<rect x="1388.80" y="1178.20" width="18.40" height="273.40" fill="url(#cb)" />
<text x="1414.14" y="1209.50" style="font-size:16.06px;" textLength="8.93" lengthAdjust="spacingAndGlyphs" fill="#000" >4</text>
<text x="1413.70" y="1264.10" style="font-size:16.06px;" textLength="8.93" lengthAdjust="spacingAndGlyphs" fill="#000" >2</text>
<text x="1413.86" y="1318.60" style="font-size:16.06px;" textLength="8.93" lengthAdjust="spacingAndGlyphs" fill="#000" >0</text>
<text x="1413.59" y="1373.30" style="font-size:16.06px;" textLength="20.69" lengthAdjust="spacingAndGlyphs" fill="#000" >−2</text>
<text x="1413.59" y="1427.90" style="font-size:16.06px;" textLength="20.69" lengthAdjust="spacingAndGlyphs" fill="#000" >−4</text>
<text x="1351.50" y="1469.40" style="font-size:16.29px;" textLength="26.37" lengthAdjust="spacingAndGlyphs" fill="#000" >Log</text>
<text x="1377.6" y="1473.0" style="font-size:10.5px">2</text>
<text x="1382.61" y="1469.40" style="font-size:16.29px;" textLength="61.90" lengthAdjust="spacingAndGlyphs" fill="#000" >(TPM+1)</text>
</svg>
</body></html>
